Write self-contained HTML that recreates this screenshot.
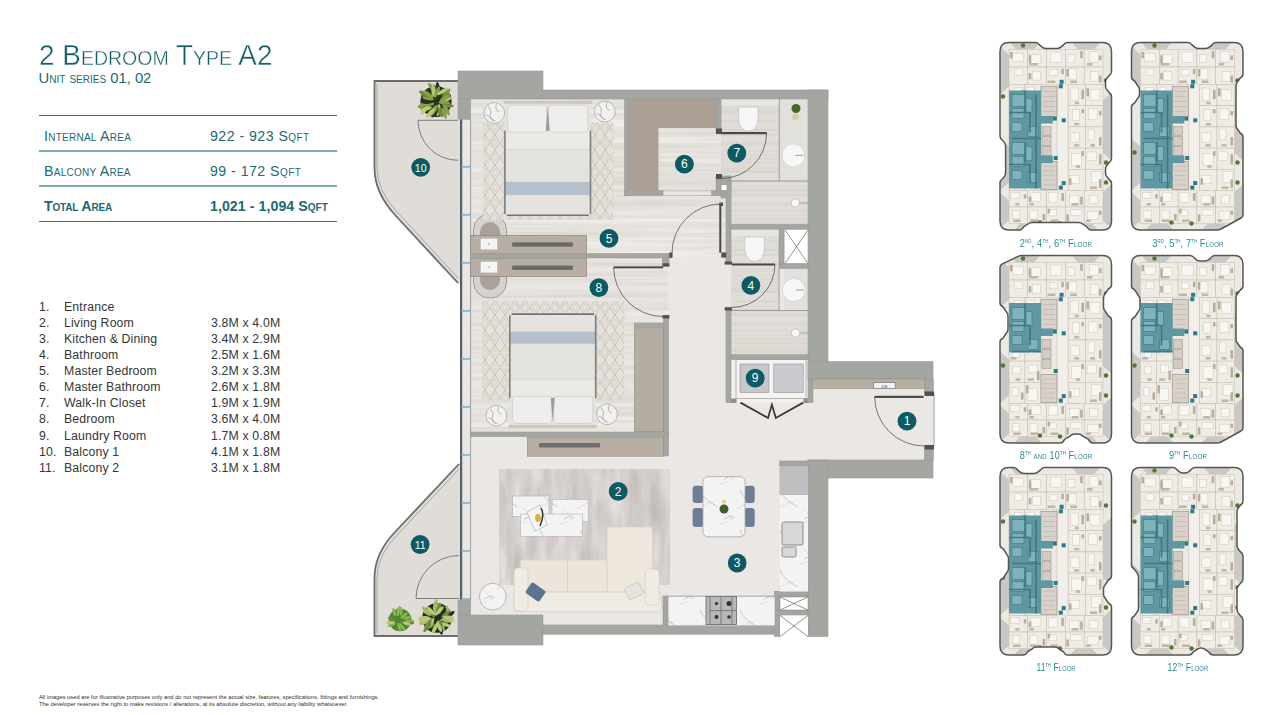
<!DOCTYPE html><html><head><meta charset="utf-8"><style>
*{margin:0;padding:0;box-sizing:border-box}
html,body{width:1280px;height:715px;background:#fff;overflow:hidden}
body{position:relative;font-family:"Liberation Sans",sans-serif}
.t{position:absolute;white-space:nowrap}
#title{left:39px;top:37.7px;font-size:30px;color:#14606a;-webkit-text-stroke:0.4px #fff;font-variant:small-caps;transform:scaleX(0.93);transform-origin:0 0}
#sub{left:38.5px;top:70px;font-size:14.8px;color:#1d6a72;font-variant:small-caps}
.hl{position:absolute;left:39px;width:298px;height:1px;background:#3f8088}
.rl{position:absolute;left:44px;font-size:14.2px;letter-spacing:0.25px;color:#1d6a72;font-variant:small-caps}
.rv{position:absolute;left:210px;font-size:14.2px;letter-spacing:0.45px;color:#1d6a72;font-variant:small-caps}
.rl.b{font-weight:bold;letter-spacing:-0.2px}.rv.b{font-weight:bold;letter-spacing:0.05px}
.li{position:absolute;font-size:12.3px;color:#363636;letter-spacing:0.15px}
#disc{left:39px;top:694px;font-size:5.75px;line-height:7.1px;color:#2e2e2e}
svg{position:absolute;left:0;top:0}
.kl{position:absolute;width:140px;text-align:center;font-size:10.5px;color:#2a8797;font-variant:small-caps;letter-spacing:0.2px;line-height:12px}
.kl sup{font-size:5px;vertical-align:4px;text-transform:uppercase;letter-spacing:0}
</style></head><body><div class="t" id="title">2 Bedroom Type A2</div>
<div class="t" id="sub">Unit series 01, 02</div>
<div class="hl" style="top:115px;height:1px;background:#2f747c"></div>
<div class="hl" style="top:150px;height:2px;background:#7eaab0"></div>
<div class="hl" style="top:185px;height:2px;background:#7eaab0"></div>
<div class="hl" style="top:221px;height:1px;background:#2f747c"></div>
<div class="t rl" style="top:127.5px">Internal Area</div>
<div class="t rv" style="top:127.5px">922 - 923 Sqft</div>
<div class="t rl" style="top:162.5px">Balcony Area</div>
<div class="t rv" style="top:162.5px">99 - 172 Sqft</div>
<div class="t rl b" style="top:197.5px">Total Area</div>
<div class="t rv b" style="top:197.5px">1,021 - 1,094 Sqft</div>
<div class="t li" style="left:39px;top:300.00px">1.</div>
<div class="t li" style="left:64px;top:300.00px">Entrance</div>
<div class="t li" style="left:39px;top:316.07px">2.</div>
<div class="t li" style="left:64px;top:316.07px">Living Room</div>
<div class="t li" style="left:211px;top:316.07px">3.8M x 4.0M</div>
<div class="t li" style="left:39px;top:332.14px">3.</div>
<div class="t li" style="left:64px;top:332.14px">Kitchen &amp; Dining</div>
<div class="t li" style="left:211px;top:332.14px">3.4M x 2.9M</div>
<div class="t li" style="left:39px;top:348.21px">4.</div>
<div class="t li" style="left:64px;top:348.21px">Bathroom</div>
<div class="t li" style="left:211px;top:348.21px">2.5M x 1.6M</div>
<div class="t li" style="left:39px;top:364.28px">5.</div>
<div class="t li" style="left:64px;top:364.28px">Master Bedroom</div>
<div class="t li" style="left:211px;top:364.28px">3.2M x 3.3M</div>
<div class="t li" style="left:39px;top:380.35px">6.</div>
<div class="t li" style="left:64px;top:380.35px">Master Bathroom</div>
<div class="t li" style="left:211px;top:380.35px">2.6M x 1.8M</div>
<div class="t li" style="left:39px;top:396.42px">7.</div>
<div class="t li" style="left:64px;top:396.42px">Walk-In Closet</div>
<div class="t li" style="left:211px;top:396.42px">1.9M x 1.9M</div>
<div class="t li" style="left:39px;top:412.49px">8.</div>
<div class="t li" style="left:64px;top:412.49px">Bedroom</div>
<div class="t li" style="left:211px;top:412.49px">3.6M x 4.0M</div>
<div class="t li" style="left:39px;top:428.56px">9.</div>
<div class="t li" style="left:64px;top:428.56px">Laundry Room</div>
<div class="t li" style="left:211px;top:428.56px">1.7M x 0.8M</div>
<div class="t li" style="left:39px;top:444.63px">10.</div>
<div class="t li" style="left:64px;top:444.63px">Balcony 1</div>
<div class="t li" style="left:211px;top:444.63px">4.1M x 1.8M</div>
<div class="t li" style="left:39px;top:460.70px">11.</div>
<div class="t li" style="left:64px;top:460.70px">Balcony 2</div>
<div class="t li" style="left:211px;top:460.70px">3.1M x 1.8M</div>
<div class="t" id="disc">All images used are for illustrative purposes only and do not represent the actual size, features, specifications, fittings and furnishings.<br>The developer reserves the right to make revisions / alterations, at its absolute discretion, without any liability whatsoever.</div>
<svg width="1280" height="715" viewBox="0 0 1280 715"><defs><pattern id="wood" width="200" height="60" patternUnits="userSpaceOnUse"><rect x="0" y="0" width="200" height="2" fill="#e9e7e4"/><rect x="0" y="2" width="200" height="2.5" fill="#e7e5e1"/><rect x="0" y="4.5" width="200" height="1" fill="#e2dfdb"/><rect x="0" y="5.5" width="200" height="3" fill="#e2dfdb"/><rect x="0" y="8.5" width="200" height="2" fill="#dfdcd7"/><rect x="0" y="10.5" width="200" height="1" fill="#dfdcd7"/><rect x="0" y="11.5" width="200" height="1.5" fill="#e2dfdb"/><rect x="0" y="13.0" width="200" height="1" fill="#ecebe8"/><rect x="0" y="14.0" width="200" height="2.5" fill="#e2dfdb"/><rect x="0" y="16.5" width="200" height="1.5" fill="#e2dfdb"/><rect x="0" y="18.0" width="200" height="3" fill="#ecebe8"/><rect x="0" y="21.0" width="200" height="1" fill="#dfdcd7"/><rect x="0" y="22.0" width="200" height="1" fill="#e9e7e4"/><rect x="0" y="23.0" width="200" height="4" fill="#e7e5e1"/><rect x="0" y="27.0" width="200" height="3" fill="#e2dfdb"/><rect x="0" y="30.0" width="200" height="3" fill="#dfdcd7"/><rect x="0" y="33.0" width="200" height="2.5" fill="#e2dfdb"/><rect x="0" y="35.5" width="200" height="1.5" fill="#e2dfdb"/><rect x="0" y="37.0" width="200" height="3" fill="#e9e7e4"/><rect x="0" y="40.0" width="200" height="2" fill="#ecebe8"/><rect x="0" y="42.0" width="200" height="1.5" fill="#dfdcd7"/><rect x="0" y="43.5" width="200" height="1" fill="#dfdcd7"/><rect x="0" y="44.5" width="200" height="2" fill="#dfdcd7"/><rect x="0" y="46.5" width="200" height="4" fill="#e9e7e4"/><rect x="0" y="50.5" width="200" height="1" fill="#dfdcd7"/><rect x="0" y="51.5" width="200" height="3" fill="#e7e5e1"/><rect x="0" y="54.5" width="200" height="1.5" fill="#e5e2de"/><rect x="0" y="56.0" width="200" height="1" fill="#dfdcd7"/><rect x="0" y="57.0" width="200" height="4" fill="#e2dfdb"/></pattern><pattern id="tile" width="200" height="60" patternUnits="userSpaceOnUse"><rect x="0" y="0" width="200" height="3" fill="#dcd8d2"/><rect x="0" y="3" width="200" height="3" fill="#e2dfda"/><rect x="0" y="6" width="200" height="2.5" fill="#dedad4"/><rect x="0" y="8.5" width="200" height="2.5" fill="#d9d5cf"/><rect x="0" y="11.0" width="200" height="2.5" fill="#dedad4"/><rect x="0" y="13.5" width="200" height="2.5" fill="#d9d5cf"/><rect x="0" y="16.0" width="200" height="2" fill="#e2dfda"/><rect x="0" y="18.0" width="200" height="1.5" fill="#e2dfda"/><rect x="0" y="19.5" width="200" height="1" fill="#dedad4"/><rect x="0" y="20.5" width="200" height="2" fill="#dedad4"/><rect x="0" y="22.5" width="200" height="2.5" fill="#d9d5cf"/><rect x="0" y="25.0" width="200" height="4" fill="#e0ddd8"/><rect x="0" y="29.0" width="200" height="2" fill="#dedad4"/><rect x="0" y="31.0" width="200" height="1" fill="#dcd8d2"/><rect x="0" y="32.0" width="200" height="3" fill="#e0ddd8"/><rect x="0" y="35.0" width="200" height="1.5" fill="#d9d5cf"/><rect x="0" y="36.5" width="200" height="1.5" fill="#e0ddd8"/><rect x="0" y="38.0" width="200" height="2.5" fill="#dcd8d2"/><rect x="0" y="40.5" width="200" height="4" fill="#dcd8d2"/><rect x="0" y="44.5" width="200" height="3" fill="#dedad4"/><rect x="0" y="47.5" width="200" height="2" fill="#d9d5cf"/><rect x="0" y="49.5" width="200" height="4" fill="#d9d5cf"/><rect x="0" y="53.5" width="200" height="3" fill="#e0ddd8"/><rect x="0" y="56.5" width="200" height="3" fill="#e0ddd8"/><rect x="0" y="59.5" width="200" height="1" fill="#dcd8d2"/></pattern><pattern id="rug" width="10" height="15" patternUnits="userSpaceOnUse"><rect width="10" height="15" fill="#e5e1db"/><path d="M5,0 L10,7.5 L5,15 L0,7.5 Z" fill="none" stroke="#c7c0b6" stroke-width="0.9"/><path d="M5,3.5 L7.5,7.5 L5,11.5 L2.5,7.5 Z" fill="none" stroke="#d1cbc3" stroke-width="0.7"/></pattern><pattern id="lrug" width="60" height="120" patternUnits="userSpaceOnUse"><rect width="60" height="120" fill="#d9d3ce"/><rect x="56.7" y="-12.2" width="3.4" height="93.1" fill="#c2c4c9" opacity="0.7"/><rect x="18.6" y="78.6" width="3.9" height="48.5" fill="#c2c4c9" opacity="0.7"/><rect x="23.1" y="92.9" width="4.3" height="55.5" fill="#cfc8c3" opacity="0.7"/><rect x="36.7" y="72.2" width="3.5" height="32.9" fill="#e2ddd8" opacity="0.7"/><rect x="14.9" y="-10.3" width="3.0" height="64.9" fill="#d4cbc3" opacity="0.7"/><rect x="33.0" y="83.7" width="5.4" height="47.8" fill="#d4cbc3" opacity="0.7"/><rect x="24.9" y="94.9" width="2.8" height="35.1" fill="#d4cbc3" opacity="0.7"/><rect x="10.6" y="-18.6" width="2.2" height="103.1" fill="#e2ddd8" opacity="0.7"/><rect x="10.9" y="30.3" width="2.4" height="56.9" fill="#e2ddd8" opacity="0.7"/><rect x="34.0" y="83.1" width="5.8" height="115.0" fill="#c2c4c9" opacity="0.7"/><rect x="39.3" y="87.9" width="4.7" height="98.0" fill="#d4cbc3" opacity="0.7"/><rect x="52.5" y="27.8" width="5.0" height="59.4" fill="#d4cbc3" opacity="0.7"/><rect x="28.9" y="-11.9" width="3.0" height="40.9" fill="#e2ddd8" opacity="0.7"/><rect x="9.7" y="-7.7" width="2.7" height="76.7" fill="#cfc8c3" opacity="0.7"/><rect x="32.2" y="-16.9" width="5.7" height="107.4" fill="#e6e1dc" opacity="0.7"/><rect x="36.8" y="94.7" width="1.7" height="80.2" fill="#c9c8cc" opacity="0.7"/><rect x="28.4" y="99.2" width="1.6" height="66.6" fill="#d4cbc3" opacity="0.7"/><rect x="29.0" y="70.0" width="1.4" height="94.0" fill="#cfc8c3" opacity="0.7"/><rect x="28.7" y="-17.2" width="4.5" height="115.1" fill="#e6e1dc" opacity="0.7"/><rect x="31.7" y="89.7" width="1.7" height="95.8" fill="#e6e1dc" opacity="0.7"/><rect x="17.9" y="63.5" width="4.2" height="46.1" fill="#cfc8c3" opacity="0.7"/><rect x="22.0" y="43.9" width="1.8" height="97.9" fill="#e2ddd8" opacity="0.7"/><rect x="19.8" y="76.7" width="2.1" height="101.8" fill="#e2ddd8" opacity="0.7"/><rect x="44.4" y="39.1" width="2.1" height="93.1" fill="#e6e1dc" opacity="0.7"/><rect x="59.4" y="11.1" width="5.0" height="89.3" fill="#d4cbc3" opacity="0.7"/><rect x="57.4" y="98.6" width="3.2" height="115.5" fill="#c2c4c9" opacity="0.7"/><rect x="21.9" y="36.4" width="2.1" height="53.8" fill="#e2ddd8" opacity="0.7"/><rect x="29.0" y="80.9" width="5.9" height="67.9" fill="#e6e1dc" opacity="0.7"/><rect x="39.2" y="80.2" width="5.0" height="32.0" fill="#cfc8c3" opacity="0.7"/><rect x="23.3" y="37.4" width="4.6" height="37.9" fill="#e2ddd8" opacity="0.7"/><rect x="47.3" y="27.5" width="2.7" height="60.1" fill="#c2c4c9" opacity="0.7"/><rect x="56.8" y="99.2" width="4.6" height="22.8" fill="#e2ddd8" opacity="0.7"/><rect x="35.4" y="-2.5" width="3.3" height="102.7" fill="#c2c4c9" opacity="0.7"/><rect x="58.8" y="-1.3" width="4.3" height="74.8" fill="#c9c8cc" opacity="0.7"/><rect x="1.3" y="58.0" width="5.0" height="72.7" fill="#c2c4c9" opacity="0.7"/><rect x="56.0" y="79.1" width="3.2" height="41.1" fill="#e2ddd8" opacity="0.7"/><rect x="15.1" y="71.6" width="2.5" height="52.6" fill="#e2ddd8" opacity="0.7"/><rect x="32.7" y="89.2" width="5.2" height="55.4" fill="#cfc8c3" opacity="0.7"/><rect x="27.5" y="30.5" width="3.9" height="111.8" fill="#e6e1dc" opacity="0.7"/><rect x="30.1" y="41.3" width="3.7" height="107.3" fill="#e6e1dc" opacity="0.7"/></pattern><pattern id="marble" width="40" height="40" patternUnits="userSpaceOnUse"><rect width="40" height="40" fill="#f3f3f3"/><path d="M31.1,24.3 q5.5,-7.0 -14.3,4.8" stroke="#c2c3c7" stroke-width="0.5" fill="none"/><path d="M2.5,27.3 q0.6,-0.4 11.1,15.3" stroke="#c2c3c7" stroke-width="0.4" fill="none"/><path d="M7.7,1.7 q-8.0,-1.0 -18.9,15.8" stroke="#c2c3c7" stroke-width="0.4" fill="none"/><path d="M13.0,38.9 q2.1,-6.0 -8.9,0.3" stroke="#c2c3c7" stroke-width="0.9" fill="none"/><path d="M20.3,9.9 q0.5,7.5 17.1,16.9" stroke="#c2c3c7" stroke-width="0.9" fill="none"/></pattern><filter id="rugf" x="0" y="0" width="100%" height="100%" color-interpolation-filters="sRGB"><feTurbulence type="fractalNoise" baseFrequency="0.07 0.015" numOctaves="4" seed="5"/><feColorMatrix type="matrix" values="0.24 0 0 0 0.715  0.24 0 0 0 0.693  0.26 0 0 0 0.673  0 0 0 0 1"/></filter><filter id="woodf" x="0" y="0" width="100%" height="100%" color-interpolation-filters="sRGB"><feTurbulence type="fractalNoise" baseFrequency="0.004 0.22" numOctaves="3" seed="9"/><feColorMatrix type="matrix" values="0.14 0 0 0 0.832  0.14 0 0 0 0.82  0.14 0 0 0 0.80  0 0 0 0 1"/></filter></defs><path d="M374,81 L461,81 L461,286 L396,216 Q374,193 374,168 Z" fill="#e0dcd8"/><path d="M458,81 L374.5,81 L374.5,168 Q374.5,193 396,216 L458,283" fill="none" stroke="#6d6d6d" stroke-width="1.8"/><path d="M377,84 L377,168 Q377,191 398,213 L458,278" fill="none" stroke="#9a9a9a" stroke-width="0.8"/><path d="M461,462 L396,531 Q374,553 374,578 L374,636 L461,636 Z" fill="#e0dcd8"/><path d="M459,464 L396,531 Q374.5,553 374.5,578 L374.5,636 L459,636" fill="none" stroke="#6d6d6d" stroke-width="1.8"/><path d="M459,469 L398,534 Q377,555 377,578 L377,633" fill="none" stroke="#9a9a9a" stroke-width="0.8"/><path d="M418,120.3 L458,120.3 M418,120.3 A40,40 0 0 0 458,160.3" fill="none" stroke="#666" stroke-width="0.8"/><path d="M416,598.5 L459,598.5 M416,598.5 A43,43 0 0 1 459,555.5" fill="none" stroke="#666" stroke-width="0.8"/><rect x="461" y="99" width="347.00" height="526.00" fill="#ebe7e4" /><rect x="808" y="379" width="125.00" height="81.00" fill="#ebe7e4" /><g filter="url(#woodf)"><rect x="461" y="99" width="265" height="333" fill="#e6e3df"/></g><rect x="668.5" y="258" width="57.50" height="179.00" fill="#ebe7e4" /><rect x="663.5" y="432" width="62.50" height="5.00" fill="#ebe7e4" /><rect x="721" y="99" width="58.30" height="82.00" fill="url(#tile)" /><rect x="721" y="99" width="58.30" height="6.50" fill="#e7e5e2" /><rect x="779.3" y="99" width="28.70" height="82.00" fill="#e2e0dd" /><rect x="731" y="181" width="77.00" height="43.30" fill="url(#tile)" /><rect x="731" y="229.2" width="48.00" height="81.30" fill="url(#tile)" /><rect x="731" y="229.2" width="48.00" height="6.80" fill="#e7e5e2" /><rect x="784" y="268.4" width="24.00" height="42.10" fill="#e2e0dd" /><rect x="785" y="230" width="23.00" height="33.50" fill="#ffffff" /><path d="M785,230 L808,263.5 M808,230 L785,263.5" stroke="#666" stroke-width="0.7"/><rect x="731" y="310.5" width="77.00" height="44.20" fill="url(#tile)" /><line x1="731" y1="181" x2="808" y2="181" stroke="#8a8a8a" stroke-width="0.8" /><line x1="779.3" y1="99" x2="779.3" y2="181" stroke="#8a8a8a" stroke-width="0.8" /><line x1="731" y1="310.5" x2="808" y2="310.5" stroke="#8a8a8a" stroke-width="0.8" /><line x1="779" y1="268.4" x2="779" y2="310.5" stroke="#8a8a8a" stroke-width="0.8" /><rect x="731" y="359.6" width="77.00" height="43.00" fill="#f2f1ef" /><rect x="736" y="359.6" width="70.00" height="39.10" fill="#f5f4f2" stroke="#8a8a8a" stroke-width="0.6"/><rect x="740" y="364" width="29.00" height="28.50" fill="#c6c8cb" stroke="#8f9194" stroke-width="0.6"/><rect x="773.8" y="364" width="29.40" height="28.50" fill="#c9cbce" stroke="#8f9194" stroke-width="0.6"/><path d="M629,99 L716,99 L716,128 L658.5,128 L658.5,190.7 L629,190.7 Z" fill="#ac9f93"/><rect x="461" y="119" width="9.60" height="481.50" fill="#e9e7e4" /><rect x="460" y="119" width="2.20" height="481.50" fill="#56616a" /><line x1="470.6" y1="119" x2="470.6" y2="600.5" stroke="#8c8c8c" stroke-width="0.8" /><rect x="461.5" y="117.89999999999999" width="9.10" height="1.80" fill="#8cb7d3" /><rect x="461.5" y="165.92" width="9.10" height="1.80" fill="#8cb7d3" /><rect x="461.5" y="213.94" width="9.10" height="1.80" fill="#8cb7d3" /><rect x="461.5" y="261.96000000000004" width="9.10" height="1.80" fill="#8cb7d3" /><rect x="461.5" y="309.98" width="9.10" height="1.80" fill="#8cb7d3" /><rect x="461.5" y="358.00000000000006" width="9.10" height="1.80" fill="#8cb7d3" /><rect x="461.5" y="406.02000000000004" width="9.10" height="1.80" fill="#8cb7d3" /><rect x="461.5" y="454.0400000000001" width="9.10" height="1.80" fill="#8cb7d3" /><rect x="461.5" y="502.06000000000006" width="9.10" height="1.80" fill="#8cb7d3" /><rect x="461.5" y="550.08" width="9.10" height="1.80" fill="#8cb7d3" /><rect x="461.5" y="598.1" width="9.10" height="1.80" fill="#8cb7d3" /><rect x="458" y="71" width="85.00" height="28.00" fill="#a4a6a1" stroke="#9a9c97" stroke-width="0.6"/><rect x="543" y="90" width="285.00" height="9.00" fill="#a4a6a1" stroke="#9a9c97" stroke-width="0.6"/><rect x="808" y="90" width="20.00" height="289.00" fill="#a4a6a1" stroke="#9a9c97" stroke-width="0.6"/><rect x="808" y="361.5" width="125.00" height="17.50" fill="#a4a6a1" stroke="#9a9c97" stroke-width="0.6"/><rect x="808" y="460" width="125.00" height="18.00" fill="#a4a6a1" stroke="#9a9c97" stroke-width="0.6"/><rect x="808" y="460" width="20.00" height="176.50" fill="#a4a6a1" stroke="#9a9c97" stroke-width="0.6"/><rect x="543" y="625" width="265.00" height="9.20" fill="#a4a6a1" stroke="#9a9c97" stroke-width="0.6"/><rect x="458" y="615" width="85.00" height="30.00" fill="#a4a6a1" stroke="#9a9c97" stroke-width="0.6"/><rect x="458" y="600" width="12.60" height="15.00" fill="#a4a6a1" stroke="#9a9c97" stroke-width="0.6"/><rect x="458" y="99" width="12.60" height="20.00" fill="#a4a6a1" stroke="#9a9c97" stroke-width="0.6"/><rect x="470.6" y="253.5" width="201.40" height="4.50" fill="#a4a6a1" stroke="#9a9c97" stroke-width="0.6"/><rect x="624.6" y="99" width="4.40" height="96.60" fill="#a4a6a1" stroke="#9a9c97" stroke-width="0.6"/><rect x="624.6" y="190.7" width="38.40" height="4.90" fill="#a4a6a1" stroke="#9a9c97" stroke-width="0.6"/><rect x="711.4" y="190.7" width="9.60" height="4.90" fill="#a4a6a1" stroke="#9a9c97" stroke-width="0.6"/><rect x="716" y="99" width="5.00" height="34.00" fill="#a4a6a1" stroke="#9a9c97" stroke-width="0.6"/><rect x="716" y="176" width="5.00" height="19.60" fill="#a4a6a1" stroke="#9a9c97" stroke-width="0.6"/><rect x="721" y="176" width="10.00" height="22.00" fill="#a4a6a1" stroke="#9a9c97" stroke-width="0.6"/><rect x="726" y="181" width="5.00" height="82.50" fill="#a4a6a1" stroke="#9a9c97" stroke-width="0.6"/><rect x="726" y="307.5" width="5.00" height="95.10" fill="#a4a6a1" stroke="#9a9c97" stroke-width="0.6"/><rect x="731" y="224.3" width="77.00" height="4.90" fill="#a4a6a1" stroke="#9a9c97" stroke-width="0.6"/><rect x="779" y="229" width="5.00" height="34.50" fill="#a4a6a1" stroke="#9a9c97" stroke-width="0.6"/><rect x="779" y="263.5" width="29.00" height="4.90" fill="#a4a6a1" stroke="#9a9c97" stroke-width="0.6"/><rect x="731" y="354.7" width="77.00" height="4.90" fill="#a4a6a1" stroke="#9a9c97" stroke-width="0.6"/><rect x="808" y="379" width="5.00" height="23.60" fill="#a4a6a1" stroke="#9a9c97" stroke-width="0.6"/><rect x="663.4" y="315.5" width="5.10" height="140.50" fill="#a4a6a1" stroke="#9a9c97" stroke-width="0.6"/><rect x="470.6" y="432" width="197.90" height="4.60" fill="#a4a6a1" stroke="#9a9c97" stroke-width="0.6"/><rect x="662.3" y="258" width="6.70" height="7.20" fill="#a4a6a1" stroke="#9a9c97" stroke-width="0.6"/><rect x="774.6" y="591.5" width="5.40" height="45.10" fill="#a4a6a1" stroke="#9a9c97" stroke-width="0.6"/><rect x="774.6" y="591.5" width="33.40" height="5.50" fill="#a4a6a1" stroke="#9a9c97" stroke-width="0.6"/><rect x="774.6" y="610" width="33.40" height="5.40" fill="#a4a6a1" stroke="#9a9c97" stroke-width="0.6"/><rect x="663" y="596" width="5.50" height="29.00" fill="#a4a6a1" stroke="#9a9c97" stroke-width="0.6"/><rect x="779.4" y="461" width="28.60" height="5.00" fill="#a4a6a1" stroke="#9a9c97" stroke-width="0.6"/><rect x="924.5" y="379" width="8.90" height="13.80" fill="#a4a6a1" stroke="#9a9c97" stroke-width="0.6"/><rect x="924.5" y="445.7" width="8.90" height="14.70" fill="#a4a6a1" stroke="#9a9c97" stroke-width="0.6"/><rect x="663" y="190.9" width="48.40" height="4.50" fill="#e8e6e3" stroke="#999" stroke-width="0.5"/><rect x="721.5" y="185" width="5" height="5" fill="#fff"/><rect x="779.4" y="466" width="28.60" height="29.00" fill="#bdbec0" /><rect x="779.7" y="495" width="28.30" height="96.50" fill="url(#marble)" /><rect x="782" y="522" width="21.00" height="23.00" fill="#d8d8d8" stroke="#777" stroke-width="0.8" rx="1.5"/><rect x="782" y="547" width="14.00" height="10.00" fill="#d8d8d8" stroke="#777" stroke-width="0.8" rx="1.5"/><rect x="668.5" y="596.2" width="106.10" height="29.20" fill="url(#marble)" /><line x1="668.5" y1="596.2" x2="774.6" y2="596.2" stroke="#888" stroke-width="0.7" /><rect x="706" y="596.6" width="30.50" height="28.00" fill="#b8b8b8" stroke="#666" stroke-width="0.8"/><path d="M710,597 V624 M721,597 V624 M732,597 V624 M710,610.6 H736" stroke="#555" stroke-width="0.6"/><circle cx="716.5" cy="603.5" r="1.6" fill="#333"/><circle cx="729" cy="603.5" r="2.5" fill="#333"/><circle cx="716.5" cy="617" r="2" fill="#333"/><circle cx="729" cy="617" r="1.8" fill="#333"/><rect x="780" y="597" width="28.00" height="13.00" fill="#fff" /><rect x="780" y="615.4" width="28.00" height="21.20" fill="#fff" /><path d="M780,597 L808,610 M808,597 L780,610 M780,615.4 L808,636.6 M808,615.4 L780,636.6" stroke="#666" stroke-width="0.7"/><rect x="780" y="597" width="28.00" height="13.00" fill="none" stroke="#888" stroke-width="0.5"/><rect x="812" y="379" width="112.50" height="9.50" fill="#b9aea2" stroke="#8e857b" stroke-width="0.5"/><rect x="873.6" y="382.7" width="21.60" height="5.80" fill="#f2f2f2" stroke="#666" stroke-width="0.6"/><line x1="934" y1="392.8" x2="934" y2="445.7" stroke="#777" stroke-width="0.8" /><rect x="473.5" y="214" width="33" height="46" rx="16" fill="#d6d2cd" stroke="#8f8b87" stroke-width="0.8"/><rect x="480" y="222" width="20" height="34" rx="10" fill="#a9a29b"/><rect x="473.5" y="252" width="33" height="46" rx="16" fill="#d6d2cd" stroke="#8f8b87" stroke-width="0.8"/><rect x="480" y="256" width="20" height="34" rx="10" fill="#a9a29b"/><rect x="470.6" y="235.3" width="115.90" height="18.60" fill="#b8aea3" stroke="#8e857b" stroke-width="0.7"/><rect x="480.4" y="238.3" width="17.20" height="11.50" fill="#f4f4f4" stroke="#aaa" stroke-width="0.4"/><circle cx="489" cy="244.0" r="0.7" fill="#777"/><rect x="512" y="242.3" width="61.00" height="4.50" fill="#707070" rx="1"/><rect x="514" y="243.3" width="57.00" height="2.50" fill="#6a6a6a" /><rect x="470.6" y="258.4" width="115.90" height="18.00" fill="#b8aea3" stroke="#8e857b" stroke-width="0.7"/><rect x="480.4" y="261.4" width="17.20" height="11.50" fill="#f4f4f4" stroke="#aaa" stroke-width="0.4"/><circle cx="489" cy="267.09999999999997" r="0.7" fill="#777"/><rect x="512" y="265.4" width="61.00" height="4.50" fill="#707070" rx="1"/><rect x="514" y="266.4" width="57.00" height="2.50" fill="#6a6a6a" /><rect x="470.6" y="253.9" width="115.90" height="4.50" fill="#a4a6a1" stroke="#9a9c97" stroke-width="0.6"/><rect x="483" y="122.4" width="130.30" height="97.30" fill="url(#rug)" /><rect x="482.2" y="301.1" width="142.10" height="99.40" fill="url(#rug)" /><g transform="translate(503.7,100.7)"><rect x="0" y="0" width="88" height="3.2" fill="#cfc5ba"/><rect x="1.5" y="3" width="85" height="112.3" fill="#e5e3df" rx="2"/><rect x="4" y="4.5" width="39.0" height="27" rx="3" fill="#eeeeec" stroke="#cfcecb" stroke-width="0.8"/><rect x="45.0" y="4.5" width="39.0" height="27" rx="3" fill="#eeeeec" stroke="#cfcecb" stroke-width="0.8"/><path d="M44.0,6 L42.0,30 L46.0,30 Z" fill="#9c9c9c"/><rect x="1" y="32" width="86" height="17" fill="#ebe9e6"/><line x1="1" y1="49" x2="87" y2="49" stroke="#d5d3cf" stroke-width="1"/><line x1="1" y1="73.2" x2="87" y2="73.2" stroke="#dcdad6" stroke-width="0.8"/><rect x="1" y="81.2" width="86" height="13.200000000000003" fill="#b4c1cb"/><path d="M1.2,30 V113.3 M86.8,30 V113.3" stroke="#7d7d7d" stroke-width="1.6"/><path d="M3,114.5 H85" stroke="#727272" stroke-width="1.6"/></g><g transform="translate(508.6,427.9) scale(1,-1)"><rect x="0" y="0" width="88.3" height="3.2" fill="#cfc5ba"/><rect x="1.5" y="3" width="85.3" height="111.6" fill="#e5e3df" rx="2"/><rect x="4" y="4.5" width="39.15" height="27" rx="3" fill="#eeeeec" stroke="#cfcecb" stroke-width="0.8"/><rect x="45.15" y="4.5" width="39.15" height="27" rx="3" fill="#eeeeec" stroke="#cfcecb" stroke-width="0.8"/><path d="M44.15,6 L42.15,30 L46.15,30 Z" fill="#9c9c9c"/><rect x="1" y="32" width="86.3" height="17" fill="#ebe9e6"/><line x1="1" y1="49" x2="87.3" y2="49" stroke="#d5d3cf" stroke-width="1"/><line x1="1" y1="76.2" x2="87.3" y2="76.2" stroke="#dcdad6" stroke-width="0.8"/><rect x="1" y="84.2" width="86.3" height="12.200000000000003" fill="#b4c1cb"/><path d="M1.2,30 V112.6 M87.1,30 V112.6" stroke="#7d7d7d" stroke-width="1.6"/><path d="M3,113.8 H85.3" stroke="#727272" stroke-width="1.6"/></g><circle cx="494.3" cy="113" r="10.4" fill="#f0f0f0" stroke="#a8a8a8" stroke-width="0.8"/><path d="M488.3,106 q4,5 2,9 t5,6 M496.3,104 q-2,6 3,8 M486.3,115 q5,1 7,6" fill="none" stroke="#a9abb0" stroke-width="0.9"/><circle cx="604.8" cy="111.6" r="10.4" fill="#f0f0f0" stroke="#a8a8a8" stroke-width="0.8"/><path d="M598.8,104.6 q4,5 2,9 t5,6 M606.8,102.6 q-2,6 3,8 M596.8,113.6 q5,1 7,6" fill="none" stroke="#a9abb0" stroke-width="0.9"/><circle cx="496.4" cy="415.7" r="10.4" fill="#f0f0f0" stroke="#a8a8a8" stroke-width="0.8"/><path d="M490.4,408.7 q4,5 2,9 t5,6 M498.4,406.7 q-2,6 3,8 M488.4,417.7 q5,1 7,6" fill="none" stroke="#a9abb0" stroke-width="0.9"/><circle cx="607" cy="414.3" r="10.4" fill="#f0f0f0" stroke="#a8a8a8" stroke-width="0.8"/><path d="M601,407.3 q4,5 2,9 t5,6 M609,405.3 q-2,6 3,8 M599,416.3 q5,1 7,6" fill="none" stroke="#a9abb0" stroke-width="0.9"/><rect x="634.6" y="323.1" width="28.80" height="108.60" fill="#b5aca2" stroke="#8e857b" stroke-width="0.6"/><rect x="634.6" y="323.1" width="28.80" height="5.50" fill="#a6a7a4" /><rect x="527.5" y="437.2" width="136.10" height="19.00" fill="#b7aea4" stroke="#8e857b" stroke-width="0.6"/><rect x="539" y="443" width="61.00" height="4.40" fill="#6e6e6e" rx="1"/><path d="M738.6,107 H758 V119.15 A9.699999999999989,12.150000000000006 0 0 1 738.6,119.15 Z" fill="#f6f6f6" stroke="#b9b9b9" stroke-width="0.6"/><path d="M744.8,237 H764.4 V249.25 A9.800000000000011,12.25 0 0 1 744.8,249.25 Z" fill="#f6f6f6" stroke="#b9b9b9" stroke-width="0.6"/><circle cx="793.4" cy="155.4" r="11.5" fill="#f7f7f7" stroke="#d0d0d0" stroke-width="0.8"/><line x1="795.4" y1="155.4" x2="803.4" y2="155.4" stroke="#a5a5a5" stroke-width="1.1" /><circle cx="793.8" cy="290" r="11.5" fill="#f7f7f7" stroke="#d0d0d0" stroke-width="0.8"/><line x1="795.8" y1="290" x2="803.8" y2="290" stroke="#a5a5a5" stroke-width="1.1" /><circle cx="795.5" cy="203" r="4.2" fill="#f8f8f8" stroke="#aaa" stroke-width="0.6"/><line x1="799.5" y1="203" x2="807.5" y2="203" stroke="#999" stroke-width="0.8" /><circle cx="795.7" cy="333" r="4.2" fill="#f8f8f8" stroke="#aaa" stroke-width="0.6"/><line x1="799.7" y1="333" x2="807.7" y2="333" stroke="#999" stroke-width="0.8" /><circle cx="795.5" cy="117" r="2.6" fill="#e9d27a" stroke="#c8b060" stroke-width="0.5"/><circle cx="796" cy="108.5" r="4.5" fill="#3f6b2a"/><rect x="499" y="469.3" width="170.80" height="115.70" fill="#d8d2cd" filter="url(#rugf)"/><g filter="none"><rect x="512.5" y="496" width="36.50" height="20.50" fill="url(#marble)" stroke="#b0b0b0" stroke-width="0.6"/><rect x="552" y="499.3" width="36.20" height="22.50" fill="url(#marble)" stroke="#b0b0b0" stroke-width="0.6"/><rect x="520.7" y="514" width="61.60" height="22.50" fill="url(#marble)" stroke="#b0b0b0" stroke-width="0.6"/></g><path d="M527,512 L540,505 L547,525 L535,531 Z" fill="#f5f5f5" stroke="#999" stroke-width="0.5"/><ellipse cx="538" cy="518" rx="3" ry="4" fill="#d9b13a"/><path d="M541,508 Q545,515 540,526" stroke="#333" stroke-width="1.5" fill="none"/><rect x="607" y="527" width="45.30" height="65.00" fill="#ede7de" stroke="#d6cfc4" stroke-width="0.6"/><rect x="520.5" y="560" width="47.00" height="32.00" fill="#ebe5db" stroke="#d6cfc4" stroke-width="0.6"/><rect x="567.5" y="560" width="39.50" height="32.00" fill="#ebe5db" stroke="#d6cfc4" stroke-width="0.6"/><rect x="514" y="592" width="147.50" height="19.70" fill="#efeae2" stroke="#d2cabe" stroke-width="0.6" rx="3"/><rect x="514" y="567.7" width="14.00" height="43.30" fill="#f0ebe3" stroke="#d2cabe" stroke-width="0.6" rx="4"/><rect x="645.3" y="568.9" width="14.00" height="36.10" fill="#f0ebe3" stroke="#d2cabe" stroke-width="0.6" rx="4"/><rect x="-8.5" y="-6.5" width="17" height="13" rx="2" fill="#5e7392" transform="translate(535.5,592) rotate(35)"/><rect x="-8" y="-6.5" width="16" height="13" rx="2" fill="#e4e3df" stroke="#bdbab5" stroke-width="0.5" transform="translate(634,591) rotate(-25)"/><circle cx="492.8" cy="596.7" r="13.4" fill="url(#marble)" stroke="#aaa" stroke-width="0.8"/><rect x="692.6" y="485.8" width="10.90" height="17.20" fill="#6d7e96" rx="3"/><rect x="744.5" y="485.8" width="10.20" height="17.20" fill="#6d7e96" rx="3"/><rect x="692.6" y="508" width="10.90" height="19.00" fill="#6d7e96" rx="3"/><rect x="744.5" y="508" width="10.20" height="19.00" fill="#6d7e96" rx="3"/><rect x="703" y="476.6" width="42.00" height="60.20" fill="url(#marble)" stroke="#a9a9a9" stroke-width="0.8" rx="5"/><circle cx="724" cy="509" r="4.5" fill="#3e5e2c"/><circle cx="724" cy="501.5" r="2" fill="#e6cf78"/><path d="M766.6,133 A45.6,45.6 0 0 1 721,178.6" fill="none" stroke="#555" stroke-width="0.8"/><rect x="721" y="132" width="45.60" height="2.20" fill="#4b4742" /><path d="M721,204 A49,49 0 0 0 672,253" fill="none" stroke="#555" stroke-width="0.8"/><rect x="719.3" y="204" width="2.00" height="48.70" fill="#4b4742" /><path d="M775,264.4 A43,43 0 0 1 732,307.4" fill="none" stroke="#555" stroke-width="0.8"/><rect x="732" y="263.5" width="43.00" height="2.00" fill="#4b4742" /><path d="M613.6,267.3 A49.5,49.5 0 0 0 663,316.5" fill="none" stroke="#555" stroke-width="0.8"/><rect x="613.6" y="266.4" width="49.50" height="1.90" fill="#4b4742" /><path d="M874.6,397 A49.5,49.5 0 0 0 924,446" fill="none" stroke="#555" stroke-width="0.8"/><rect x="874.6" y="395.8" width="49.00" height="2.10" fill="#4b4742" /><path d="M740.5,402.6 L768,418 L771.9,404.6 L775.8,418 L803.2,402.6" fill="none" stroke="#3f3b37" stroke-width="1.8"/><rect x="716" y="128.5" width="6.00" height="5.50" fill="#56514c" /><rect x="716" y="174" width="6.00" height="5.00" fill="#56514c" /><rect x="719.3" y="202.5" width="3.70" height="3.50" fill="#56514c" /><rect x="721.3" y="252.5" width="4.90" height="5.10" fill="#56514c" /><rect x="669.2" y="252.5" width="3.30" height="5.10" fill="#56514c" /><rect x="724.6" y="261.5" width="7.40" height="3.10" fill="#56514c" /><rect x="724.6" y="307.3" width="7.40" height="3.20" fill="#56514c" /><rect x="662.5" y="263.3" width="6.90" height="3.30" fill="#56514c" /><rect x="662.5" y="315.2" width="6.90" height="3.20" fill="#56514c" /><rect x="924.5" y="391.5" width="9.50" height="4.50" fill="#56514c" /><rect x="924.5" y="445" width="9.50" height="4.50" fill="#56514c" /><rect x="731" y="398.5" width="5.50" height="4.50" fill="#8f908d" /><rect x="803.5" y="398.5" width="4.50" height="4.50" fill="#8f908d" /><text x="884.4" y="387.8" font-size="4.2" fill="#555" text-anchor="middle" font-family="Liberation Sans">DB</text><circle cx="436" cy="101.5" r="15.6" fill="#27331c"/><ellipse cx="446.7" cy="99.6" rx="6.0" ry="2.0" fill="#b9c97a" transform="rotate(-29 446.7 99.6)"/><ellipse cx="444.4" cy="102.8" rx="6.0" ry="2.0" fill="#86a04a" transform="rotate(5 444.4 102.8)"/><ellipse cx="445.7" cy="103.4" rx="6.0" ry="2.0" fill="#86a04a" transform="rotate(31 445.7 103.4)"/><ellipse cx="447.8" cy="105.8" rx="6.0" ry="2.0" fill="#6f8a3c" transform="rotate(2 447.8 105.8)"/><ellipse cx="444.0" cy="113.2" rx="6.0" ry="2.0" fill="#86a04a" transform="rotate(68 444.0 113.2)"/><ellipse cx="446.6" cy="110.1" rx="6.0" ry="2.0" fill="#86a04a" transform="rotate(63 446.6 110.1)"/><ellipse cx="438.3" cy="110.2" rx="6.0" ry="2.0" fill="#b9c97a" transform="rotate(100 438.3 110.2)"/><ellipse cx="439.5" cy="111.6" rx="6.0" ry="2.0" fill="#6f8a3c" transform="rotate(62 439.5 111.6)"/><ellipse cx="435.7" cy="109.6" rx="6.0" ry="2.0" fill="#27331c" transform="rotate(90 435.7 109.6)"/><ellipse cx="433.8" cy="111.7" rx="6.0" ry="2.0" fill="#27331c" transform="rotate(108 433.8 111.7)"/><ellipse cx="433.6" cy="109.6" rx="6.0" ry="2.0" fill="#86a04a" transform="rotate(130 433.6 109.6)"/><ellipse cx="433.8" cy="111.0" rx="6.0" ry="2.0" fill="#86a04a" transform="rotate(123 433.8 111.0)"/><ellipse cx="430.4" cy="113.0" rx="6.0" ry="2.0" fill="#b9c97a" transform="rotate(134 430.4 113.0)"/><ellipse cx="424.7" cy="109.8" rx="6.0" ry="2.0" fill="#b9c97a" transform="rotate(126 424.7 109.8)"/><ellipse cx="424.9" cy="105.0" rx="6.0" ry="2.0" fill="#6f8a3c" transform="rotate(142 424.9 105.0)"/><ellipse cx="426.0" cy="108.9" rx="6.0" ry="2.0" fill="#b9c97a" transform="rotate(163 426.0 108.9)"/><ellipse cx="428.3" cy="104.1" rx="6.0" ry="2.0" fill="#86a04a" transform="rotate(177 428.3 104.1)"/><ellipse cx="422.9" cy="104.8" rx="6.0" ry="2.0" fill="#86a04a" transform="rotate(154 422.9 104.8)"/><ellipse cx="427.9" cy="101.8" rx="6.0" ry="2.0" fill="#27331c" transform="rotate(173 427.9 101.8)"/><ellipse cx="426.2" cy="94.6" rx="6.0" ry="2.0" fill="#86a04a" transform="rotate(217 426.2 94.6)"/><ellipse cx="428.0" cy="98.1" rx="6.0" ry="2.0" fill="#86a04a" transform="rotate(191 428.0 98.1)"/><ellipse cx="424.1" cy="94.2" rx="6.0" ry="2.0" fill="#6f8a3c" transform="rotate(213 424.1 94.2)"/><ellipse cx="428.0" cy="94.1" rx="6.0" ry="2.0" fill="#86a04a" transform="rotate(211 428.0 94.1)"/><ellipse cx="432.0" cy="87.7" rx="6.0" ry="2.0" fill="#86a04a" transform="rotate(230 432.0 87.7)"/><ellipse cx="434.4" cy="90.1" rx="6.0" ry="2.0" fill="#86a04a" transform="rotate(263 434.4 90.1)"/><ellipse cx="433.4" cy="91.0" rx="6.0" ry="2.0" fill="#b9c97a" transform="rotate(264 433.4 91.0)"/><ellipse cx="437.6" cy="87.9" rx="6.0" ry="2.0" fill="#27331c" transform="rotate(267 437.6 87.9)"/><ellipse cx="437.0" cy="92.1" rx="6.0" ry="2.0" fill="#86a04a" transform="rotate(293 437.0 92.1)"/><ellipse cx="442.7" cy="91.4" rx="6.0" ry="2.0" fill="#b9c97a" transform="rotate(328 442.7 91.4)"/><ellipse cx="446.8" cy="93.6" rx="6.0" ry="2.0" fill="#86a04a" transform="rotate(302 446.8 93.6)"/><ellipse cx="444.0" cy="96.1" rx="6.0" ry="2.0" fill="#86a04a" transform="rotate(304 444.0 96.1)"/><ellipse cx="445.4" cy="96.9" rx="6.0" ry="2.0" fill="#27331c" transform="rotate(342 445.4 96.9)"/><ellipse cx="444.4" cy="96.9" rx="6.0" ry="2.0" fill="#6f8a3c" transform="rotate(309 444.4 96.9)"/><ellipse cx="445.1" cy="98.0" rx="6.0" ry="2.0" fill="#86a04a" transform="rotate(327 445.1 98.0)"/><circle cx="400" cy="620" r="11.3" fill="#4f8530"/><ellipse cx="409.9" cy="622.8" rx="4.3" ry="1.5" fill="#4f8530" transform="rotate(7 409.9 622.8)"/><ellipse cx="409.8" cy="621.1" rx="4.3" ry="1.5" fill="#86b651" transform="rotate(-1 409.8 621.1)"/><ellipse cx="406.7" cy="623.5" rx="4.3" ry="1.5" fill="#b9c97a" transform="rotate(17 406.7 623.5)"/><ellipse cx="402.0" cy="626.6" rx="4.3" ry="1.5" fill="#86b651" transform="rotate(52 402.0 626.6)"/><ellipse cx="398.8" cy="626.4" rx="4.3" ry="1.5" fill="#4f8530" transform="rotate(78 398.8 626.4)"/><ellipse cx="399.2" cy="627.2" rx="4.3" ry="1.5" fill="#86b651" transform="rotate(75 399.2 627.2)"/><ellipse cx="391.5" cy="624.8" rx="4.3" ry="1.5" fill="#86b651" transform="rotate(159 391.5 624.8)"/><ellipse cx="390.5" cy="622.6" rx="4.3" ry="1.5" fill="#b9c97a" transform="rotate(178 390.5 622.6)"/><ellipse cx="392.0" cy="618.9" rx="4.3" ry="1.5" fill="#6f8a3c" transform="rotate(199 392.0 618.9)"/><ellipse cx="394.7" cy="617.2" rx="4.3" ry="1.5" fill="#4f8530" transform="rotate(214 394.7 617.2)"/><ellipse cx="394.2" cy="612.4" rx="4.3" ry="1.5" fill="#86b651" transform="rotate(254 394.2 612.4)"/><ellipse cx="398.0" cy="611.8" rx="4.3" ry="1.5" fill="#86b651" transform="rotate(273 398.0 611.8)"/><ellipse cx="400.5" cy="610.1" rx="4.3" ry="1.5" fill="#86b651" transform="rotate(252 400.5 610.1)"/><ellipse cx="401.0" cy="611.3" rx="4.3" ry="1.5" fill="#86b651" transform="rotate(271 401.0 611.3)"/><ellipse cx="404.1" cy="615.6" rx="4.3" ry="1.5" fill="#86b651" transform="rotate(320 404.1 615.6)"/><ellipse cx="407.7" cy="617.7" rx="4.3" ry="1.5" fill="#86b651" transform="rotate(342 407.7 617.7)"/><circle cx="437" cy="618" r="14.8" fill="#222c1c"/><ellipse cx="449.8" cy="614.6" rx="5.7" ry="1.9" fill="#222c1c" transform="rotate(-35 449.8 614.6)"/><ellipse cx="448.9" cy="620.6" rx="5.7" ry="1.9" fill="#b9c97a" transform="rotate(-0 448.9 620.6)"/><ellipse cx="446.1" cy="619.3" rx="5.7" ry="1.9" fill="#a4b866" transform="rotate(-6 446.1 619.3)"/><ellipse cx="445.1" cy="624.5" rx="5.7" ry="1.9" fill="#b9c97a" transform="rotate(18 445.1 624.5)"/><ellipse cx="441.8" cy="626.0" rx="5.7" ry="1.9" fill="#a4b866" transform="rotate(65 441.8 626.0)"/><ellipse cx="440.9" cy="625.1" rx="5.7" ry="1.9" fill="#a4b866" transform="rotate(53 440.9 625.1)"/><ellipse cx="440.5" cy="629.3" rx="5.7" ry="1.9" fill="#222c1c" transform="rotate(76 440.5 629.3)"/><ellipse cx="440.7" cy="625.0" rx="5.7" ry="1.9" fill="#6f8a3c" transform="rotate(86 440.7 625.0)"/><ellipse cx="439.1" cy="626.7" rx="5.7" ry="1.9" fill="#b9c97a" transform="rotate(66 439.1 626.7)"/><ellipse cx="434.9" cy="628.2" rx="5.7" ry="1.9" fill="#b9c97a" transform="rotate(115 434.9 628.2)"/><ellipse cx="430.0" cy="626.4" rx="5.7" ry="1.9" fill="#6f8a3c" transform="rotate(153 430.0 626.4)"/><ellipse cx="431.2" cy="623.1" rx="5.7" ry="1.9" fill="#b9c97a" transform="rotate(118 431.2 623.1)"/><ellipse cx="427.3" cy="627.6" rx="5.7" ry="1.9" fill="#6f8a3c" transform="rotate(130 427.3 627.6)"/><ellipse cx="424.5" cy="622.4" rx="5.7" ry="1.9" fill="#a4b866" transform="rotate(165 424.5 622.4)"/><ellipse cx="428.1" cy="624.2" rx="5.7" ry="1.9" fill="#6f8a3c" transform="rotate(127 428.1 624.2)"/><ellipse cx="426.3" cy="618.0" rx="5.7" ry="1.9" fill="#a4b866" transform="rotate(190 426.3 618.0)"/><ellipse cx="424.1" cy="620.1" rx="5.7" ry="1.9" fill="#b9c97a" transform="rotate(165 424.1 620.1)"/><ellipse cx="423.6" cy="618.1" rx="5.7" ry="1.9" fill="#b9c97a" transform="rotate(175 423.6 618.1)"/><ellipse cx="428.3" cy="612.9" rx="5.7" ry="1.9" fill="#b9c97a" transform="rotate(201 428.3 612.9)"/><ellipse cx="431.7" cy="612.6" rx="5.7" ry="1.9" fill="#6f8a3c" transform="rotate(242 431.7 612.6)"/><ellipse cx="425.8" cy="611.0" rx="5.7" ry="1.9" fill="#a4b866" transform="rotate(232 425.8 611.0)"/><ellipse cx="430.5" cy="610.6" rx="5.7" ry="1.9" fill="#b9c97a" transform="rotate(224 430.5 610.6)"/><ellipse cx="435.6" cy="610.1" rx="5.7" ry="1.9" fill="#b9c97a" transform="rotate(273 435.6 610.1)"/><ellipse cx="437.1" cy="608.7" rx="5.7" ry="1.9" fill="#a4b866" transform="rotate(288 437.1 608.7)"/><ellipse cx="435.3" cy="604.8" rx="5.7" ry="1.9" fill="#a4b866" transform="rotate(286 435.3 604.8)"/><ellipse cx="438.5" cy="608.6" rx="5.7" ry="1.9" fill="#6f8a3c" transform="rotate(293 438.5 608.6)"/><ellipse cx="439.7" cy="610.7" rx="5.7" ry="1.9" fill="#b9c97a" transform="rotate(311 439.7 610.7)"/><ellipse cx="445.2" cy="610.8" rx="5.7" ry="1.9" fill="#a4b866" transform="rotate(296 445.2 610.8)"/><ellipse cx="445.3" cy="611.8" rx="5.7" ry="1.9" fill="#a4b866" transform="rotate(330 445.3 611.8)"/><ellipse cx="443.0" cy="612.8" rx="5.7" ry="1.9" fill="#222c1c" transform="rotate(300 443.0 612.8)"/><ellipse cx="445.9" cy="614.1" rx="5.7" ry="1.9" fill="#6f8a3c" transform="rotate(324 445.9 614.1)"/><ellipse cx="448.6" cy="617.4" rx="5.7" ry="1.9" fill="#b9c97a" transform="rotate(365 448.6 617.4)"/><circle cx="907" cy="421.2" r="9.4" fill="#0c5a62"/><text x="907" y="425.4" font-size="12" fill="#fff" text-anchor="middle" font-family="Liberation Sans">1</text><circle cx="618.2" cy="491.4" r="9.4" fill="#0c5a62"/><text x="618.2" y="495.59999999999997" font-size="12" fill="#fff" text-anchor="middle" font-family="Liberation Sans">2</text><circle cx="737.2" cy="563" r="9.4" fill="#0c5a62"/><text x="737.2" y="567.2" font-size="12" fill="#fff" text-anchor="middle" font-family="Liberation Sans">3</text><circle cx="750.9" cy="285.4" r="9.4" fill="#0c5a62"/><text x="750.9" y="289.59999999999997" font-size="12" fill="#fff" text-anchor="middle" font-family="Liberation Sans">4</text><circle cx="609" cy="238.4" r="9.4" fill="#0c5a62"/><text x="609" y="242.6" font-size="12" fill="#fff" text-anchor="middle" font-family="Liberation Sans">5</text><circle cx="684.4" cy="164.2" r="9.4" fill="#0c5a62"/><text x="684.4" y="168.39999999999998" font-size="12" fill="#fff" text-anchor="middle" font-family="Liberation Sans">6</text><circle cx="736.8" cy="153.1" r="9.4" fill="#0c5a62"/><text x="736.8" y="157.29999999999998" font-size="12" fill="#fff" text-anchor="middle" font-family="Liberation Sans">7</text><circle cx="598.9" cy="287.6" r="9.4" fill="#0c5a62"/><text x="598.9" y="291.8" font-size="12" fill="#fff" text-anchor="middle" font-family="Liberation Sans">8</text><circle cx="755.2" cy="378.2" r="9.4" fill="#0c5a62"/><text x="755.2" y="382.4" font-size="12" fill="#fff" text-anchor="middle" font-family="Liberation Sans">9</text><circle cx="420.7" cy="167.3" r="9.4" fill="#0c5a62"/><text x="420.7" y="171.5" font-size="10.5" fill="#fff" text-anchor="middle" font-family="Liberation Sans">10</text><circle cx="420.1" cy="544.5" r="9.4" fill="#0c5a62"/><text x="420.1" y="548.7" font-size="10.5" fill="#fff" text-anchor="middle" font-family="Liberation Sans">11</text><g transform="translate(1000,42.5)"><clipPath id="kc0"><path d="M9,0 L35.5,0 Q38,0 39.5,2.4000000000000004 L42.5,4.800000000000001 Q44,6 46.5,6 L56.5,6 Q59,6 60.5,4.800000000000001 L63.5,2.4000000000000004 Q65,0 67.5,0 L102.5,0 Q111.5,0 111.5,9 L111.5,29.0 Q111.5,31.5 109.1,33.0 L106.7,36.0 Q105.5,37.5 105.5,40.0 L105.5,43.0 Q105.5,45.5 106.7,47.0 L109.1,50.0 Q111.5,51.5 111.5,54.0 L111.5,116.0 Q111.5,118.5 109.1,120.0 L106.7,123.0 Q105.5,124.5 105.5,127.0 L105.5,130.0 Q105.5,132.5 106.7,134.0 L109.1,137.0 Q111.5,138.5 111.5,141.0 L111.5,178.5 Q111.5,187.5 102.5,187.5 L91.1,187.5 Q88.6,187.5 87.1,184.5 L82.6,181.5 Q81.1,180.0 78.6,180.0 L32.0,180.0 Q29.5,180.0 28.0,181.5 L23.5,184.5 Q22,187.5 19.5,187.5 L9,187.5 Q0,187.5 0,178.5 L0,140.5 Q0,138 2.2399999999999998,136.5 L4.4799999999999995,133.9 Q5.6,132.4 5.6,129.9 L5.6,104.1 Q5.6,101.6 4.4799999999999995,100.1 L2.2399999999999998,97.5 Q0,96 0,93.5 L0,9 Q0,0 9,0 Z"/></clipPath><g clip-path="url(#kc0)"><rect x="0" y="0" width="111.5" height="187.5" fill="#ebe7e1"/><rect x="0" y="0" width="111.5" height="187.5" fill="#ece8e2"/><polygon points="0,4 9,12 9,44 0,52" fill="#c9c8c5"/><polygon points="0,96 9,104 9,140 0,148" fill="#c9c8c5"/><polygon points="0,150 9,158 9,178 0,186" fill="#c9c8c5"/><polygon points="102.5,58 111.5,50 111.5,118 102.5,110" fill="#c9c8c5"/><polygon points="102.5,150 111.5,142 111.5,186 102.5,178" fill="#c9c8c5"/><polygon points="10,0 40,0 34,7 16,7" fill="#c9c8c5"/><polygon points="72,0 100,0 94,7 78,7" fill="#c9c8c5"/><polygon points="14,187.5 42,187.5 36,181 20,181" fill="#c9c8c5"/><polygon points="70,187.5 98,187.5 92,181 76,181" fill="#c9c8c5"/><rect x="9.0" y="7.0" width="18.8" height="17.5" fill="#efebe5" stroke="#c3b9ad" stroke-width="0.5"/><rect x="12.8" y="10.6" width="10.9" height="8.2" fill="#f7f6f3" stroke="#cfc6bb" stroke-width="0.5"/><rect x="10.0" y="9.4" width="2.5" height="6.4" fill="#b9ac9b"/><rect x="9.0" y="24.5" width="18.8" height="17.5" fill="#efebe5" stroke="#c3b9ad" stroke-width="0.5"/><rect x="14.5" y="26.4" width="8.0" height="6.5" fill="#f7f6f3" stroke="#cfc6bb" stroke-width="0.5"/><rect x="27.8" y="7.0" width="18.8" height="17.5" fill="#efebe5" stroke="#c3b9ad" stroke-width="0.5"/><rect x="29.5" y="12.2" width="11.1" height="9.0" fill="#f7f6f3" stroke="#cfc6bb" stroke-width="0.5"/><rect x="28.8" y="12.8" width="2.5" height="8.0" fill="#b9ac9b"/><rect x="29.1" y="20.5" width="8.7" height="2.5" fill="#c2b5a4"/><rect x="27.8" y="24.5" width="18.8" height="17.5" fill="#efebe5" stroke="#c3b9ad" stroke-width="0.5"/><rect x="32.3" y="28.9" width="8.1" height="8.7" fill="#f7f6f3" stroke="#cfc6bb" stroke-width="0.5"/><rect x="28.8" y="30.5" width="2.5" height="6.4" fill="#b9ac9b"/><rect x="46.6" y="7.0" width="18.8" height="17.5" fill="#efebe5" stroke="#c3b9ad" stroke-width="0.5"/><rect x="50.4" y="9.5" width="11.3" height="10.5" fill="#f7f6f3" stroke="#cfc6bb" stroke-width="0.5"/><rect x="46.6" y="24.5" width="18.8" height="17.5" fill="#efebe5" stroke="#c3b9ad" stroke-width="0.5"/><rect x="49.7" y="26.9" width="7.9" height="6.4" fill="#f7f6f3" stroke="#cfc6bb" stroke-width="0.5"/><rect x="61.4" y="26.3" width="2.5" height="5.4" fill="#b9ac9b"/><rect x="47.7" y="38.0" width="7.7" height="2.5" fill="#c2b5a4"/><rect x="65.4" y="7.0" width="18.8" height="17.5" fill="#efebe5" stroke="#c3b9ad" stroke-width="0.5"/><rect x="68.0" y="12.0" width="6.8" height="7.8" fill="#f7f6f3" stroke="#cfc6bb" stroke-width="0.5"/><rect x="80.2" y="8.6" width="2.5" height="7.0" fill="#b9ac9b"/><rect x="65.4" y="24.5" width="18.8" height="17.5" fill="#efebe5" stroke="#c3b9ad" stroke-width="0.5"/><rect x="68.3" y="26.3" width="8.1" height="10.3" fill="#f7f6f3" stroke="#cfc6bb" stroke-width="0.5"/><rect x="66.4" y="26.5" width="2.5" height="7.4" fill="#b9ac9b"/><rect x="70.3" y="38.0" width="6.6" height="2.5" fill="#c2b5a4"/><rect x="84.2" y="7.0" width="18.8" height="17.5" fill="#efebe5" stroke="#c3b9ad" stroke-width="0.5"/><rect x="89.2" y="9.2" width="9.0" height="10.4" fill="#f7f6f3" stroke="#cfc6bb" stroke-width="0.5"/><rect x="99.0" y="13.0" width="2.5" height="4.6" fill="#b9ac9b"/><rect x="87.0" y="20.5" width="5.5" height="2.5" fill="#c2b5a4"/><rect x="84.2" y="24.5" width="18.8" height="17.5" fill="#efebe5" stroke="#c3b9ad" stroke-width="0.5"/><rect x="90.6" y="29.0" width="8.0" height="10.0" fill="#f7f6f3" stroke="#cfc6bb" stroke-width="0.5"/><rect x="99.0" y="33.2" width="2.5" height="6.9" fill="#b9ac9b"/><rect x="9.0" y="148.0" width="18.8" height="16.5" fill="#efebe5" stroke="#c3b9ad" stroke-width="0.5"/><rect x="10.7" y="150.0" width="8.7" height="5.8" fill="#f7f6f3" stroke="#cfc6bb" stroke-width="0.5"/><rect x="23.8" y="151.8" width="2.5" height="4.3" fill="#b9ac9b"/><rect x="15.3" y="160.5" width="4.1" height="2.5" fill="#c2b5a4"/><rect x="9.0" y="164.5" width="18.8" height="16.5" fill="#efebe5" stroke="#c3b9ad" stroke-width="0.5"/><rect x="12.4" y="168.1" width="7.2" height="8.2" fill="#f7f6f3" stroke="#cfc6bb" stroke-width="0.5"/><rect x="13.2" y="177.0" width="7.4" height="2.5" fill="#c2b5a4"/><rect x="27.8" y="148.0" width="18.8" height="16.5" fill="#efebe5" stroke="#c3b9ad" stroke-width="0.5"/><rect x="30.9" y="150.3" width="9.4" height="8.8" fill="#f7f6f3" stroke="#cfc6bb" stroke-width="0.5"/><rect x="28.8" y="154.0" width="2.5" height="5.6" fill="#b9ac9b"/><rect x="29.5" y="160.5" width="4.3" height="2.5" fill="#c2b5a4"/><rect x="27.8" y="164.5" width="18.8" height="16.5" fill="#efebe5" stroke="#c3b9ad" stroke-width="0.5"/><rect x="29.9" y="167.8" width="7.8" height="8.8" fill="#f7f6f3" stroke="#cfc6bb" stroke-width="0.5"/><rect x="42.6" y="171.5" width="2.5" height="6.5" fill="#b9ac9b"/><rect x="30.3" y="177.0" width="7.9" height="2.5" fill="#c2b5a4"/><rect x="46.6" y="148.0" width="18.8" height="16.5" fill="#efebe5" stroke="#c3b9ad" stroke-width="0.5"/><rect x="48.4" y="150.3" width="9.2" height="9.3" fill="#f7f6f3" stroke="#cfc6bb" stroke-width="0.5"/><rect x="61.4" y="150.5" width="2.5" height="7.9" fill="#b9ac9b"/><rect x="46.6" y="164.5" width="18.8" height="16.5" fill="#efebe5" stroke="#c3b9ad" stroke-width="0.5"/><rect x="48.5" y="167.4" width="7.8" height="6.0" fill="#f7f6f3" stroke="#cfc6bb" stroke-width="0.5"/><rect x="47.6" y="166.2" width="2.5" height="4.6" fill="#b9ac9b"/><rect x="50.4" y="177.0" width="8.0" height="2.5" fill="#c2b5a4"/><rect x="65.4" y="148.0" width="18.8" height="16.5" fill="#efebe5" stroke="#c3b9ad" stroke-width="0.5"/><rect x="69.6" y="152.8" width="9.4" height="9.6" fill="#f7f6f3" stroke="#cfc6bb" stroke-width="0.5"/><rect x="80.2" y="154.1" width="2.5" height="8.1" fill="#b9ac9b"/><rect x="71.7" y="160.5" width="6.6" height="2.5" fill="#c2b5a4"/><rect x="65.4" y="164.5" width="18.8" height="16.5" fill="#efebe5" stroke="#c3b9ad" stroke-width="0.5"/><rect x="70.6" y="167.1" width="11.3" height="6.1" fill="#f7f6f3" stroke="#cfc6bb" stroke-width="0.5"/><rect x="66.4" y="172.0" width="2.5" height="7.1" fill="#b9ac9b"/><rect x="84.2" y="148.0" width="18.8" height="16.5" fill="#efebe5" stroke="#c3b9ad" stroke-width="0.5"/><rect x="89.7" y="152.7" width="8.2" height="8.6" fill="#f7f6f3" stroke="#cfc6bb" stroke-width="0.5"/><rect x="84.2" y="164.5" width="18.8" height="16.5" fill="#efebe5" stroke="#c3b9ad" stroke-width="0.5"/><rect x="87.8" y="168.7" width="10.6" height="8.1" fill="#f7f6f3" stroke="#cfc6bb" stroke-width="0.5"/><rect x="99.0" y="168.2" width="2.5" height="4.1" fill="#b9ac9b"/><rect x="86.0" y="177.0" width="4.6" height="2.5" fill="#c2b5a4"/><rect x="68.0" y="42.0" width="17.5" height="21.2" fill="#efebe5" stroke="#c3b9ad" stroke-width="0.5"/><rect x="70.7" y="45.5" width="7.6" height="12.4" fill="#f7f6f3" stroke="#cfc6bb" stroke-width="0.5"/><rect x="81.5" y="47.2" width="2.5" height="9.5" fill="#b9ac9b"/><rect x="74.8" y="59.2" width="4.1" height="2.5" fill="#c2b5a4"/><rect x="68.0" y="63.2" width="17.5" height="21.2" fill="#efebe5" stroke="#c3b9ad" stroke-width="0.5"/><rect x="72.3" y="67.0" width="7.1" height="11.1" fill="#f7f6f3" stroke="#cfc6bb" stroke-width="0.5"/><rect x="81.5" y="66.7" width="2.5" height="4.1" fill="#b9ac9b"/><rect x="74.3" y="80.4" width="5.0" height="2.5" fill="#c2b5a4"/><rect x="68.0" y="84.4" width="17.5" height="21.2" fill="#efebe5" stroke="#c3b9ad" stroke-width="0.5"/><rect x="70.3" y="90.3" width="9.0" height="9.8" fill="#f7f6f3" stroke="#cfc6bb" stroke-width="0.5"/><rect x="74.2" y="101.6" width="4.9" height="2.5" fill="#c2b5a4"/><rect x="68.0" y="105.6" width="17.5" height="21.2" fill="#efebe5" stroke="#c3b9ad" stroke-width="0.5"/><rect x="71.5" y="111.0" width="10.1" height="12.1" fill="#f7f6f3" stroke="#cfc6bb" stroke-width="0.5"/><rect x="81.5" y="108.6" width="2.5" height="4.9" fill="#b9ac9b"/><rect x="75.9" y="122.8" width="4.2" height="2.5" fill="#c2b5a4"/><rect x="68.0" y="126.8" width="17.5" height="21.2" fill="#efebe5" stroke="#c3b9ad" stroke-width="0.5"/><rect x="69.8" y="133.1" width="9.7" height="8.0" fill="#f7f6f3" stroke="#cfc6bb" stroke-width="0.5"/><rect x="69.0" y="135.8" width="2.5" height="6.5" fill="#b9ac9b"/><rect x="85.5" y="42.0" width="17.5" height="21.2" fill="#efebe5" stroke="#c3b9ad" stroke-width="0.5"/><rect x="90.1" y="47.0" width="9.8" height="10.7" fill="#f7f6f3" stroke="#cfc6bb" stroke-width="0.5"/><rect x="86.5" y="45.7" width="2.5" height="8.0" fill="#b9ac9b"/><rect x="85.5" y="63.2" width="17.5" height="21.2" fill="#efebe5" stroke="#c3b9ad" stroke-width="0.5"/><rect x="88.3" y="66.4" width="9.0" height="10.4" fill="#f7f6f3" stroke="#cfc6bb" stroke-width="0.5"/><rect x="99.0" y="68.6" width="2.5" height="4.2" fill="#b9ac9b"/><rect x="85.5" y="84.4" width="17.5" height="21.2" fill="#efebe5" stroke="#c3b9ad" stroke-width="0.5"/><rect x="88.1" y="86.6" width="6.3" height="10.8" fill="#f7f6f3" stroke="#cfc6bb" stroke-width="0.5"/><rect x="99.0" y="94.6" width="2.5" height="8.5" fill="#b9ac9b"/><rect x="90.2" y="101.6" width="4.8" height="2.5" fill="#c2b5a4"/><rect x="85.5" y="105.6" width="17.5" height="21.2" fill="#efebe5" stroke="#c3b9ad" stroke-width="0.5"/><rect x="87.0" y="109.4" width="9.2" height="8.4" fill="#f7f6f3" stroke="#cfc6bb" stroke-width="0.5"/><rect x="99.0" y="111.8" width="2.5" height="10.2" fill="#b9ac9b"/><rect x="85.5" y="126.8" width="17.5" height="21.2" fill="#efebe5" stroke="#c3b9ad" stroke-width="0.5"/><rect x="91.6" y="129.1" width="9.8" height="11.1" fill="#f7f6f3" stroke="#cfc6bb" stroke-width="0.5"/><rect x="99.0" y="136.8" width="2.5" height="8.8" fill="#b9ac9b"/><rect x="90.0" y="144.0" width="7.0" height="2.5" fill="#c2b5a4"/><rect x="9.0" y="42.0" width="16.0" height="21.2" fill="#efebe5" stroke="#c3b9ad" stroke-width="0.5"/><rect x="14.2" y="45.3" width="7.9" height="12.1" fill="#f7f6f3" stroke="#cfc6bb" stroke-width="0.5"/><rect x="21.0" y="47.5" width="2.5" height="8.3" fill="#b9ac9b"/><rect x="15.1" y="59.2" width="7.3" height="2.5" fill="#c2b5a4"/><rect x="9.0" y="63.2" width="16.0" height="21.2" fill="#efebe5" stroke="#c3b9ad" stroke-width="0.5"/><rect x="13.1" y="68.2" width="6.5" height="12.2" fill="#f7f6f3" stroke="#cfc6bb" stroke-width="0.5"/><rect x="9.0" y="84.4" width="16.0" height="21.2" fill="#efebe5" stroke="#c3b9ad" stroke-width="0.5"/><rect x="12.7" y="89.7" width="6.9" height="12.2" fill="#f7f6f3" stroke="#cfc6bb" stroke-width="0.5"/><rect x="10.6" y="101.6" width="5.8" height="2.5" fill="#c2b5a4"/><rect x="9.0" y="105.6" width="16.0" height="21.2" fill="#efebe5" stroke="#c3b9ad" stroke-width="0.5"/><rect x="12.8" y="110.8" width="7.5" height="7.6" fill="#f7f6f3" stroke="#cfc6bb" stroke-width="0.5"/><rect x="15.6" y="122.8" width="4.7" height="2.5" fill="#c2b5a4"/><rect x="9.0" y="126.8" width="16.0" height="21.2" fill="#efebe5" stroke="#c3b9ad" stroke-width="0.5"/><rect x="11.9" y="132.1" width="6.2" height="8.2" fill="#f7f6f3" stroke="#cfc6bb" stroke-width="0.5"/><rect x="21.0" y="136.9" width="2.5" height="7.3" fill="#b9ac9b"/><rect x="25.0" y="42.0" width="16.0" height="21.2" fill="#efebe5" stroke="#c3b9ad" stroke-width="0.5"/><rect x="26.9" y="44.6" width="7.7" height="9.0" fill="#f7f6f3" stroke="#cfc6bb" stroke-width="0.5"/><rect x="26.0" y="48.0" width="2.5" height="9.6" fill="#b9ac9b"/><rect x="25.0" y="63.2" width="16.0" height="21.2" fill="#efebe5" stroke="#c3b9ad" stroke-width="0.5"/><rect x="27.8" y="66.6" width="9.0" height="12.2" fill="#f7f6f3" stroke="#cfc6bb" stroke-width="0.5"/><rect x="26.0" y="73.5" width="2.5" height="7.5" fill="#b9ac9b"/><rect x="25.0" y="84.4" width="16.0" height="21.2" fill="#efebe5" stroke="#c3b9ad" stroke-width="0.5"/><rect x="27.3" y="88.5" width="7.6" height="10.6" fill="#f7f6f3" stroke="#cfc6bb" stroke-width="0.5"/><rect x="26.0" y="90.4" width="2.5" height="6.6" fill="#b9ac9b"/><rect x="25.0" y="105.6" width="16.0" height="21.2" fill="#efebe5" stroke="#c3b9ad" stroke-width="0.5"/><rect x="28.8" y="109.5" width="8.4" height="7.8" fill="#f7f6f3" stroke="#cfc6bb" stroke-width="0.5"/><rect x="37.0" y="115.4" width="2.5" height="9.3" fill="#b9ac9b"/><rect x="27.7" y="122.8" width="6.0" height="2.5" fill="#c2b5a4"/><rect x="25.0" y="126.8" width="16.0" height="21.2" fill="#efebe5" stroke="#c3b9ad" stroke-width="0.5"/><rect x="27.9" y="132.7" width="9.3" height="12.3" fill="#f7f6f3" stroke="#cfc6bb" stroke-width="0.5"/><rect x="26.0" y="129.6" width="2.5" height="8.1" fill="#b9ac9b"/><rect x="57" y="42" width="11" height="106" fill="#f2efea"/><line x1="57" y1="42" x2="57" y2="148" stroke="#c3b9ad" stroke-width="0.5"/><line x1="68" y1="42" x2="68" y2="148" stroke="#c3b9ad" stroke-width="0.5"/><rect x="41" y="44" width="16" height="30" fill="#d8d2ca" stroke="#a99f93" stroke-width="0.8"/><line x1="43" y1="49.0" x2="55" y2="49.0" stroke="#b8aea2" stroke-width="0.5"/><line x1="43" y1="54.0" x2="55" y2="54.0" stroke="#b8aea2" stroke-width="0.5"/><line x1="43" y1="59.0" x2="55" y2="59.0" stroke="#b8aea2" stroke-width="0.5"/><line x1="43" y1="64.0" x2="55" y2="64.0" stroke="#b8aea2" stroke-width="0.5"/><line x1="43" y1="69.0" x2="55" y2="69.0" stroke="#b8aea2" stroke-width="0.5"/><rect x="41" y="119" width="16" height="28" fill="#d8d2ca" stroke="#a99f93" stroke-width="0.8"/><line x1="43" y1="123.7" x2="55" y2="123.7" stroke="#b8aea2" stroke-width="0.5"/><line x1="43" y1="128.3" x2="55" y2="128.3" stroke="#b8aea2" stroke-width="0.5"/><line x1="43" y1="133.0" x2="55" y2="133.0" stroke="#b8aea2" stroke-width="0.5"/><line x1="43" y1="137.7" x2="55" y2="137.7" stroke="#b8aea2" stroke-width="0.5"/><line x1="43" y1="142.3" x2="55" y2="142.3" stroke="#b8aea2" stroke-width="0.5"/><rect x="42" y="84" width="9" height="9" fill="#d2ccc4" stroke="#a39a8f" stroke-width="0.6"/><rect x="42" y="94" width="9" height="9" fill="#d2ccc4" stroke="#a39a8f" stroke-width="0.6"/><rect x="42" y="104" width="9" height="9" fill="#d2ccc4" stroke="#a39a8f" stroke-width="0.6"/><circle cx="3" cy="54" r="2.2" fill="#4f7a35"/><circle cx="3" cy="110" r="2.2" fill="#4f7a35"/><circle cx="106" cy="38" r="2.2" fill="#4f7a35"/><circle cx="106" cy="120" r="2.2" fill="#4f7a35"/><circle cx="106" cy="140" r="2.2" fill="#4f7a35"/><circle cx="40" cy="180" r="2.2" fill="#4f7a35"/><circle cx="60" cy="181" r="2.2" fill="#4f7a35"/><circle cx="23" cy="3" r="2.2" fill="#4f7a35"/><path d="M9,48 H41 V73.5 H52.8 V81 H41 V113 H52.8 V120.5 H41 V146 H9 Z" fill="#5f98a2"/><rect x="12" y="52" width="14" height="12" fill="#7fb3bc" stroke="#4f858e" stroke-width="0.9"/><rect x="12" y="66" width="12" height="10" fill="#7fb3bc" stroke="#4f858e" stroke-width="0.9"/><rect x="26" y="56" width="6" height="14" fill="#7fb3bc" stroke="#4f858e" stroke-width="0.9"/><rect x="12" y="80" width="10" height="9" fill="#7fb3bc" stroke="#4f858e" stroke-width="0.9"/><rect x="28" y="84" width="10" height="10" fill="#7fb3bc" stroke="#4f858e" stroke-width="0.9"/><rect x="12" y="100" width="14" height="12" fill="#7fb3bc" stroke="#4f858e" stroke-width="0.9"/><rect x="12" y="114" width="12" height="10" fill="#7fb3bc" stroke="#4f858e" stroke-width="0.9"/><rect x="26" y="104" width="6" height="14" fill="#7fb3bc" stroke="#4f858e" stroke-width="0.9"/><rect x="12" y="128" width="10" height="9" fill="#7fb3bc" stroke="#4f858e" stroke-width="0.9"/><rect x="28" y="130" width="10" height="10" fill="#7fb3bc" stroke="#4f858e" stroke-width="0.9"/><line x1="25" y1="48" x2="25" y2="70" stroke="#3f7780" stroke-width="1.6"/><line x1="9" y1="70" x2="30" y2="70" stroke="#3f7780" stroke-width="1.6"/><line x1="30" y1="70" x2="30" y2="90" stroke="#3f7780" stroke-width="1.6"/><line x1="12" y1="96" x2="41" y2="96" stroke="#3f7780" stroke-width="1.6"/><line x1="25" y1="100" x2="25" y2="120" stroke="#3f7780" stroke-width="1.6"/><line x1="9" y1="122" x2="30" y2="122" stroke="#3f7780" stroke-width="1.6"/><line x1="30" y1="122" x2="30" y2="140" stroke="#3f7780" stroke-width="1.6"/><line x1="36" y1="52" x2="36" y2="146" stroke="#3f7780" stroke-width="1.6"/></g><path d="M9,0 L35.5,0 Q38,0 39.5,2.4000000000000004 L42.5,4.800000000000001 Q44,6 46.5,6 L56.5,6 Q59,6 60.5,4.800000000000001 L63.5,2.4000000000000004 Q65,0 67.5,0 L102.5,0 Q111.5,0 111.5,9 L111.5,29.0 Q111.5,31.5 109.1,33.0 L106.7,36.0 Q105.5,37.5 105.5,40.0 L105.5,43.0 Q105.5,45.5 106.7,47.0 L109.1,50.0 Q111.5,51.5 111.5,54.0 L111.5,116.0 Q111.5,118.5 109.1,120.0 L106.7,123.0 Q105.5,124.5 105.5,127.0 L105.5,130.0 Q105.5,132.5 106.7,134.0 L109.1,137.0 Q111.5,138.5 111.5,141.0 L111.5,178.5 Q111.5,187.5 102.5,187.5 L91.1,187.5 Q88.6,187.5 87.1,184.5 L82.6,181.5 Q81.1,180.0 78.6,180.0 L32.0,180.0 Q29.5,180.0 28.0,181.5 L23.5,184.5 Q22,187.5 19.5,187.5 L9,187.5 Q0,187.5 0,178.5 L0,140.5 Q0,138 2.2399999999999998,136.5 L4.4799999999999995,133.9 Q5.6,132.4 5.6,129.9 L5.6,104.1 Q5.6,101.6 4.4799999999999995,100.1 L2.2399999999999998,97.5 Q0,96 0,93.5 L0,9 Q0,0 9,0 Z" fill="none" stroke="#555" stroke-width="1.5"/><rect x="59.6" y="37.3" width="4" height="4" fill="#2c7a89"/><rect x="58.8" y="41.8" width="4" height="4" fill="#2c7a89"/><rect x="52.8" y="74.1" width="4" height="4" fill="#2c7a89"/><rect x="61.7" y="75.8" width="4" height="4" fill="#2c7a89"/><rect x="53.7" y="113.5" width="4" height="4" fill="#2c7a89"/><rect x="61.7" y="138.6" width="4" height="4" fill="#2c7a89"/><rect x="58.8" y="143.1" width="4" height="4" fill="#2c7a89"/></g><g transform="translate(1131.5,42.5)"><clipPath id="kc1"><path d="M9,0 L56.5,0 Q59,0 60.5,2.4000000000000004 L63.5,4.800000000000001 Q65,6 67.5,6 L73.5,6 Q76,6 77.5,4.800000000000001 L80.5,2.4000000000000004 Q82,0 84.5,0 L102.5,0 Q111.5,0 111.5,9 L111.5,31.5 Q111.5,34 108.7,35.5 L105.9,39.5 Q104.5,41 104.5,43.5 L104.5,82.5 Q104.5,85 105.9,86.5 L108.7,90.5 Q111.5,92 111.5,94.5 L111.5,172.5 Q111.5,174.5 109.5,175.5 L89.5,186.5 Q87.5,187.5 85.5,187.5 L9,187.5 Q0,187.5 0,178.5 L0,64.5 Q0,62 3.2,60.5 L6.4,55.5 Q8,54 8,51.5 L8,47.5 Q8,45 6.4,43.5 L3.2,38.5 Q0,37 0,34.5 L0,9 Q0,0 9,0 Z"/></clipPath><g clip-path="url(#kc1)"><rect x="0" y="0" width="111.5" height="187.5" fill="#ebe7e1"/><rect x="0" y="0" width="111.5" height="187.5" fill="#ece8e2"/><polygon points="0,4 9,12 9,44 0,52" fill="#c9c8c5"/><polygon points="0,96 9,104 9,140 0,148" fill="#c9c8c5"/><polygon points="0,150 9,158 9,178 0,186" fill="#c9c8c5"/><polygon points="102.5,58 111.5,50 111.5,118 102.5,110" fill="#c9c8c5"/><polygon points="102.5,150 111.5,142 111.5,186 102.5,178" fill="#c9c8c5"/><polygon points="10,0 40,0 34,7 16,7" fill="#c9c8c5"/><polygon points="72,0 100,0 94,7 78,7" fill="#c9c8c5"/><polygon points="14,187.5 42,187.5 36,181 20,181" fill="#c9c8c5"/><polygon points="70,187.5 98,187.5 92,181 76,181" fill="#c9c8c5"/><rect x="9.0" y="7.0" width="18.8" height="17.5" fill="#efebe5" stroke="#c3b9ad" stroke-width="0.5"/><rect x="12.8" y="10.6" width="10.9" height="8.2" fill="#f7f6f3" stroke="#cfc6bb" stroke-width="0.5"/><rect x="10.0" y="9.4" width="2.5" height="6.4" fill="#b9ac9b"/><rect x="9.0" y="24.5" width="18.8" height="17.5" fill="#efebe5" stroke="#c3b9ad" stroke-width="0.5"/><rect x="14.5" y="26.4" width="8.0" height="6.5" fill="#f7f6f3" stroke="#cfc6bb" stroke-width="0.5"/><rect x="27.8" y="7.0" width="18.8" height="17.5" fill="#efebe5" stroke="#c3b9ad" stroke-width="0.5"/><rect x="29.5" y="12.2" width="11.1" height="9.0" fill="#f7f6f3" stroke="#cfc6bb" stroke-width="0.5"/><rect x="28.8" y="12.8" width="2.5" height="8.0" fill="#b9ac9b"/><rect x="29.1" y="20.5" width="8.7" height="2.5" fill="#c2b5a4"/><rect x="27.8" y="24.5" width="18.8" height="17.5" fill="#efebe5" stroke="#c3b9ad" stroke-width="0.5"/><rect x="32.3" y="28.9" width="8.1" height="8.7" fill="#f7f6f3" stroke="#cfc6bb" stroke-width="0.5"/><rect x="28.8" y="30.5" width="2.5" height="6.4" fill="#b9ac9b"/><rect x="46.6" y="7.0" width="18.8" height="17.5" fill="#efebe5" stroke="#c3b9ad" stroke-width="0.5"/><rect x="50.4" y="9.5" width="11.3" height="10.5" fill="#f7f6f3" stroke="#cfc6bb" stroke-width="0.5"/><rect x="46.6" y="24.5" width="18.8" height="17.5" fill="#efebe5" stroke="#c3b9ad" stroke-width="0.5"/><rect x="49.7" y="26.9" width="7.9" height="6.4" fill="#f7f6f3" stroke="#cfc6bb" stroke-width="0.5"/><rect x="61.4" y="26.3" width="2.5" height="5.4" fill="#b9ac9b"/><rect x="47.7" y="38.0" width="7.7" height="2.5" fill="#c2b5a4"/><rect x="65.4" y="7.0" width="18.8" height="17.5" fill="#efebe5" stroke="#c3b9ad" stroke-width="0.5"/><rect x="68.0" y="12.0" width="6.8" height="7.8" fill="#f7f6f3" stroke="#cfc6bb" stroke-width="0.5"/><rect x="80.2" y="8.6" width="2.5" height="7.0" fill="#b9ac9b"/><rect x="65.4" y="24.5" width="18.8" height="17.5" fill="#efebe5" stroke="#c3b9ad" stroke-width="0.5"/><rect x="68.3" y="26.3" width="8.1" height="10.3" fill="#f7f6f3" stroke="#cfc6bb" stroke-width="0.5"/><rect x="66.4" y="26.5" width="2.5" height="7.4" fill="#b9ac9b"/><rect x="70.3" y="38.0" width="6.6" height="2.5" fill="#c2b5a4"/><rect x="84.2" y="7.0" width="18.8" height="17.5" fill="#efebe5" stroke="#c3b9ad" stroke-width="0.5"/><rect x="89.2" y="9.2" width="9.0" height="10.4" fill="#f7f6f3" stroke="#cfc6bb" stroke-width="0.5"/><rect x="99.0" y="13.0" width="2.5" height="4.6" fill="#b9ac9b"/><rect x="87.0" y="20.5" width="5.5" height="2.5" fill="#c2b5a4"/><rect x="84.2" y="24.5" width="18.8" height="17.5" fill="#efebe5" stroke="#c3b9ad" stroke-width="0.5"/><rect x="90.6" y="29.0" width="8.0" height="10.0" fill="#f7f6f3" stroke="#cfc6bb" stroke-width="0.5"/><rect x="99.0" y="33.2" width="2.5" height="6.9" fill="#b9ac9b"/><rect x="9.0" y="148.0" width="18.8" height="16.5" fill="#efebe5" stroke="#c3b9ad" stroke-width="0.5"/><rect x="10.7" y="150.0" width="8.7" height="5.8" fill="#f7f6f3" stroke="#cfc6bb" stroke-width="0.5"/><rect x="23.8" y="151.8" width="2.5" height="4.3" fill="#b9ac9b"/><rect x="15.3" y="160.5" width="4.1" height="2.5" fill="#c2b5a4"/><rect x="9.0" y="164.5" width="18.8" height="16.5" fill="#efebe5" stroke="#c3b9ad" stroke-width="0.5"/><rect x="12.4" y="168.1" width="7.2" height="8.2" fill="#f7f6f3" stroke="#cfc6bb" stroke-width="0.5"/><rect x="13.2" y="177.0" width="7.4" height="2.5" fill="#c2b5a4"/><rect x="27.8" y="148.0" width="18.8" height="16.5" fill="#efebe5" stroke="#c3b9ad" stroke-width="0.5"/><rect x="30.9" y="150.3" width="9.4" height="8.8" fill="#f7f6f3" stroke="#cfc6bb" stroke-width="0.5"/><rect x="28.8" y="154.0" width="2.5" height="5.6" fill="#b9ac9b"/><rect x="29.5" y="160.5" width="4.3" height="2.5" fill="#c2b5a4"/><rect x="27.8" y="164.5" width="18.8" height="16.5" fill="#efebe5" stroke="#c3b9ad" stroke-width="0.5"/><rect x="29.9" y="167.8" width="7.8" height="8.8" fill="#f7f6f3" stroke="#cfc6bb" stroke-width="0.5"/><rect x="42.6" y="171.5" width="2.5" height="6.5" fill="#b9ac9b"/><rect x="30.3" y="177.0" width="7.9" height="2.5" fill="#c2b5a4"/><rect x="46.6" y="148.0" width="18.8" height="16.5" fill="#efebe5" stroke="#c3b9ad" stroke-width="0.5"/><rect x="48.4" y="150.3" width="9.2" height="9.3" fill="#f7f6f3" stroke="#cfc6bb" stroke-width="0.5"/><rect x="61.4" y="150.5" width="2.5" height="7.9" fill="#b9ac9b"/><rect x="46.6" y="164.5" width="18.8" height="16.5" fill="#efebe5" stroke="#c3b9ad" stroke-width="0.5"/><rect x="48.5" y="167.4" width="7.8" height="6.0" fill="#f7f6f3" stroke="#cfc6bb" stroke-width="0.5"/><rect x="47.6" y="166.2" width="2.5" height="4.6" fill="#b9ac9b"/><rect x="50.4" y="177.0" width="8.0" height="2.5" fill="#c2b5a4"/><rect x="65.4" y="148.0" width="18.8" height="16.5" fill="#efebe5" stroke="#c3b9ad" stroke-width="0.5"/><rect x="69.6" y="152.8" width="9.4" height="9.6" fill="#f7f6f3" stroke="#cfc6bb" stroke-width="0.5"/><rect x="80.2" y="154.1" width="2.5" height="8.1" fill="#b9ac9b"/><rect x="71.7" y="160.5" width="6.6" height="2.5" fill="#c2b5a4"/><rect x="65.4" y="164.5" width="18.8" height="16.5" fill="#efebe5" stroke="#c3b9ad" stroke-width="0.5"/><rect x="70.6" y="167.1" width="11.3" height="6.1" fill="#f7f6f3" stroke="#cfc6bb" stroke-width="0.5"/><rect x="66.4" y="172.0" width="2.5" height="7.1" fill="#b9ac9b"/><rect x="84.2" y="148.0" width="18.8" height="16.5" fill="#efebe5" stroke="#c3b9ad" stroke-width="0.5"/><rect x="89.7" y="152.7" width="8.2" height="8.6" fill="#f7f6f3" stroke="#cfc6bb" stroke-width="0.5"/><rect x="84.2" y="164.5" width="18.8" height="16.5" fill="#efebe5" stroke="#c3b9ad" stroke-width="0.5"/><rect x="87.8" y="168.7" width="10.6" height="8.1" fill="#f7f6f3" stroke="#cfc6bb" stroke-width="0.5"/><rect x="99.0" y="168.2" width="2.5" height="4.1" fill="#b9ac9b"/><rect x="86.0" y="177.0" width="4.6" height="2.5" fill="#c2b5a4"/><rect x="68.0" y="42.0" width="17.5" height="21.2" fill="#efebe5" stroke="#c3b9ad" stroke-width="0.5"/><rect x="70.7" y="45.5" width="7.6" height="12.4" fill="#f7f6f3" stroke="#cfc6bb" stroke-width="0.5"/><rect x="81.5" y="47.2" width="2.5" height="9.5" fill="#b9ac9b"/><rect x="74.8" y="59.2" width="4.1" height="2.5" fill="#c2b5a4"/><rect x="68.0" y="63.2" width="17.5" height="21.2" fill="#efebe5" stroke="#c3b9ad" stroke-width="0.5"/><rect x="72.3" y="67.0" width="7.1" height="11.1" fill="#f7f6f3" stroke="#cfc6bb" stroke-width="0.5"/><rect x="81.5" y="66.7" width="2.5" height="4.1" fill="#b9ac9b"/><rect x="74.3" y="80.4" width="5.0" height="2.5" fill="#c2b5a4"/><rect x="68.0" y="84.4" width="17.5" height="21.2" fill="#efebe5" stroke="#c3b9ad" stroke-width="0.5"/><rect x="70.3" y="90.3" width="9.0" height="9.8" fill="#f7f6f3" stroke="#cfc6bb" stroke-width="0.5"/><rect x="74.2" y="101.6" width="4.9" height="2.5" fill="#c2b5a4"/><rect x="68.0" y="105.6" width="17.5" height="21.2" fill="#efebe5" stroke="#c3b9ad" stroke-width="0.5"/><rect x="71.5" y="111.0" width="10.1" height="12.1" fill="#f7f6f3" stroke="#cfc6bb" stroke-width="0.5"/><rect x="81.5" y="108.6" width="2.5" height="4.9" fill="#b9ac9b"/><rect x="75.9" y="122.8" width="4.2" height="2.5" fill="#c2b5a4"/><rect x="68.0" y="126.8" width="17.5" height="21.2" fill="#efebe5" stroke="#c3b9ad" stroke-width="0.5"/><rect x="69.8" y="133.1" width="9.7" height="8.0" fill="#f7f6f3" stroke="#cfc6bb" stroke-width="0.5"/><rect x="69.0" y="135.8" width="2.5" height="6.5" fill="#b9ac9b"/><rect x="85.5" y="42.0" width="17.5" height="21.2" fill="#efebe5" stroke="#c3b9ad" stroke-width="0.5"/><rect x="90.1" y="47.0" width="9.8" height="10.7" fill="#f7f6f3" stroke="#cfc6bb" stroke-width="0.5"/><rect x="86.5" y="45.7" width="2.5" height="8.0" fill="#b9ac9b"/><rect x="85.5" y="63.2" width="17.5" height="21.2" fill="#efebe5" stroke="#c3b9ad" stroke-width="0.5"/><rect x="88.3" y="66.4" width="9.0" height="10.4" fill="#f7f6f3" stroke="#cfc6bb" stroke-width="0.5"/><rect x="99.0" y="68.6" width="2.5" height="4.2" fill="#b9ac9b"/><rect x="85.5" y="84.4" width="17.5" height="21.2" fill="#efebe5" stroke="#c3b9ad" stroke-width="0.5"/><rect x="88.1" y="86.6" width="6.3" height="10.8" fill="#f7f6f3" stroke="#cfc6bb" stroke-width="0.5"/><rect x="99.0" y="94.6" width="2.5" height="8.5" fill="#b9ac9b"/><rect x="90.2" y="101.6" width="4.8" height="2.5" fill="#c2b5a4"/><rect x="85.5" y="105.6" width="17.5" height="21.2" fill="#efebe5" stroke="#c3b9ad" stroke-width="0.5"/><rect x="87.0" y="109.4" width="9.2" height="8.4" fill="#f7f6f3" stroke="#cfc6bb" stroke-width="0.5"/><rect x="99.0" y="111.8" width="2.5" height="10.2" fill="#b9ac9b"/><rect x="85.5" y="126.8" width="17.5" height="21.2" fill="#efebe5" stroke="#c3b9ad" stroke-width="0.5"/><rect x="91.6" y="129.1" width="9.8" height="11.1" fill="#f7f6f3" stroke="#cfc6bb" stroke-width="0.5"/><rect x="99.0" y="136.8" width="2.5" height="8.8" fill="#b9ac9b"/><rect x="90.0" y="144.0" width="7.0" height="2.5" fill="#c2b5a4"/><rect x="9.0" y="42.0" width="16.0" height="21.2" fill="#efebe5" stroke="#c3b9ad" stroke-width="0.5"/><rect x="14.2" y="45.3" width="7.9" height="12.1" fill="#f7f6f3" stroke="#cfc6bb" stroke-width="0.5"/><rect x="21.0" y="47.5" width="2.5" height="8.3" fill="#b9ac9b"/><rect x="15.1" y="59.2" width="7.3" height="2.5" fill="#c2b5a4"/><rect x="9.0" y="63.2" width="16.0" height="21.2" fill="#efebe5" stroke="#c3b9ad" stroke-width="0.5"/><rect x="13.1" y="68.2" width="6.5" height="12.2" fill="#f7f6f3" stroke="#cfc6bb" stroke-width="0.5"/><rect x="9.0" y="84.4" width="16.0" height="21.2" fill="#efebe5" stroke="#c3b9ad" stroke-width="0.5"/><rect x="12.7" y="89.7" width="6.9" height="12.2" fill="#f7f6f3" stroke="#cfc6bb" stroke-width="0.5"/><rect x="10.6" y="101.6" width="5.8" height="2.5" fill="#c2b5a4"/><rect x="9.0" y="105.6" width="16.0" height="21.2" fill="#efebe5" stroke="#c3b9ad" stroke-width="0.5"/><rect x="12.8" y="110.8" width="7.5" height="7.6" fill="#f7f6f3" stroke="#cfc6bb" stroke-width="0.5"/><rect x="15.6" y="122.8" width="4.7" height="2.5" fill="#c2b5a4"/><rect x="9.0" y="126.8" width="16.0" height="21.2" fill="#efebe5" stroke="#c3b9ad" stroke-width="0.5"/><rect x="11.9" y="132.1" width="6.2" height="8.2" fill="#f7f6f3" stroke="#cfc6bb" stroke-width="0.5"/><rect x="21.0" y="136.9" width="2.5" height="7.3" fill="#b9ac9b"/><rect x="25.0" y="42.0" width="16.0" height="21.2" fill="#efebe5" stroke="#c3b9ad" stroke-width="0.5"/><rect x="26.9" y="44.6" width="7.7" height="9.0" fill="#f7f6f3" stroke="#cfc6bb" stroke-width="0.5"/><rect x="26.0" y="48.0" width="2.5" height="9.6" fill="#b9ac9b"/><rect x="25.0" y="63.2" width="16.0" height="21.2" fill="#efebe5" stroke="#c3b9ad" stroke-width="0.5"/><rect x="27.8" y="66.6" width="9.0" height="12.2" fill="#f7f6f3" stroke="#cfc6bb" stroke-width="0.5"/><rect x="26.0" y="73.5" width="2.5" height="7.5" fill="#b9ac9b"/><rect x="25.0" y="84.4" width="16.0" height="21.2" fill="#efebe5" stroke="#c3b9ad" stroke-width="0.5"/><rect x="27.3" y="88.5" width="7.6" height="10.6" fill="#f7f6f3" stroke="#cfc6bb" stroke-width="0.5"/><rect x="26.0" y="90.4" width="2.5" height="6.6" fill="#b9ac9b"/><rect x="25.0" y="105.6" width="16.0" height="21.2" fill="#efebe5" stroke="#c3b9ad" stroke-width="0.5"/><rect x="28.8" y="109.5" width="8.4" height="7.8" fill="#f7f6f3" stroke="#cfc6bb" stroke-width="0.5"/><rect x="37.0" y="115.4" width="2.5" height="9.3" fill="#b9ac9b"/><rect x="27.7" y="122.8" width="6.0" height="2.5" fill="#c2b5a4"/><rect x="25.0" y="126.8" width="16.0" height="21.2" fill="#efebe5" stroke="#c3b9ad" stroke-width="0.5"/><rect x="27.9" y="132.7" width="9.3" height="12.3" fill="#f7f6f3" stroke="#cfc6bb" stroke-width="0.5"/><rect x="26.0" y="129.6" width="2.5" height="8.1" fill="#b9ac9b"/><rect x="57" y="42" width="11" height="106" fill="#f2efea"/><line x1="57" y1="42" x2="57" y2="148" stroke="#c3b9ad" stroke-width="0.5"/><line x1="68" y1="42" x2="68" y2="148" stroke="#c3b9ad" stroke-width="0.5"/><rect x="41" y="44" width="16" height="30" fill="#d8d2ca" stroke="#a99f93" stroke-width="0.8"/><line x1="43" y1="49.0" x2="55" y2="49.0" stroke="#b8aea2" stroke-width="0.5"/><line x1="43" y1="54.0" x2="55" y2="54.0" stroke="#b8aea2" stroke-width="0.5"/><line x1="43" y1="59.0" x2="55" y2="59.0" stroke="#b8aea2" stroke-width="0.5"/><line x1="43" y1="64.0" x2="55" y2="64.0" stroke="#b8aea2" stroke-width="0.5"/><line x1="43" y1="69.0" x2="55" y2="69.0" stroke="#b8aea2" stroke-width="0.5"/><rect x="41" y="119" width="16" height="28" fill="#d8d2ca" stroke="#a99f93" stroke-width="0.8"/><line x1="43" y1="123.7" x2="55" y2="123.7" stroke="#b8aea2" stroke-width="0.5"/><line x1="43" y1="128.3" x2="55" y2="128.3" stroke="#b8aea2" stroke-width="0.5"/><line x1="43" y1="133.0" x2="55" y2="133.0" stroke="#b8aea2" stroke-width="0.5"/><line x1="43" y1="137.7" x2="55" y2="137.7" stroke="#b8aea2" stroke-width="0.5"/><line x1="43" y1="142.3" x2="55" y2="142.3" stroke="#b8aea2" stroke-width="0.5"/><rect x="42" y="84" width="9" height="9" fill="#d2ccc4" stroke="#a39a8f" stroke-width="0.6"/><rect x="42" y="94" width="9" height="9" fill="#d2ccc4" stroke="#a39a8f" stroke-width="0.6"/><rect x="42" y="104" width="9" height="9" fill="#d2ccc4" stroke="#a39a8f" stroke-width="0.6"/><circle cx="3" cy="54" r="2.2" fill="#4f7a35"/><circle cx="3" cy="110" r="2.2" fill="#4f7a35"/><circle cx="106" cy="38" r="2.2" fill="#4f7a35"/><circle cx="106" cy="120" r="2.2" fill="#4f7a35"/><circle cx="106" cy="140" r="2.2" fill="#4f7a35"/><circle cx="40" cy="180" r="2.2" fill="#4f7a35"/><circle cx="60" cy="181" r="2.2" fill="#4f7a35"/><circle cx="23" cy="3" r="2.2" fill="#4f7a35"/><path d="M9,48 H41 V73.5 H52.8 V81 H41 V113 H52.8 V120.5 H41 V146 H9 Z" fill="#5f98a2"/><rect x="12" y="52" width="14" height="12" fill="#7fb3bc" stroke="#4f858e" stroke-width="0.9"/><rect x="12" y="66" width="12" height="10" fill="#7fb3bc" stroke="#4f858e" stroke-width="0.9"/><rect x="26" y="56" width="6" height="14" fill="#7fb3bc" stroke="#4f858e" stroke-width="0.9"/><rect x="12" y="80" width="10" height="9" fill="#7fb3bc" stroke="#4f858e" stroke-width="0.9"/><rect x="28" y="84" width="10" height="10" fill="#7fb3bc" stroke="#4f858e" stroke-width="0.9"/><rect x="12" y="100" width="14" height="12" fill="#7fb3bc" stroke="#4f858e" stroke-width="0.9"/><rect x="12" y="114" width="12" height="10" fill="#7fb3bc" stroke="#4f858e" stroke-width="0.9"/><rect x="26" y="104" width="6" height="14" fill="#7fb3bc" stroke="#4f858e" stroke-width="0.9"/><rect x="12" y="128" width="10" height="9" fill="#7fb3bc" stroke="#4f858e" stroke-width="0.9"/><rect x="28" y="130" width="10" height="10" fill="#7fb3bc" stroke="#4f858e" stroke-width="0.9"/><line x1="25" y1="48" x2="25" y2="70" stroke="#3f7780" stroke-width="1.6"/><line x1="9" y1="70" x2="30" y2="70" stroke="#3f7780" stroke-width="1.6"/><line x1="30" y1="70" x2="30" y2="90" stroke="#3f7780" stroke-width="1.6"/><line x1="12" y1="96" x2="41" y2="96" stroke="#3f7780" stroke-width="1.6"/><line x1="25" y1="100" x2="25" y2="120" stroke="#3f7780" stroke-width="1.6"/><line x1="9" y1="122" x2="30" y2="122" stroke="#3f7780" stroke-width="1.6"/><line x1="30" y1="122" x2="30" y2="140" stroke="#3f7780" stroke-width="1.6"/><line x1="36" y1="52" x2="36" y2="146" stroke="#3f7780" stroke-width="1.6"/></g><path d="M9,0 L56.5,0 Q59,0 60.5,2.4000000000000004 L63.5,4.800000000000001 Q65,6 67.5,6 L73.5,6 Q76,6 77.5,4.800000000000001 L80.5,2.4000000000000004 Q82,0 84.5,0 L102.5,0 Q111.5,0 111.5,9 L111.5,31.5 Q111.5,34 108.7,35.5 L105.9,39.5 Q104.5,41 104.5,43.5 L104.5,82.5 Q104.5,85 105.9,86.5 L108.7,90.5 Q111.5,92 111.5,94.5 L111.5,172.5 Q111.5,174.5 109.5,175.5 L89.5,186.5 Q87.5,187.5 85.5,187.5 L9,187.5 Q0,187.5 0,178.5 L0,64.5 Q0,62 3.2,60.5 L6.4,55.5 Q8,54 8,51.5 L8,47.5 Q8,45 6.4,43.5 L3.2,38.5 Q0,37 0,34.5 L0,9 Q0,0 9,0 Z" fill="none" stroke="#555" stroke-width="1.5"/><rect x="59.6" y="37.3" width="4" height="4" fill="#2c7a89"/><rect x="58.8" y="41.8" width="4" height="4" fill="#2c7a89"/><rect x="52.8" y="74.1" width="4" height="4" fill="#2c7a89"/><rect x="61.7" y="75.8" width="4" height="4" fill="#2c7a89"/><rect x="53.7" y="113.5" width="4" height="4" fill="#2c7a89"/><rect x="61.7" y="138.6" width="4" height="4" fill="#2c7a89"/><rect x="58.8" y="143.1" width="4" height="4" fill="#2c7a89"/></g><g transform="translate(1000,255.5)"><clipPath id="kc2"><path d="M21.5,0 L102.5,0 Q111.5,0 111.5,9 L111.5,29.5 Q111.5,32 108.3,33.5 L105.1,38.5 Q103.5,40 103.5,42.5 L103.5,51.5 Q103.5,54 105.1,55.5 L108.3,60.5 Q111.5,62 111.5,64.5 L111.5,178.5 Q111.5,187.5 102.5,187.5 L92.5,187.5 Q90,187.5 88.5,183.9 L82.5,180.3 Q81,178.5 78.5,178.5 L74.5,178.5 Q72,178.5 70.5,180.3 L64.5,183.9 Q63,187.5 60.5,187.5 L9,187.5 Q0,187.5 0,178.5 L0,86.5 Q0,84 3.2,82.5 L6.4,77.5 Q8,76 8,73.5 L8,60.5 Q8,58 6.4,56.5 L3.2,51.5 Q0,50 0,47.5 L0,12 Q0,10 1.5,8.8 L18.0,1 Q19.5,0 21.5,0 Z"/></clipPath><g clip-path="url(#kc2)"><rect x="0" y="0" width="111.5" height="187.5" fill="#ebe7e1"/><rect x="0" y="0" width="111.5" height="187.5" fill="#ece8e2"/><polygon points="0,4 9,12 9,44 0,52" fill="#c9c8c5"/><polygon points="0,96 9,104 9,140 0,148" fill="#c9c8c5"/><polygon points="0,150 9,158 9,178 0,186" fill="#c9c8c5"/><polygon points="102.5,58 111.5,50 111.5,118 102.5,110" fill="#c9c8c5"/><polygon points="102.5,150 111.5,142 111.5,186 102.5,178" fill="#c9c8c5"/><polygon points="10,0 40,0 34,7 16,7" fill="#c9c8c5"/><polygon points="72,0 100,0 94,7 78,7" fill="#c9c8c5"/><polygon points="14,187.5 42,187.5 36,181 20,181" fill="#c9c8c5"/><polygon points="70,187.5 98,187.5 92,181 76,181" fill="#c9c8c5"/><rect x="9.0" y="7.0" width="18.8" height="17.5" fill="#efebe5" stroke="#c3b9ad" stroke-width="0.5"/><rect x="12.8" y="10.6" width="10.9" height="8.2" fill="#f7f6f3" stroke="#cfc6bb" stroke-width="0.5"/><rect x="10.0" y="9.4" width="2.5" height="6.4" fill="#b9ac9b"/><rect x="9.0" y="24.5" width="18.8" height="17.5" fill="#efebe5" stroke="#c3b9ad" stroke-width="0.5"/><rect x="14.5" y="26.4" width="8.0" height="6.5" fill="#f7f6f3" stroke="#cfc6bb" stroke-width="0.5"/><rect x="27.8" y="7.0" width="18.8" height="17.5" fill="#efebe5" stroke="#c3b9ad" stroke-width="0.5"/><rect x="29.5" y="12.2" width="11.1" height="9.0" fill="#f7f6f3" stroke="#cfc6bb" stroke-width="0.5"/><rect x="28.8" y="12.8" width="2.5" height="8.0" fill="#b9ac9b"/><rect x="29.1" y="20.5" width="8.7" height="2.5" fill="#c2b5a4"/><rect x="27.8" y="24.5" width="18.8" height="17.5" fill="#efebe5" stroke="#c3b9ad" stroke-width="0.5"/><rect x="32.3" y="28.9" width="8.1" height="8.7" fill="#f7f6f3" stroke="#cfc6bb" stroke-width="0.5"/><rect x="28.8" y="30.5" width="2.5" height="6.4" fill="#b9ac9b"/><rect x="46.6" y="7.0" width="18.8" height="17.5" fill="#efebe5" stroke="#c3b9ad" stroke-width="0.5"/><rect x="50.4" y="9.5" width="11.3" height="10.5" fill="#f7f6f3" stroke="#cfc6bb" stroke-width="0.5"/><rect x="46.6" y="24.5" width="18.8" height="17.5" fill="#efebe5" stroke="#c3b9ad" stroke-width="0.5"/><rect x="49.7" y="26.9" width="7.9" height="6.4" fill="#f7f6f3" stroke="#cfc6bb" stroke-width="0.5"/><rect x="61.4" y="26.3" width="2.5" height="5.4" fill="#b9ac9b"/><rect x="47.7" y="38.0" width="7.7" height="2.5" fill="#c2b5a4"/><rect x="65.4" y="7.0" width="18.8" height="17.5" fill="#efebe5" stroke="#c3b9ad" stroke-width="0.5"/><rect x="68.0" y="12.0" width="6.8" height="7.8" fill="#f7f6f3" stroke="#cfc6bb" stroke-width="0.5"/><rect x="80.2" y="8.6" width="2.5" height="7.0" fill="#b9ac9b"/><rect x="65.4" y="24.5" width="18.8" height="17.5" fill="#efebe5" stroke="#c3b9ad" stroke-width="0.5"/><rect x="68.3" y="26.3" width="8.1" height="10.3" fill="#f7f6f3" stroke="#cfc6bb" stroke-width="0.5"/><rect x="66.4" y="26.5" width="2.5" height="7.4" fill="#b9ac9b"/><rect x="70.3" y="38.0" width="6.6" height="2.5" fill="#c2b5a4"/><rect x="84.2" y="7.0" width="18.8" height="17.5" fill="#efebe5" stroke="#c3b9ad" stroke-width="0.5"/><rect x="89.2" y="9.2" width="9.0" height="10.4" fill="#f7f6f3" stroke="#cfc6bb" stroke-width="0.5"/><rect x="99.0" y="13.0" width="2.5" height="4.6" fill="#b9ac9b"/><rect x="87.0" y="20.5" width="5.5" height="2.5" fill="#c2b5a4"/><rect x="84.2" y="24.5" width="18.8" height="17.5" fill="#efebe5" stroke="#c3b9ad" stroke-width="0.5"/><rect x="90.6" y="29.0" width="8.0" height="10.0" fill="#f7f6f3" stroke="#cfc6bb" stroke-width="0.5"/><rect x="99.0" y="33.2" width="2.5" height="6.9" fill="#b9ac9b"/><rect x="9.0" y="148.0" width="18.8" height="16.5" fill="#efebe5" stroke="#c3b9ad" stroke-width="0.5"/><rect x="10.7" y="150.0" width="8.7" height="5.8" fill="#f7f6f3" stroke="#cfc6bb" stroke-width="0.5"/><rect x="23.8" y="151.8" width="2.5" height="4.3" fill="#b9ac9b"/><rect x="15.3" y="160.5" width="4.1" height="2.5" fill="#c2b5a4"/><rect x="9.0" y="164.5" width="18.8" height="16.5" fill="#efebe5" stroke="#c3b9ad" stroke-width="0.5"/><rect x="12.4" y="168.1" width="7.2" height="8.2" fill="#f7f6f3" stroke="#cfc6bb" stroke-width="0.5"/><rect x="13.2" y="177.0" width="7.4" height="2.5" fill="#c2b5a4"/><rect x="27.8" y="148.0" width="18.8" height="16.5" fill="#efebe5" stroke="#c3b9ad" stroke-width="0.5"/><rect x="30.9" y="150.3" width="9.4" height="8.8" fill="#f7f6f3" stroke="#cfc6bb" stroke-width="0.5"/><rect x="28.8" y="154.0" width="2.5" height="5.6" fill="#b9ac9b"/><rect x="29.5" y="160.5" width="4.3" height="2.5" fill="#c2b5a4"/><rect x="27.8" y="164.5" width="18.8" height="16.5" fill="#efebe5" stroke="#c3b9ad" stroke-width="0.5"/><rect x="29.9" y="167.8" width="7.8" height="8.8" fill="#f7f6f3" stroke="#cfc6bb" stroke-width="0.5"/><rect x="42.6" y="171.5" width="2.5" height="6.5" fill="#b9ac9b"/><rect x="30.3" y="177.0" width="7.9" height="2.5" fill="#c2b5a4"/><rect x="46.6" y="148.0" width="18.8" height="16.5" fill="#efebe5" stroke="#c3b9ad" stroke-width="0.5"/><rect x="48.4" y="150.3" width="9.2" height="9.3" fill="#f7f6f3" stroke="#cfc6bb" stroke-width="0.5"/><rect x="61.4" y="150.5" width="2.5" height="7.9" fill="#b9ac9b"/><rect x="46.6" y="164.5" width="18.8" height="16.5" fill="#efebe5" stroke="#c3b9ad" stroke-width="0.5"/><rect x="48.5" y="167.4" width="7.8" height="6.0" fill="#f7f6f3" stroke="#cfc6bb" stroke-width="0.5"/><rect x="47.6" y="166.2" width="2.5" height="4.6" fill="#b9ac9b"/><rect x="50.4" y="177.0" width="8.0" height="2.5" fill="#c2b5a4"/><rect x="65.4" y="148.0" width="18.8" height="16.5" fill="#efebe5" stroke="#c3b9ad" stroke-width="0.5"/><rect x="69.6" y="152.8" width="9.4" height="9.6" fill="#f7f6f3" stroke="#cfc6bb" stroke-width="0.5"/><rect x="80.2" y="154.1" width="2.5" height="8.1" fill="#b9ac9b"/><rect x="71.7" y="160.5" width="6.6" height="2.5" fill="#c2b5a4"/><rect x="65.4" y="164.5" width="18.8" height="16.5" fill="#efebe5" stroke="#c3b9ad" stroke-width="0.5"/><rect x="70.6" y="167.1" width="11.3" height="6.1" fill="#f7f6f3" stroke="#cfc6bb" stroke-width="0.5"/><rect x="66.4" y="172.0" width="2.5" height="7.1" fill="#b9ac9b"/><rect x="84.2" y="148.0" width="18.8" height="16.5" fill="#efebe5" stroke="#c3b9ad" stroke-width="0.5"/><rect x="89.7" y="152.7" width="8.2" height="8.6" fill="#f7f6f3" stroke="#cfc6bb" stroke-width="0.5"/><rect x="84.2" y="164.5" width="18.8" height="16.5" fill="#efebe5" stroke="#c3b9ad" stroke-width="0.5"/><rect x="87.8" y="168.7" width="10.6" height="8.1" fill="#f7f6f3" stroke="#cfc6bb" stroke-width="0.5"/><rect x="99.0" y="168.2" width="2.5" height="4.1" fill="#b9ac9b"/><rect x="86.0" y="177.0" width="4.6" height="2.5" fill="#c2b5a4"/><rect x="68.0" y="42.0" width="17.5" height="21.2" fill="#efebe5" stroke="#c3b9ad" stroke-width="0.5"/><rect x="70.7" y="45.5" width="7.6" height="12.4" fill="#f7f6f3" stroke="#cfc6bb" stroke-width="0.5"/><rect x="81.5" y="47.2" width="2.5" height="9.5" fill="#b9ac9b"/><rect x="74.8" y="59.2" width="4.1" height="2.5" fill="#c2b5a4"/><rect x="68.0" y="63.2" width="17.5" height="21.2" fill="#efebe5" stroke="#c3b9ad" stroke-width="0.5"/><rect x="72.3" y="67.0" width="7.1" height="11.1" fill="#f7f6f3" stroke="#cfc6bb" stroke-width="0.5"/><rect x="81.5" y="66.7" width="2.5" height="4.1" fill="#b9ac9b"/><rect x="74.3" y="80.4" width="5.0" height="2.5" fill="#c2b5a4"/><rect x="68.0" y="84.4" width="17.5" height="21.2" fill="#efebe5" stroke="#c3b9ad" stroke-width="0.5"/><rect x="70.3" y="90.3" width="9.0" height="9.8" fill="#f7f6f3" stroke="#cfc6bb" stroke-width="0.5"/><rect x="74.2" y="101.6" width="4.9" height="2.5" fill="#c2b5a4"/><rect x="68.0" y="105.6" width="17.5" height="21.2" fill="#efebe5" stroke="#c3b9ad" stroke-width="0.5"/><rect x="71.5" y="111.0" width="10.1" height="12.1" fill="#f7f6f3" stroke="#cfc6bb" stroke-width="0.5"/><rect x="81.5" y="108.6" width="2.5" height="4.9" fill="#b9ac9b"/><rect x="75.9" y="122.8" width="4.2" height="2.5" fill="#c2b5a4"/><rect x="68.0" y="126.8" width="17.5" height="21.2" fill="#efebe5" stroke="#c3b9ad" stroke-width="0.5"/><rect x="69.8" y="133.1" width="9.7" height="8.0" fill="#f7f6f3" stroke="#cfc6bb" stroke-width="0.5"/><rect x="69.0" y="135.8" width="2.5" height="6.5" fill="#b9ac9b"/><rect x="85.5" y="42.0" width="17.5" height="21.2" fill="#efebe5" stroke="#c3b9ad" stroke-width="0.5"/><rect x="90.1" y="47.0" width="9.8" height="10.7" fill="#f7f6f3" stroke="#cfc6bb" stroke-width="0.5"/><rect x="86.5" y="45.7" width="2.5" height="8.0" fill="#b9ac9b"/><rect x="85.5" y="63.2" width="17.5" height="21.2" fill="#efebe5" stroke="#c3b9ad" stroke-width="0.5"/><rect x="88.3" y="66.4" width="9.0" height="10.4" fill="#f7f6f3" stroke="#cfc6bb" stroke-width="0.5"/><rect x="99.0" y="68.6" width="2.5" height="4.2" fill="#b9ac9b"/><rect x="85.5" y="84.4" width="17.5" height="21.2" fill="#efebe5" stroke="#c3b9ad" stroke-width="0.5"/><rect x="88.1" y="86.6" width="6.3" height="10.8" fill="#f7f6f3" stroke="#cfc6bb" stroke-width="0.5"/><rect x="99.0" y="94.6" width="2.5" height="8.5" fill="#b9ac9b"/><rect x="90.2" y="101.6" width="4.8" height="2.5" fill="#c2b5a4"/><rect x="85.5" y="105.6" width="17.5" height="21.2" fill="#efebe5" stroke="#c3b9ad" stroke-width="0.5"/><rect x="87.0" y="109.4" width="9.2" height="8.4" fill="#f7f6f3" stroke="#cfc6bb" stroke-width="0.5"/><rect x="99.0" y="111.8" width="2.5" height="10.2" fill="#b9ac9b"/><rect x="85.5" y="126.8" width="17.5" height="21.2" fill="#efebe5" stroke="#c3b9ad" stroke-width="0.5"/><rect x="91.6" y="129.1" width="9.8" height="11.1" fill="#f7f6f3" stroke="#cfc6bb" stroke-width="0.5"/><rect x="99.0" y="136.8" width="2.5" height="8.8" fill="#b9ac9b"/><rect x="90.0" y="144.0" width="7.0" height="2.5" fill="#c2b5a4"/><rect x="9.0" y="42.0" width="16.0" height="21.2" fill="#efebe5" stroke="#c3b9ad" stroke-width="0.5"/><rect x="14.2" y="45.3" width="7.9" height="12.1" fill="#f7f6f3" stroke="#cfc6bb" stroke-width="0.5"/><rect x="21.0" y="47.5" width="2.5" height="8.3" fill="#b9ac9b"/><rect x="15.1" y="59.2" width="7.3" height="2.5" fill="#c2b5a4"/><rect x="9.0" y="63.2" width="16.0" height="21.2" fill="#efebe5" stroke="#c3b9ad" stroke-width="0.5"/><rect x="13.1" y="68.2" width="6.5" height="12.2" fill="#f7f6f3" stroke="#cfc6bb" stroke-width="0.5"/><rect x="9.0" y="84.4" width="16.0" height="21.2" fill="#efebe5" stroke="#c3b9ad" stroke-width="0.5"/><rect x="12.7" y="89.7" width="6.9" height="12.2" fill="#f7f6f3" stroke="#cfc6bb" stroke-width="0.5"/><rect x="10.6" y="101.6" width="5.8" height="2.5" fill="#c2b5a4"/><rect x="9.0" y="105.6" width="16.0" height="21.2" fill="#efebe5" stroke="#c3b9ad" stroke-width="0.5"/><rect x="12.8" y="110.8" width="7.5" height="7.6" fill="#f7f6f3" stroke="#cfc6bb" stroke-width="0.5"/><rect x="15.6" y="122.8" width="4.7" height="2.5" fill="#c2b5a4"/><rect x="9.0" y="126.8" width="16.0" height="21.2" fill="#efebe5" stroke="#c3b9ad" stroke-width="0.5"/><rect x="11.9" y="132.1" width="6.2" height="8.2" fill="#f7f6f3" stroke="#cfc6bb" stroke-width="0.5"/><rect x="21.0" y="136.9" width="2.5" height="7.3" fill="#b9ac9b"/><rect x="25.0" y="42.0" width="16.0" height="21.2" fill="#efebe5" stroke="#c3b9ad" stroke-width="0.5"/><rect x="26.9" y="44.6" width="7.7" height="9.0" fill="#f7f6f3" stroke="#cfc6bb" stroke-width="0.5"/><rect x="26.0" y="48.0" width="2.5" height="9.6" fill="#b9ac9b"/><rect x="25.0" y="63.2" width="16.0" height="21.2" fill="#efebe5" stroke="#c3b9ad" stroke-width="0.5"/><rect x="27.8" y="66.6" width="9.0" height="12.2" fill="#f7f6f3" stroke="#cfc6bb" stroke-width="0.5"/><rect x="26.0" y="73.5" width="2.5" height="7.5" fill="#b9ac9b"/><rect x="25.0" y="84.4" width="16.0" height="21.2" fill="#efebe5" stroke="#c3b9ad" stroke-width="0.5"/><rect x="27.3" y="88.5" width="7.6" height="10.6" fill="#f7f6f3" stroke="#cfc6bb" stroke-width="0.5"/><rect x="26.0" y="90.4" width="2.5" height="6.6" fill="#b9ac9b"/><rect x="25.0" y="105.6" width="16.0" height="21.2" fill="#efebe5" stroke="#c3b9ad" stroke-width="0.5"/><rect x="28.8" y="109.5" width="8.4" height="7.8" fill="#f7f6f3" stroke="#cfc6bb" stroke-width="0.5"/><rect x="37.0" y="115.4" width="2.5" height="9.3" fill="#b9ac9b"/><rect x="27.7" y="122.8" width="6.0" height="2.5" fill="#c2b5a4"/><rect x="25.0" y="126.8" width="16.0" height="21.2" fill="#efebe5" stroke="#c3b9ad" stroke-width="0.5"/><rect x="27.9" y="132.7" width="9.3" height="12.3" fill="#f7f6f3" stroke="#cfc6bb" stroke-width="0.5"/><rect x="26.0" y="129.6" width="2.5" height="8.1" fill="#b9ac9b"/><rect x="57" y="42" width="11" height="106" fill="#f2efea"/><line x1="57" y1="42" x2="57" y2="148" stroke="#c3b9ad" stroke-width="0.5"/><line x1="68" y1="42" x2="68" y2="148" stroke="#c3b9ad" stroke-width="0.5"/><rect x="41" y="44" width="16" height="30" fill="#d8d2ca" stroke="#a99f93" stroke-width="0.8"/><line x1="43" y1="49.0" x2="55" y2="49.0" stroke="#b8aea2" stroke-width="0.5"/><line x1="43" y1="54.0" x2="55" y2="54.0" stroke="#b8aea2" stroke-width="0.5"/><line x1="43" y1="59.0" x2="55" y2="59.0" stroke="#b8aea2" stroke-width="0.5"/><line x1="43" y1="64.0" x2="55" y2="64.0" stroke="#b8aea2" stroke-width="0.5"/><line x1="43" y1="69.0" x2="55" y2="69.0" stroke="#b8aea2" stroke-width="0.5"/><rect x="41" y="119" width="16" height="28" fill="#d8d2ca" stroke="#a99f93" stroke-width="0.8"/><line x1="43" y1="123.7" x2="55" y2="123.7" stroke="#b8aea2" stroke-width="0.5"/><line x1="43" y1="128.3" x2="55" y2="128.3" stroke="#b8aea2" stroke-width="0.5"/><line x1="43" y1="133.0" x2="55" y2="133.0" stroke="#b8aea2" stroke-width="0.5"/><line x1="43" y1="137.7" x2="55" y2="137.7" stroke="#b8aea2" stroke-width="0.5"/><line x1="43" y1="142.3" x2="55" y2="142.3" stroke="#b8aea2" stroke-width="0.5"/><rect x="42" y="84" width="9" height="9" fill="#d2ccc4" stroke="#a39a8f" stroke-width="0.6"/><rect x="42" y="94" width="9" height="9" fill="#d2ccc4" stroke="#a39a8f" stroke-width="0.6"/><rect x="42" y="104" width="9" height="9" fill="#d2ccc4" stroke="#a39a8f" stroke-width="0.6"/><circle cx="3" cy="54" r="2.2" fill="#4f7a35"/><circle cx="3" cy="110" r="2.2" fill="#4f7a35"/><circle cx="106" cy="38" r="2.2" fill="#4f7a35"/><circle cx="106" cy="120" r="2.2" fill="#4f7a35"/><circle cx="106" cy="140" r="2.2" fill="#4f7a35"/><circle cx="40" cy="180" r="2.2" fill="#4f7a35"/><circle cx="60" cy="181" r="2.2" fill="#4f7a35"/><circle cx="23" cy="3" r="2.2" fill="#4f7a35"/><path d="M9,47.5 H41 V73 H52.8 V80.5 H41 V97 H9 Z" fill="#5f98a2"/><rect x="12" y="52" width="14" height="12" fill="#7fb3bc" stroke="#4f858e" stroke-width="0.9"/><rect x="12" y="66" width="12" height="10" fill="#7fb3bc" stroke="#4f858e" stroke-width="0.9"/><rect x="26" y="56" width="6" height="14" fill="#7fb3bc" stroke="#4f858e" stroke-width="0.9"/><rect x="12" y="80" width="10" height="9" fill="#7fb3bc" stroke="#4f858e" stroke-width="0.9"/><rect x="28" y="84" width="10" height="10" fill="#7fb3bc" stroke="#4f858e" stroke-width="0.9"/><line x1="25" y1="48" x2="25" y2="70" stroke="#3f7780" stroke-width="1.6"/><line x1="9" y1="70" x2="30" y2="70" stroke="#3f7780" stroke-width="1.6"/><line x1="30" y1="70" x2="30" y2="90" stroke="#3f7780" stroke-width="1.6"/><line x1="12" y1="96" x2="41" y2="96" stroke="#3f7780" stroke-width="1.6"/></g><path d="M21.5,0 L102.5,0 Q111.5,0 111.5,9 L111.5,29.5 Q111.5,32 108.3,33.5 L105.1,38.5 Q103.5,40 103.5,42.5 L103.5,51.5 Q103.5,54 105.1,55.5 L108.3,60.5 Q111.5,62 111.5,64.5 L111.5,178.5 Q111.5,187.5 102.5,187.5 L92.5,187.5 Q90,187.5 88.5,183.9 L82.5,180.3 Q81,178.5 78.5,178.5 L74.5,178.5 Q72,178.5 70.5,180.3 L64.5,183.9 Q63,187.5 60.5,187.5 L9,187.5 Q0,187.5 0,178.5 L0,86.5 Q0,84 3.2,82.5 L6.4,77.5 Q8,76 8,73.5 L8,60.5 Q8,58 6.4,56.5 L3.2,51.5 Q0,50 0,47.5 L0,12 Q0,10 1.5,8.8 L18.0,1 Q19.5,0 21.5,0 Z" fill="none" stroke="#555" stroke-width="1.5"/><rect x="59.6" y="37.3" width="4" height="4" fill="#2c7a89"/><rect x="58.8" y="41.8" width="4" height="4" fill="#2c7a89"/><rect x="52.8" y="74.1" width="4" height="4" fill="#2c7a89"/><rect x="61.7" y="75.8" width="4" height="4" fill="#2c7a89"/><rect x="53.7" y="113.5" width="4" height="4" fill="#2c7a89"/><rect x="61.7" y="138.6" width="4" height="4" fill="#2c7a89"/><rect x="58.8" y="143.1" width="4" height="4" fill="#2c7a89"/></g><g transform="translate(1131.5,255.5)"><clipPath id="kc3"><path d="M9,0 L58.5,0 Q61,0 62.5,2.2 L65.0,4.4 Q66.5,5.5 69.0,5.5 L73.0,5.5 Q75.5,5.5 77.0,4.4 L79.5,2.2 Q81,0 83.5,0 L102.5,0 Q111.5,0 111.5,9 L111.5,30.5 Q111.5,33 108.7,34.5 L105.9,38.5 Q104.5,40 104.5,42.5 L104.5,83.5 Q104.5,86 105.9,87.5 L108.7,91.5 Q111.5,93 111.5,95.5 L111.5,172.5 Q111.5,174.5 109.5,175.5 L89.5,186.5 Q87.5,187.5 85.5,187.5 L9,187.5 Q0,187.5 0,178.5 L0,65.5 Q0,63 3.4000000000000004,61.5 L6.800000000000001,56.0 Q8.5,54.5 8.5,52.0 L8.5,44.0 Q8.5,41.5 6.800000000000001,40.0 L3.4000000000000004,34.5 Q0,33 0,30.5 L0,9 Q0,0 9,0 Z"/></clipPath><g clip-path="url(#kc3)"><rect x="0" y="0" width="111.5" height="187.5" fill="#ebe7e1"/><rect x="0" y="0" width="111.5" height="187.5" fill="#ece8e2"/><polygon points="0,4 9,12 9,44 0,52" fill="#c9c8c5"/><polygon points="0,96 9,104 9,140 0,148" fill="#c9c8c5"/><polygon points="0,150 9,158 9,178 0,186" fill="#c9c8c5"/><polygon points="102.5,58 111.5,50 111.5,118 102.5,110" fill="#c9c8c5"/><polygon points="102.5,150 111.5,142 111.5,186 102.5,178" fill="#c9c8c5"/><polygon points="10,0 40,0 34,7 16,7" fill="#c9c8c5"/><polygon points="72,0 100,0 94,7 78,7" fill="#c9c8c5"/><polygon points="14,187.5 42,187.5 36,181 20,181" fill="#c9c8c5"/><polygon points="70,187.5 98,187.5 92,181 76,181" fill="#c9c8c5"/><rect x="9.0" y="7.0" width="18.8" height="17.5" fill="#efebe5" stroke="#c3b9ad" stroke-width="0.5"/><rect x="12.8" y="10.6" width="10.9" height="8.2" fill="#f7f6f3" stroke="#cfc6bb" stroke-width="0.5"/><rect x="10.0" y="9.4" width="2.5" height="6.4" fill="#b9ac9b"/><rect x="9.0" y="24.5" width="18.8" height="17.5" fill="#efebe5" stroke="#c3b9ad" stroke-width="0.5"/><rect x="14.5" y="26.4" width="8.0" height="6.5" fill="#f7f6f3" stroke="#cfc6bb" stroke-width="0.5"/><rect x="27.8" y="7.0" width="18.8" height="17.5" fill="#efebe5" stroke="#c3b9ad" stroke-width="0.5"/><rect x="29.5" y="12.2" width="11.1" height="9.0" fill="#f7f6f3" stroke="#cfc6bb" stroke-width="0.5"/><rect x="28.8" y="12.8" width="2.5" height="8.0" fill="#b9ac9b"/><rect x="29.1" y="20.5" width="8.7" height="2.5" fill="#c2b5a4"/><rect x="27.8" y="24.5" width="18.8" height="17.5" fill="#efebe5" stroke="#c3b9ad" stroke-width="0.5"/><rect x="32.3" y="28.9" width="8.1" height="8.7" fill="#f7f6f3" stroke="#cfc6bb" stroke-width="0.5"/><rect x="28.8" y="30.5" width="2.5" height="6.4" fill="#b9ac9b"/><rect x="46.6" y="7.0" width="18.8" height="17.5" fill="#efebe5" stroke="#c3b9ad" stroke-width="0.5"/><rect x="50.4" y="9.5" width="11.3" height="10.5" fill="#f7f6f3" stroke="#cfc6bb" stroke-width="0.5"/><rect x="46.6" y="24.5" width="18.8" height="17.5" fill="#efebe5" stroke="#c3b9ad" stroke-width="0.5"/><rect x="49.7" y="26.9" width="7.9" height="6.4" fill="#f7f6f3" stroke="#cfc6bb" stroke-width="0.5"/><rect x="61.4" y="26.3" width="2.5" height="5.4" fill="#b9ac9b"/><rect x="47.7" y="38.0" width="7.7" height="2.5" fill="#c2b5a4"/><rect x="65.4" y="7.0" width="18.8" height="17.5" fill="#efebe5" stroke="#c3b9ad" stroke-width="0.5"/><rect x="68.0" y="12.0" width="6.8" height="7.8" fill="#f7f6f3" stroke="#cfc6bb" stroke-width="0.5"/><rect x="80.2" y="8.6" width="2.5" height="7.0" fill="#b9ac9b"/><rect x="65.4" y="24.5" width="18.8" height="17.5" fill="#efebe5" stroke="#c3b9ad" stroke-width="0.5"/><rect x="68.3" y="26.3" width="8.1" height="10.3" fill="#f7f6f3" stroke="#cfc6bb" stroke-width="0.5"/><rect x="66.4" y="26.5" width="2.5" height="7.4" fill="#b9ac9b"/><rect x="70.3" y="38.0" width="6.6" height="2.5" fill="#c2b5a4"/><rect x="84.2" y="7.0" width="18.8" height="17.5" fill="#efebe5" stroke="#c3b9ad" stroke-width="0.5"/><rect x="89.2" y="9.2" width="9.0" height="10.4" fill="#f7f6f3" stroke="#cfc6bb" stroke-width="0.5"/><rect x="99.0" y="13.0" width="2.5" height="4.6" fill="#b9ac9b"/><rect x="87.0" y="20.5" width="5.5" height="2.5" fill="#c2b5a4"/><rect x="84.2" y="24.5" width="18.8" height="17.5" fill="#efebe5" stroke="#c3b9ad" stroke-width="0.5"/><rect x="90.6" y="29.0" width="8.0" height="10.0" fill="#f7f6f3" stroke="#cfc6bb" stroke-width="0.5"/><rect x="99.0" y="33.2" width="2.5" height="6.9" fill="#b9ac9b"/><rect x="9.0" y="148.0" width="18.8" height="16.5" fill="#efebe5" stroke="#c3b9ad" stroke-width="0.5"/><rect x="10.7" y="150.0" width="8.7" height="5.8" fill="#f7f6f3" stroke="#cfc6bb" stroke-width="0.5"/><rect x="23.8" y="151.8" width="2.5" height="4.3" fill="#b9ac9b"/><rect x="15.3" y="160.5" width="4.1" height="2.5" fill="#c2b5a4"/><rect x="9.0" y="164.5" width="18.8" height="16.5" fill="#efebe5" stroke="#c3b9ad" stroke-width="0.5"/><rect x="12.4" y="168.1" width="7.2" height="8.2" fill="#f7f6f3" stroke="#cfc6bb" stroke-width="0.5"/><rect x="13.2" y="177.0" width="7.4" height="2.5" fill="#c2b5a4"/><rect x="27.8" y="148.0" width="18.8" height="16.5" fill="#efebe5" stroke="#c3b9ad" stroke-width="0.5"/><rect x="30.9" y="150.3" width="9.4" height="8.8" fill="#f7f6f3" stroke="#cfc6bb" stroke-width="0.5"/><rect x="28.8" y="154.0" width="2.5" height="5.6" fill="#b9ac9b"/><rect x="29.5" y="160.5" width="4.3" height="2.5" fill="#c2b5a4"/><rect x="27.8" y="164.5" width="18.8" height="16.5" fill="#efebe5" stroke="#c3b9ad" stroke-width="0.5"/><rect x="29.9" y="167.8" width="7.8" height="8.8" fill="#f7f6f3" stroke="#cfc6bb" stroke-width="0.5"/><rect x="42.6" y="171.5" width="2.5" height="6.5" fill="#b9ac9b"/><rect x="30.3" y="177.0" width="7.9" height="2.5" fill="#c2b5a4"/><rect x="46.6" y="148.0" width="18.8" height="16.5" fill="#efebe5" stroke="#c3b9ad" stroke-width="0.5"/><rect x="48.4" y="150.3" width="9.2" height="9.3" fill="#f7f6f3" stroke="#cfc6bb" stroke-width="0.5"/><rect x="61.4" y="150.5" width="2.5" height="7.9" fill="#b9ac9b"/><rect x="46.6" y="164.5" width="18.8" height="16.5" fill="#efebe5" stroke="#c3b9ad" stroke-width="0.5"/><rect x="48.5" y="167.4" width="7.8" height="6.0" fill="#f7f6f3" stroke="#cfc6bb" stroke-width="0.5"/><rect x="47.6" y="166.2" width="2.5" height="4.6" fill="#b9ac9b"/><rect x="50.4" y="177.0" width="8.0" height="2.5" fill="#c2b5a4"/><rect x="65.4" y="148.0" width="18.8" height="16.5" fill="#efebe5" stroke="#c3b9ad" stroke-width="0.5"/><rect x="69.6" y="152.8" width="9.4" height="9.6" fill="#f7f6f3" stroke="#cfc6bb" stroke-width="0.5"/><rect x="80.2" y="154.1" width="2.5" height="8.1" fill="#b9ac9b"/><rect x="71.7" y="160.5" width="6.6" height="2.5" fill="#c2b5a4"/><rect x="65.4" y="164.5" width="18.8" height="16.5" fill="#efebe5" stroke="#c3b9ad" stroke-width="0.5"/><rect x="70.6" y="167.1" width="11.3" height="6.1" fill="#f7f6f3" stroke="#cfc6bb" stroke-width="0.5"/><rect x="66.4" y="172.0" width="2.5" height="7.1" fill="#b9ac9b"/><rect x="84.2" y="148.0" width="18.8" height="16.5" fill="#efebe5" stroke="#c3b9ad" stroke-width="0.5"/><rect x="89.7" y="152.7" width="8.2" height="8.6" fill="#f7f6f3" stroke="#cfc6bb" stroke-width="0.5"/><rect x="84.2" y="164.5" width="18.8" height="16.5" fill="#efebe5" stroke="#c3b9ad" stroke-width="0.5"/><rect x="87.8" y="168.7" width="10.6" height="8.1" fill="#f7f6f3" stroke="#cfc6bb" stroke-width="0.5"/><rect x="99.0" y="168.2" width="2.5" height="4.1" fill="#b9ac9b"/><rect x="86.0" y="177.0" width="4.6" height="2.5" fill="#c2b5a4"/><rect x="68.0" y="42.0" width="17.5" height="21.2" fill="#efebe5" stroke="#c3b9ad" stroke-width="0.5"/><rect x="70.7" y="45.5" width="7.6" height="12.4" fill="#f7f6f3" stroke="#cfc6bb" stroke-width="0.5"/><rect x="81.5" y="47.2" width="2.5" height="9.5" fill="#b9ac9b"/><rect x="74.8" y="59.2" width="4.1" height="2.5" fill="#c2b5a4"/><rect x="68.0" y="63.2" width="17.5" height="21.2" fill="#efebe5" stroke="#c3b9ad" stroke-width="0.5"/><rect x="72.3" y="67.0" width="7.1" height="11.1" fill="#f7f6f3" stroke="#cfc6bb" stroke-width="0.5"/><rect x="81.5" y="66.7" width="2.5" height="4.1" fill="#b9ac9b"/><rect x="74.3" y="80.4" width="5.0" height="2.5" fill="#c2b5a4"/><rect x="68.0" y="84.4" width="17.5" height="21.2" fill="#efebe5" stroke="#c3b9ad" stroke-width="0.5"/><rect x="70.3" y="90.3" width="9.0" height="9.8" fill="#f7f6f3" stroke="#cfc6bb" stroke-width="0.5"/><rect x="74.2" y="101.6" width="4.9" height="2.5" fill="#c2b5a4"/><rect x="68.0" y="105.6" width="17.5" height="21.2" fill="#efebe5" stroke="#c3b9ad" stroke-width="0.5"/><rect x="71.5" y="111.0" width="10.1" height="12.1" fill="#f7f6f3" stroke="#cfc6bb" stroke-width="0.5"/><rect x="81.5" y="108.6" width="2.5" height="4.9" fill="#b9ac9b"/><rect x="75.9" y="122.8" width="4.2" height="2.5" fill="#c2b5a4"/><rect x="68.0" y="126.8" width="17.5" height="21.2" fill="#efebe5" stroke="#c3b9ad" stroke-width="0.5"/><rect x="69.8" y="133.1" width="9.7" height="8.0" fill="#f7f6f3" stroke="#cfc6bb" stroke-width="0.5"/><rect x="69.0" y="135.8" width="2.5" height="6.5" fill="#b9ac9b"/><rect x="85.5" y="42.0" width="17.5" height="21.2" fill="#efebe5" stroke="#c3b9ad" stroke-width="0.5"/><rect x="90.1" y="47.0" width="9.8" height="10.7" fill="#f7f6f3" stroke="#cfc6bb" stroke-width="0.5"/><rect x="86.5" y="45.7" width="2.5" height="8.0" fill="#b9ac9b"/><rect x="85.5" y="63.2" width="17.5" height="21.2" fill="#efebe5" stroke="#c3b9ad" stroke-width="0.5"/><rect x="88.3" y="66.4" width="9.0" height="10.4" fill="#f7f6f3" stroke="#cfc6bb" stroke-width="0.5"/><rect x="99.0" y="68.6" width="2.5" height="4.2" fill="#b9ac9b"/><rect x="85.5" y="84.4" width="17.5" height="21.2" fill="#efebe5" stroke="#c3b9ad" stroke-width="0.5"/><rect x="88.1" y="86.6" width="6.3" height="10.8" fill="#f7f6f3" stroke="#cfc6bb" stroke-width="0.5"/><rect x="99.0" y="94.6" width="2.5" height="8.5" fill="#b9ac9b"/><rect x="90.2" y="101.6" width="4.8" height="2.5" fill="#c2b5a4"/><rect x="85.5" y="105.6" width="17.5" height="21.2" fill="#efebe5" stroke="#c3b9ad" stroke-width="0.5"/><rect x="87.0" y="109.4" width="9.2" height="8.4" fill="#f7f6f3" stroke="#cfc6bb" stroke-width="0.5"/><rect x="99.0" y="111.8" width="2.5" height="10.2" fill="#b9ac9b"/><rect x="85.5" y="126.8" width="17.5" height="21.2" fill="#efebe5" stroke="#c3b9ad" stroke-width="0.5"/><rect x="91.6" y="129.1" width="9.8" height="11.1" fill="#f7f6f3" stroke="#cfc6bb" stroke-width="0.5"/><rect x="99.0" y="136.8" width="2.5" height="8.8" fill="#b9ac9b"/><rect x="90.0" y="144.0" width="7.0" height="2.5" fill="#c2b5a4"/><rect x="9.0" y="42.0" width="16.0" height="21.2" fill="#efebe5" stroke="#c3b9ad" stroke-width="0.5"/><rect x="14.2" y="45.3" width="7.9" height="12.1" fill="#f7f6f3" stroke="#cfc6bb" stroke-width="0.5"/><rect x="21.0" y="47.5" width="2.5" height="8.3" fill="#b9ac9b"/><rect x="15.1" y="59.2" width="7.3" height="2.5" fill="#c2b5a4"/><rect x="9.0" y="63.2" width="16.0" height="21.2" fill="#efebe5" stroke="#c3b9ad" stroke-width="0.5"/><rect x="13.1" y="68.2" width="6.5" height="12.2" fill="#f7f6f3" stroke="#cfc6bb" stroke-width="0.5"/><rect x="9.0" y="84.4" width="16.0" height="21.2" fill="#efebe5" stroke="#c3b9ad" stroke-width="0.5"/><rect x="12.7" y="89.7" width="6.9" height="12.2" fill="#f7f6f3" stroke="#cfc6bb" stroke-width="0.5"/><rect x="10.6" y="101.6" width="5.8" height="2.5" fill="#c2b5a4"/><rect x="9.0" y="105.6" width="16.0" height="21.2" fill="#efebe5" stroke="#c3b9ad" stroke-width="0.5"/><rect x="12.8" y="110.8" width="7.5" height="7.6" fill="#f7f6f3" stroke="#cfc6bb" stroke-width="0.5"/><rect x="15.6" y="122.8" width="4.7" height="2.5" fill="#c2b5a4"/><rect x="9.0" y="126.8" width="16.0" height="21.2" fill="#efebe5" stroke="#c3b9ad" stroke-width="0.5"/><rect x="11.9" y="132.1" width="6.2" height="8.2" fill="#f7f6f3" stroke="#cfc6bb" stroke-width="0.5"/><rect x="21.0" y="136.9" width="2.5" height="7.3" fill="#b9ac9b"/><rect x="25.0" y="42.0" width="16.0" height="21.2" fill="#efebe5" stroke="#c3b9ad" stroke-width="0.5"/><rect x="26.9" y="44.6" width="7.7" height="9.0" fill="#f7f6f3" stroke="#cfc6bb" stroke-width="0.5"/><rect x="26.0" y="48.0" width="2.5" height="9.6" fill="#b9ac9b"/><rect x="25.0" y="63.2" width="16.0" height="21.2" fill="#efebe5" stroke="#c3b9ad" stroke-width="0.5"/><rect x="27.8" y="66.6" width="9.0" height="12.2" fill="#f7f6f3" stroke="#cfc6bb" stroke-width="0.5"/><rect x="26.0" y="73.5" width="2.5" height="7.5" fill="#b9ac9b"/><rect x="25.0" y="84.4" width="16.0" height="21.2" fill="#efebe5" stroke="#c3b9ad" stroke-width="0.5"/><rect x="27.3" y="88.5" width="7.6" height="10.6" fill="#f7f6f3" stroke="#cfc6bb" stroke-width="0.5"/><rect x="26.0" y="90.4" width="2.5" height="6.6" fill="#b9ac9b"/><rect x="25.0" y="105.6" width="16.0" height="21.2" fill="#efebe5" stroke="#c3b9ad" stroke-width="0.5"/><rect x="28.8" y="109.5" width="8.4" height="7.8" fill="#f7f6f3" stroke="#cfc6bb" stroke-width="0.5"/><rect x="37.0" y="115.4" width="2.5" height="9.3" fill="#b9ac9b"/><rect x="27.7" y="122.8" width="6.0" height="2.5" fill="#c2b5a4"/><rect x="25.0" y="126.8" width="16.0" height="21.2" fill="#efebe5" stroke="#c3b9ad" stroke-width="0.5"/><rect x="27.9" y="132.7" width="9.3" height="12.3" fill="#f7f6f3" stroke="#cfc6bb" stroke-width="0.5"/><rect x="26.0" y="129.6" width="2.5" height="8.1" fill="#b9ac9b"/><rect x="57" y="42" width="11" height="106" fill="#f2efea"/><line x1="57" y1="42" x2="57" y2="148" stroke="#c3b9ad" stroke-width="0.5"/><line x1="68" y1="42" x2="68" y2="148" stroke="#c3b9ad" stroke-width="0.5"/><rect x="41" y="44" width="16" height="30" fill="#d8d2ca" stroke="#a99f93" stroke-width="0.8"/><line x1="43" y1="49.0" x2="55" y2="49.0" stroke="#b8aea2" stroke-width="0.5"/><line x1="43" y1="54.0" x2="55" y2="54.0" stroke="#b8aea2" stroke-width="0.5"/><line x1="43" y1="59.0" x2="55" y2="59.0" stroke="#b8aea2" stroke-width="0.5"/><line x1="43" y1="64.0" x2="55" y2="64.0" stroke="#b8aea2" stroke-width="0.5"/><line x1="43" y1="69.0" x2="55" y2="69.0" stroke="#b8aea2" stroke-width="0.5"/><rect x="41" y="119" width="16" height="28" fill="#d8d2ca" stroke="#a99f93" stroke-width="0.8"/><line x1="43" y1="123.7" x2="55" y2="123.7" stroke="#b8aea2" stroke-width="0.5"/><line x1="43" y1="128.3" x2="55" y2="128.3" stroke="#b8aea2" stroke-width="0.5"/><line x1="43" y1="133.0" x2="55" y2="133.0" stroke="#b8aea2" stroke-width="0.5"/><line x1="43" y1="137.7" x2="55" y2="137.7" stroke="#b8aea2" stroke-width="0.5"/><line x1="43" y1="142.3" x2="55" y2="142.3" stroke="#b8aea2" stroke-width="0.5"/><rect x="42" y="84" width="9" height="9" fill="#d2ccc4" stroke="#a39a8f" stroke-width="0.6"/><rect x="42" y="94" width="9" height="9" fill="#d2ccc4" stroke="#a39a8f" stroke-width="0.6"/><rect x="42" y="104" width="9" height="9" fill="#d2ccc4" stroke="#a39a8f" stroke-width="0.6"/><circle cx="3" cy="54" r="2.2" fill="#4f7a35"/><circle cx="3" cy="110" r="2.2" fill="#4f7a35"/><circle cx="106" cy="38" r="2.2" fill="#4f7a35"/><circle cx="106" cy="120" r="2.2" fill="#4f7a35"/><circle cx="106" cy="140" r="2.2" fill="#4f7a35"/><circle cx="40" cy="180" r="2.2" fill="#4f7a35"/><circle cx="60" cy="181" r="2.2" fill="#4f7a35"/><circle cx="23" cy="3" r="2.2" fill="#4f7a35"/><path d="M9,47.5 H41 V73 H52.8 V80.5 H41 V97 H9 Z" fill="#5f98a2"/><rect x="12" y="52" width="14" height="12" fill="#7fb3bc" stroke="#4f858e" stroke-width="0.9"/><rect x="12" y="66" width="12" height="10" fill="#7fb3bc" stroke="#4f858e" stroke-width="0.9"/><rect x="26" y="56" width="6" height="14" fill="#7fb3bc" stroke="#4f858e" stroke-width="0.9"/><rect x="12" y="80" width="10" height="9" fill="#7fb3bc" stroke="#4f858e" stroke-width="0.9"/><rect x="28" y="84" width="10" height="10" fill="#7fb3bc" stroke="#4f858e" stroke-width="0.9"/><line x1="25" y1="48" x2="25" y2="70" stroke="#3f7780" stroke-width="1.6"/><line x1="9" y1="70" x2="30" y2="70" stroke="#3f7780" stroke-width="1.6"/><line x1="30" y1="70" x2="30" y2="90" stroke="#3f7780" stroke-width="1.6"/><line x1="12" y1="96" x2="41" y2="96" stroke="#3f7780" stroke-width="1.6"/></g><path d="M9,0 L58.5,0 Q61,0 62.5,2.2 L65.0,4.4 Q66.5,5.5 69.0,5.5 L73.0,5.5 Q75.5,5.5 77.0,4.4 L79.5,2.2 Q81,0 83.5,0 L102.5,0 Q111.5,0 111.5,9 L111.5,30.5 Q111.5,33 108.7,34.5 L105.9,38.5 Q104.5,40 104.5,42.5 L104.5,83.5 Q104.5,86 105.9,87.5 L108.7,91.5 Q111.5,93 111.5,95.5 L111.5,172.5 Q111.5,174.5 109.5,175.5 L89.5,186.5 Q87.5,187.5 85.5,187.5 L9,187.5 Q0,187.5 0,178.5 L0,65.5 Q0,63 3.4000000000000004,61.5 L6.800000000000001,56.0 Q8.5,54.5 8.5,52.0 L8.5,44.0 Q8.5,41.5 6.800000000000001,40.0 L3.4000000000000004,34.5 Q0,33 0,30.5 L0,9 Q0,0 9,0 Z" fill="none" stroke="#555" stroke-width="1.5"/><rect x="59.6" y="37.3" width="4" height="4" fill="#2c7a89"/><rect x="58.8" y="41.8" width="4" height="4" fill="#2c7a89"/><rect x="52.8" y="74.1" width="4" height="4" fill="#2c7a89"/><rect x="61.7" y="75.8" width="4" height="4" fill="#2c7a89"/><rect x="53.7" y="113.5" width="4" height="4" fill="#2c7a89"/><rect x="61.7" y="138.6" width="4" height="4" fill="#2c7a89"/><rect x="58.8" y="143.1" width="4" height="4" fill="#2c7a89"/></g><g transform="translate(1000,467.5)"><clipPath id="kc4"><path d="M9,0 L13.5,0 Q16,0 17.5,2.4000000000000004 L20.5,4.800000000000001 Q22,6 24.5,6 L33.5,6 Q36,6 37.5,4.800000000000001 L40.5,2.4000000000000004 Q42,0 44.5,0 L102.5,0 Q111.5,0 111.5,9 L111.5,108.5 Q111.5,111 108.3,112.5 L105.1,117.5 Q103.5,119 103.5,121.5 L103.5,126.5 Q103.5,129 105.1,130.5 L108.3,135.5 Q111.5,137 111.5,139.5 L111.5,178.5 Q111.5,187.5 102.5,187.5 L67.5,187.5 Q65,187.5 63.5,184.3 L58.5,181.1 Q57,179.5 54.5,179.5 L36.5,179.5 Q34,179.5 32.5,181.1 L27.5,184.3 Q26,187.5 23.5,187.5 L9,187.5 Q0,187.5 0,178.5 L0,114.5 Q0,112 3.4000000000000004,110.5 L6.800000000000001,105.0 Q8.5,103.5 8.5,101.0 L8.5,91.0 Q8.5,88.5 6.800000000000001,87.0 L3.4000000000000004,81.5 Q0,80 0,77.5 L0,9 Q0,0 9,0 Z"/></clipPath><g clip-path="url(#kc4)"><rect x="0" y="0" width="111.5" height="187.5" fill="#ebe7e1"/><rect x="0" y="0" width="111.5" height="187.5" fill="#ece8e2"/><polygon points="0,4 9,12 9,44 0,52" fill="#c9c8c5"/><polygon points="0,96 9,104 9,140 0,148" fill="#c9c8c5"/><polygon points="0,150 9,158 9,178 0,186" fill="#c9c8c5"/><polygon points="102.5,58 111.5,50 111.5,118 102.5,110" fill="#c9c8c5"/><polygon points="102.5,150 111.5,142 111.5,186 102.5,178" fill="#c9c8c5"/><polygon points="10,0 40,0 34,7 16,7" fill="#c9c8c5"/><polygon points="72,0 100,0 94,7 78,7" fill="#c9c8c5"/><polygon points="14,187.5 42,187.5 36,181 20,181" fill="#c9c8c5"/><polygon points="70,187.5 98,187.5 92,181 76,181" fill="#c9c8c5"/><rect x="9.0" y="7.0" width="18.8" height="17.5" fill="#efebe5" stroke="#c3b9ad" stroke-width="0.5"/><rect x="12.8" y="10.6" width="10.9" height="8.2" fill="#f7f6f3" stroke="#cfc6bb" stroke-width="0.5"/><rect x="10.0" y="9.4" width="2.5" height="6.4" fill="#b9ac9b"/><rect x="9.0" y="24.5" width="18.8" height="17.5" fill="#efebe5" stroke="#c3b9ad" stroke-width="0.5"/><rect x="14.5" y="26.4" width="8.0" height="6.5" fill="#f7f6f3" stroke="#cfc6bb" stroke-width="0.5"/><rect x="27.8" y="7.0" width="18.8" height="17.5" fill="#efebe5" stroke="#c3b9ad" stroke-width="0.5"/><rect x="29.5" y="12.2" width="11.1" height="9.0" fill="#f7f6f3" stroke="#cfc6bb" stroke-width="0.5"/><rect x="28.8" y="12.8" width="2.5" height="8.0" fill="#b9ac9b"/><rect x="29.1" y="20.5" width="8.7" height="2.5" fill="#c2b5a4"/><rect x="27.8" y="24.5" width="18.8" height="17.5" fill="#efebe5" stroke="#c3b9ad" stroke-width="0.5"/><rect x="32.3" y="28.9" width="8.1" height="8.7" fill="#f7f6f3" stroke="#cfc6bb" stroke-width="0.5"/><rect x="28.8" y="30.5" width="2.5" height="6.4" fill="#b9ac9b"/><rect x="46.6" y="7.0" width="18.8" height="17.5" fill="#efebe5" stroke="#c3b9ad" stroke-width="0.5"/><rect x="50.4" y="9.5" width="11.3" height="10.5" fill="#f7f6f3" stroke="#cfc6bb" stroke-width="0.5"/><rect x="46.6" y="24.5" width="18.8" height="17.5" fill="#efebe5" stroke="#c3b9ad" stroke-width="0.5"/><rect x="49.7" y="26.9" width="7.9" height="6.4" fill="#f7f6f3" stroke="#cfc6bb" stroke-width="0.5"/><rect x="61.4" y="26.3" width="2.5" height="5.4" fill="#b9ac9b"/><rect x="47.7" y="38.0" width="7.7" height="2.5" fill="#c2b5a4"/><rect x="65.4" y="7.0" width="18.8" height="17.5" fill="#efebe5" stroke="#c3b9ad" stroke-width="0.5"/><rect x="68.0" y="12.0" width="6.8" height="7.8" fill="#f7f6f3" stroke="#cfc6bb" stroke-width="0.5"/><rect x="80.2" y="8.6" width="2.5" height="7.0" fill="#b9ac9b"/><rect x="65.4" y="24.5" width="18.8" height="17.5" fill="#efebe5" stroke="#c3b9ad" stroke-width="0.5"/><rect x="68.3" y="26.3" width="8.1" height="10.3" fill="#f7f6f3" stroke="#cfc6bb" stroke-width="0.5"/><rect x="66.4" y="26.5" width="2.5" height="7.4" fill="#b9ac9b"/><rect x="70.3" y="38.0" width="6.6" height="2.5" fill="#c2b5a4"/><rect x="84.2" y="7.0" width="18.8" height="17.5" fill="#efebe5" stroke="#c3b9ad" stroke-width="0.5"/><rect x="89.2" y="9.2" width="9.0" height="10.4" fill="#f7f6f3" stroke="#cfc6bb" stroke-width="0.5"/><rect x="99.0" y="13.0" width="2.5" height="4.6" fill="#b9ac9b"/><rect x="87.0" y="20.5" width="5.5" height="2.5" fill="#c2b5a4"/><rect x="84.2" y="24.5" width="18.8" height="17.5" fill="#efebe5" stroke="#c3b9ad" stroke-width="0.5"/><rect x="90.6" y="29.0" width="8.0" height="10.0" fill="#f7f6f3" stroke="#cfc6bb" stroke-width="0.5"/><rect x="99.0" y="33.2" width="2.5" height="6.9" fill="#b9ac9b"/><rect x="9.0" y="148.0" width="18.8" height="16.5" fill="#efebe5" stroke="#c3b9ad" stroke-width="0.5"/><rect x="10.7" y="150.0" width="8.7" height="5.8" fill="#f7f6f3" stroke="#cfc6bb" stroke-width="0.5"/><rect x="23.8" y="151.8" width="2.5" height="4.3" fill="#b9ac9b"/><rect x="15.3" y="160.5" width="4.1" height="2.5" fill="#c2b5a4"/><rect x="9.0" y="164.5" width="18.8" height="16.5" fill="#efebe5" stroke="#c3b9ad" stroke-width="0.5"/><rect x="12.4" y="168.1" width="7.2" height="8.2" fill="#f7f6f3" stroke="#cfc6bb" stroke-width="0.5"/><rect x="13.2" y="177.0" width="7.4" height="2.5" fill="#c2b5a4"/><rect x="27.8" y="148.0" width="18.8" height="16.5" fill="#efebe5" stroke="#c3b9ad" stroke-width="0.5"/><rect x="30.9" y="150.3" width="9.4" height="8.8" fill="#f7f6f3" stroke="#cfc6bb" stroke-width="0.5"/><rect x="28.8" y="154.0" width="2.5" height="5.6" fill="#b9ac9b"/><rect x="29.5" y="160.5" width="4.3" height="2.5" fill="#c2b5a4"/><rect x="27.8" y="164.5" width="18.8" height="16.5" fill="#efebe5" stroke="#c3b9ad" stroke-width="0.5"/><rect x="29.9" y="167.8" width="7.8" height="8.8" fill="#f7f6f3" stroke="#cfc6bb" stroke-width="0.5"/><rect x="42.6" y="171.5" width="2.5" height="6.5" fill="#b9ac9b"/><rect x="30.3" y="177.0" width="7.9" height="2.5" fill="#c2b5a4"/><rect x="46.6" y="148.0" width="18.8" height="16.5" fill="#efebe5" stroke="#c3b9ad" stroke-width="0.5"/><rect x="48.4" y="150.3" width="9.2" height="9.3" fill="#f7f6f3" stroke="#cfc6bb" stroke-width="0.5"/><rect x="61.4" y="150.5" width="2.5" height="7.9" fill="#b9ac9b"/><rect x="46.6" y="164.5" width="18.8" height="16.5" fill="#efebe5" stroke="#c3b9ad" stroke-width="0.5"/><rect x="48.5" y="167.4" width="7.8" height="6.0" fill="#f7f6f3" stroke="#cfc6bb" stroke-width="0.5"/><rect x="47.6" y="166.2" width="2.5" height="4.6" fill="#b9ac9b"/><rect x="50.4" y="177.0" width="8.0" height="2.5" fill="#c2b5a4"/><rect x="65.4" y="148.0" width="18.8" height="16.5" fill="#efebe5" stroke="#c3b9ad" stroke-width="0.5"/><rect x="69.6" y="152.8" width="9.4" height="9.6" fill="#f7f6f3" stroke="#cfc6bb" stroke-width="0.5"/><rect x="80.2" y="154.1" width="2.5" height="8.1" fill="#b9ac9b"/><rect x="71.7" y="160.5" width="6.6" height="2.5" fill="#c2b5a4"/><rect x="65.4" y="164.5" width="18.8" height="16.5" fill="#efebe5" stroke="#c3b9ad" stroke-width="0.5"/><rect x="70.6" y="167.1" width="11.3" height="6.1" fill="#f7f6f3" stroke="#cfc6bb" stroke-width="0.5"/><rect x="66.4" y="172.0" width="2.5" height="7.1" fill="#b9ac9b"/><rect x="84.2" y="148.0" width="18.8" height="16.5" fill="#efebe5" stroke="#c3b9ad" stroke-width="0.5"/><rect x="89.7" y="152.7" width="8.2" height="8.6" fill="#f7f6f3" stroke="#cfc6bb" stroke-width="0.5"/><rect x="84.2" y="164.5" width="18.8" height="16.5" fill="#efebe5" stroke="#c3b9ad" stroke-width="0.5"/><rect x="87.8" y="168.7" width="10.6" height="8.1" fill="#f7f6f3" stroke="#cfc6bb" stroke-width="0.5"/><rect x="99.0" y="168.2" width="2.5" height="4.1" fill="#b9ac9b"/><rect x="86.0" y="177.0" width="4.6" height="2.5" fill="#c2b5a4"/><rect x="68.0" y="42.0" width="17.5" height="21.2" fill="#efebe5" stroke="#c3b9ad" stroke-width="0.5"/><rect x="70.7" y="45.5" width="7.6" height="12.4" fill="#f7f6f3" stroke="#cfc6bb" stroke-width="0.5"/><rect x="81.5" y="47.2" width="2.5" height="9.5" fill="#b9ac9b"/><rect x="74.8" y="59.2" width="4.1" height="2.5" fill="#c2b5a4"/><rect x="68.0" y="63.2" width="17.5" height="21.2" fill="#efebe5" stroke="#c3b9ad" stroke-width="0.5"/><rect x="72.3" y="67.0" width="7.1" height="11.1" fill="#f7f6f3" stroke="#cfc6bb" stroke-width="0.5"/><rect x="81.5" y="66.7" width="2.5" height="4.1" fill="#b9ac9b"/><rect x="74.3" y="80.4" width="5.0" height="2.5" fill="#c2b5a4"/><rect x="68.0" y="84.4" width="17.5" height="21.2" fill="#efebe5" stroke="#c3b9ad" stroke-width="0.5"/><rect x="70.3" y="90.3" width="9.0" height="9.8" fill="#f7f6f3" stroke="#cfc6bb" stroke-width="0.5"/><rect x="74.2" y="101.6" width="4.9" height="2.5" fill="#c2b5a4"/><rect x="68.0" y="105.6" width="17.5" height="21.2" fill="#efebe5" stroke="#c3b9ad" stroke-width="0.5"/><rect x="71.5" y="111.0" width="10.1" height="12.1" fill="#f7f6f3" stroke="#cfc6bb" stroke-width="0.5"/><rect x="81.5" y="108.6" width="2.5" height="4.9" fill="#b9ac9b"/><rect x="75.9" y="122.8" width="4.2" height="2.5" fill="#c2b5a4"/><rect x="68.0" y="126.8" width="17.5" height="21.2" fill="#efebe5" stroke="#c3b9ad" stroke-width="0.5"/><rect x="69.8" y="133.1" width="9.7" height="8.0" fill="#f7f6f3" stroke="#cfc6bb" stroke-width="0.5"/><rect x="69.0" y="135.8" width="2.5" height="6.5" fill="#b9ac9b"/><rect x="85.5" y="42.0" width="17.5" height="21.2" fill="#efebe5" stroke="#c3b9ad" stroke-width="0.5"/><rect x="90.1" y="47.0" width="9.8" height="10.7" fill="#f7f6f3" stroke="#cfc6bb" stroke-width="0.5"/><rect x="86.5" y="45.7" width="2.5" height="8.0" fill="#b9ac9b"/><rect x="85.5" y="63.2" width="17.5" height="21.2" fill="#efebe5" stroke="#c3b9ad" stroke-width="0.5"/><rect x="88.3" y="66.4" width="9.0" height="10.4" fill="#f7f6f3" stroke="#cfc6bb" stroke-width="0.5"/><rect x="99.0" y="68.6" width="2.5" height="4.2" fill="#b9ac9b"/><rect x="85.5" y="84.4" width="17.5" height="21.2" fill="#efebe5" stroke="#c3b9ad" stroke-width="0.5"/><rect x="88.1" y="86.6" width="6.3" height="10.8" fill="#f7f6f3" stroke="#cfc6bb" stroke-width="0.5"/><rect x="99.0" y="94.6" width="2.5" height="8.5" fill="#b9ac9b"/><rect x="90.2" y="101.6" width="4.8" height="2.5" fill="#c2b5a4"/><rect x="85.5" y="105.6" width="17.5" height="21.2" fill="#efebe5" stroke="#c3b9ad" stroke-width="0.5"/><rect x="87.0" y="109.4" width="9.2" height="8.4" fill="#f7f6f3" stroke="#cfc6bb" stroke-width="0.5"/><rect x="99.0" y="111.8" width="2.5" height="10.2" fill="#b9ac9b"/><rect x="85.5" y="126.8" width="17.5" height="21.2" fill="#efebe5" stroke="#c3b9ad" stroke-width="0.5"/><rect x="91.6" y="129.1" width="9.8" height="11.1" fill="#f7f6f3" stroke="#cfc6bb" stroke-width="0.5"/><rect x="99.0" y="136.8" width="2.5" height="8.8" fill="#b9ac9b"/><rect x="90.0" y="144.0" width="7.0" height="2.5" fill="#c2b5a4"/><rect x="9.0" y="42.0" width="16.0" height="21.2" fill="#efebe5" stroke="#c3b9ad" stroke-width="0.5"/><rect x="14.2" y="45.3" width="7.9" height="12.1" fill="#f7f6f3" stroke="#cfc6bb" stroke-width="0.5"/><rect x="21.0" y="47.5" width="2.5" height="8.3" fill="#b9ac9b"/><rect x="15.1" y="59.2" width="7.3" height="2.5" fill="#c2b5a4"/><rect x="9.0" y="63.2" width="16.0" height="21.2" fill="#efebe5" stroke="#c3b9ad" stroke-width="0.5"/><rect x="13.1" y="68.2" width="6.5" height="12.2" fill="#f7f6f3" stroke="#cfc6bb" stroke-width="0.5"/><rect x="9.0" y="84.4" width="16.0" height="21.2" fill="#efebe5" stroke="#c3b9ad" stroke-width="0.5"/><rect x="12.7" y="89.7" width="6.9" height="12.2" fill="#f7f6f3" stroke="#cfc6bb" stroke-width="0.5"/><rect x="10.6" y="101.6" width="5.8" height="2.5" fill="#c2b5a4"/><rect x="9.0" y="105.6" width="16.0" height="21.2" fill="#efebe5" stroke="#c3b9ad" stroke-width="0.5"/><rect x="12.8" y="110.8" width="7.5" height="7.6" fill="#f7f6f3" stroke="#cfc6bb" stroke-width="0.5"/><rect x="15.6" y="122.8" width="4.7" height="2.5" fill="#c2b5a4"/><rect x="9.0" y="126.8" width="16.0" height="21.2" fill="#efebe5" stroke="#c3b9ad" stroke-width="0.5"/><rect x="11.9" y="132.1" width="6.2" height="8.2" fill="#f7f6f3" stroke="#cfc6bb" stroke-width="0.5"/><rect x="21.0" y="136.9" width="2.5" height="7.3" fill="#b9ac9b"/><rect x="25.0" y="42.0" width="16.0" height="21.2" fill="#efebe5" stroke="#c3b9ad" stroke-width="0.5"/><rect x="26.9" y="44.6" width="7.7" height="9.0" fill="#f7f6f3" stroke="#cfc6bb" stroke-width="0.5"/><rect x="26.0" y="48.0" width="2.5" height="9.6" fill="#b9ac9b"/><rect x="25.0" y="63.2" width="16.0" height="21.2" fill="#efebe5" stroke="#c3b9ad" stroke-width="0.5"/><rect x="27.8" y="66.6" width="9.0" height="12.2" fill="#f7f6f3" stroke="#cfc6bb" stroke-width="0.5"/><rect x="26.0" y="73.5" width="2.5" height="7.5" fill="#b9ac9b"/><rect x="25.0" y="84.4" width="16.0" height="21.2" fill="#efebe5" stroke="#c3b9ad" stroke-width="0.5"/><rect x="27.3" y="88.5" width="7.6" height="10.6" fill="#f7f6f3" stroke="#cfc6bb" stroke-width="0.5"/><rect x="26.0" y="90.4" width="2.5" height="6.6" fill="#b9ac9b"/><rect x="25.0" y="105.6" width="16.0" height="21.2" fill="#efebe5" stroke="#c3b9ad" stroke-width="0.5"/><rect x="28.8" y="109.5" width="8.4" height="7.8" fill="#f7f6f3" stroke="#cfc6bb" stroke-width="0.5"/><rect x="37.0" y="115.4" width="2.5" height="9.3" fill="#b9ac9b"/><rect x="27.7" y="122.8" width="6.0" height="2.5" fill="#c2b5a4"/><rect x="25.0" y="126.8" width="16.0" height="21.2" fill="#efebe5" stroke="#c3b9ad" stroke-width="0.5"/><rect x="27.9" y="132.7" width="9.3" height="12.3" fill="#f7f6f3" stroke="#cfc6bb" stroke-width="0.5"/><rect x="26.0" y="129.6" width="2.5" height="8.1" fill="#b9ac9b"/><rect x="57" y="42" width="11" height="106" fill="#f2efea"/><line x1="57" y1="42" x2="57" y2="148" stroke="#c3b9ad" stroke-width="0.5"/><line x1="68" y1="42" x2="68" y2="148" stroke="#c3b9ad" stroke-width="0.5"/><rect x="41" y="44" width="16" height="30" fill="#d8d2ca" stroke="#a99f93" stroke-width="0.8"/><line x1="43" y1="49.0" x2="55" y2="49.0" stroke="#b8aea2" stroke-width="0.5"/><line x1="43" y1="54.0" x2="55" y2="54.0" stroke="#b8aea2" stroke-width="0.5"/><line x1="43" y1="59.0" x2="55" y2="59.0" stroke="#b8aea2" stroke-width="0.5"/><line x1="43" y1="64.0" x2="55" y2="64.0" stroke="#b8aea2" stroke-width="0.5"/><line x1="43" y1="69.0" x2="55" y2="69.0" stroke="#b8aea2" stroke-width="0.5"/><rect x="41" y="119" width="16" height="28" fill="#d8d2ca" stroke="#a99f93" stroke-width="0.8"/><line x1="43" y1="123.7" x2="55" y2="123.7" stroke="#b8aea2" stroke-width="0.5"/><line x1="43" y1="128.3" x2="55" y2="128.3" stroke="#b8aea2" stroke-width="0.5"/><line x1="43" y1="133.0" x2="55" y2="133.0" stroke="#b8aea2" stroke-width="0.5"/><line x1="43" y1="137.7" x2="55" y2="137.7" stroke="#b8aea2" stroke-width="0.5"/><line x1="43" y1="142.3" x2="55" y2="142.3" stroke="#b8aea2" stroke-width="0.5"/><rect x="42" y="84" width="9" height="9" fill="#d2ccc4" stroke="#a39a8f" stroke-width="0.6"/><rect x="42" y="94" width="9" height="9" fill="#d2ccc4" stroke="#a39a8f" stroke-width="0.6"/><rect x="42" y="104" width="9" height="9" fill="#d2ccc4" stroke="#a39a8f" stroke-width="0.6"/><circle cx="3" cy="54" r="2.2" fill="#4f7a35"/><circle cx="3" cy="110" r="2.2" fill="#4f7a35"/><circle cx="106" cy="38" r="2.2" fill="#4f7a35"/><circle cx="106" cy="120" r="2.2" fill="#4f7a35"/><circle cx="106" cy="140" r="2.2" fill="#4f7a35"/><circle cx="40" cy="180" r="2.2" fill="#4f7a35"/><circle cx="60" cy="181" r="2.2" fill="#4f7a35"/><circle cx="23" cy="3" r="2.2" fill="#4f7a35"/><path d="M9,48 H41 V73.5 H52.8 V81 H41 V113 H52.8 V120.5 H41 V146 H9 Z" fill="#5f98a2"/><rect x="12" y="52" width="14" height="12" fill="#7fb3bc" stroke="#4f858e" stroke-width="0.9"/><rect x="12" y="66" width="12" height="10" fill="#7fb3bc" stroke="#4f858e" stroke-width="0.9"/><rect x="26" y="56" width="6" height="14" fill="#7fb3bc" stroke="#4f858e" stroke-width="0.9"/><rect x="12" y="80" width="10" height="9" fill="#7fb3bc" stroke="#4f858e" stroke-width="0.9"/><rect x="28" y="84" width="10" height="10" fill="#7fb3bc" stroke="#4f858e" stroke-width="0.9"/><rect x="12" y="100" width="14" height="12" fill="#7fb3bc" stroke="#4f858e" stroke-width="0.9"/><rect x="12" y="114" width="12" height="10" fill="#7fb3bc" stroke="#4f858e" stroke-width="0.9"/><rect x="26" y="104" width="6" height="14" fill="#7fb3bc" stroke="#4f858e" stroke-width="0.9"/><rect x="12" y="128" width="10" height="9" fill="#7fb3bc" stroke="#4f858e" stroke-width="0.9"/><rect x="28" y="130" width="10" height="10" fill="#7fb3bc" stroke="#4f858e" stroke-width="0.9"/><line x1="25" y1="48" x2="25" y2="70" stroke="#3f7780" stroke-width="1.6"/><line x1="9" y1="70" x2="30" y2="70" stroke="#3f7780" stroke-width="1.6"/><line x1="30" y1="70" x2="30" y2="90" stroke="#3f7780" stroke-width="1.6"/><line x1="12" y1="96" x2="41" y2="96" stroke="#3f7780" stroke-width="1.6"/><line x1="25" y1="100" x2="25" y2="120" stroke="#3f7780" stroke-width="1.6"/><line x1="9" y1="122" x2="30" y2="122" stroke="#3f7780" stroke-width="1.6"/><line x1="30" y1="122" x2="30" y2="140" stroke="#3f7780" stroke-width="1.6"/><line x1="36" y1="52" x2="36" y2="146" stroke="#3f7780" stroke-width="1.6"/></g><path d="M9,0 L13.5,0 Q16,0 17.5,2.4000000000000004 L20.5,4.800000000000001 Q22,6 24.5,6 L33.5,6 Q36,6 37.5,4.800000000000001 L40.5,2.4000000000000004 Q42,0 44.5,0 L102.5,0 Q111.5,0 111.5,9 L111.5,108.5 Q111.5,111 108.3,112.5 L105.1,117.5 Q103.5,119 103.5,121.5 L103.5,126.5 Q103.5,129 105.1,130.5 L108.3,135.5 Q111.5,137 111.5,139.5 L111.5,178.5 Q111.5,187.5 102.5,187.5 L67.5,187.5 Q65,187.5 63.5,184.3 L58.5,181.1 Q57,179.5 54.5,179.5 L36.5,179.5 Q34,179.5 32.5,181.1 L27.5,184.3 Q26,187.5 23.5,187.5 L9,187.5 Q0,187.5 0,178.5 L0,114.5 Q0,112 3.4000000000000004,110.5 L6.800000000000001,105.0 Q8.5,103.5 8.5,101.0 L8.5,91.0 Q8.5,88.5 6.800000000000001,87.0 L3.4000000000000004,81.5 Q0,80 0,77.5 L0,9 Q0,0 9,0 Z" fill="none" stroke="#555" stroke-width="1.5"/><rect x="59.6" y="37.3" width="4" height="4" fill="#2c7a89"/><rect x="58.8" y="41.8" width="4" height="4" fill="#2c7a89"/><rect x="52.8" y="74.1" width="4" height="4" fill="#2c7a89"/><rect x="61.7" y="75.8" width="4" height="4" fill="#2c7a89"/><rect x="53.7" y="113.5" width="4" height="4" fill="#2c7a89"/><rect x="61.7" y="138.6" width="4" height="4" fill="#2c7a89"/><rect x="58.8" y="143.1" width="4" height="4" fill="#2c7a89"/></g><g transform="translate(1131.5,467.5)"><clipPath id="kc5"><path d="M9,0 L41.5,0 Q44,0 45.5,2.2 L48.0,4.4 Q49.5,5.5 52.0,5.5 L53.0,5.5 Q55.5,5.5 57.0,4.4 L59.5,2.2 Q61,0 63.5,0 L102.5,0 Q111.5,0 111.5,9 L111.5,33.5 Q111.5,36 109.1,37.5 L106.7,40.5 Q105.5,42 105.5,44.5 L105.5,77.5 Q105.5,80 106.7,81.5 L109.1,84.5 Q111.5,86 111.5,88.5 L111.5,111.5 Q111.5,114 109.1,115.5 L106.7,118.5 Q105.5,120 105.5,122.5 L105.5,141.5 Q105.5,144 106.7,145.5 L109.1,148.5 Q111.5,150 111.5,152.5 L111.5,178.5 Q111.5,187.5 102.5,187.5 L81.5,187.5 Q79,187.5 77.5,184.7 L73.5,181.9 Q72,180.5 69.5,180.5 L69.5,180.5 Q67,180.5 65.5,181.9 L61.5,184.7 Q60,187.5 57.5,187.5 L9,187.5 Q0,187.5 0,178.5 L0,152.5 Q0,150 2.8000000000000003,148.5 L5.6000000000000005,144.5 Q7,143 7,140.5 L7,109.5 Q7,107 5.6000000000000005,105.5 L2.8000000000000003,101.5 Q0,100 0,97.5 L0,9 Q0,0 9,0 Z"/></clipPath><g clip-path="url(#kc5)"><rect x="0" y="0" width="111.5" height="187.5" fill="#ebe7e1"/><rect x="0" y="0" width="111.5" height="187.5" fill="#ece8e2"/><polygon points="0,4 9,12 9,44 0,52" fill="#c9c8c5"/><polygon points="0,96 9,104 9,140 0,148" fill="#c9c8c5"/><polygon points="0,150 9,158 9,178 0,186" fill="#c9c8c5"/><polygon points="102.5,58 111.5,50 111.5,118 102.5,110" fill="#c9c8c5"/><polygon points="102.5,150 111.5,142 111.5,186 102.5,178" fill="#c9c8c5"/><polygon points="10,0 40,0 34,7 16,7" fill="#c9c8c5"/><polygon points="72,0 100,0 94,7 78,7" fill="#c9c8c5"/><polygon points="14,187.5 42,187.5 36,181 20,181" fill="#c9c8c5"/><polygon points="70,187.5 98,187.5 92,181 76,181" fill="#c9c8c5"/><rect x="9.0" y="7.0" width="18.8" height="17.5" fill="#efebe5" stroke="#c3b9ad" stroke-width="0.5"/><rect x="12.8" y="10.6" width="10.9" height="8.2" fill="#f7f6f3" stroke="#cfc6bb" stroke-width="0.5"/><rect x="10.0" y="9.4" width="2.5" height="6.4" fill="#b9ac9b"/><rect x="9.0" y="24.5" width="18.8" height="17.5" fill="#efebe5" stroke="#c3b9ad" stroke-width="0.5"/><rect x="14.5" y="26.4" width="8.0" height="6.5" fill="#f7f6f3" stroke="#cfc6bb" stroke-width="0.5"/><rect x="27.8" y="7.0" width="18.8" height="17.5" fill="#efebe5" stroke="#c3b9ad" stroke-width="0.5"/><rect x="29.5" y="12.2" width="11.1" height="9.0" fill="#f7f6f3" stroke="#cfc6bb" stroke-width="0.5"/><rect x="28.8" y="12.8" width="2.5" height="8.0" fill="#b9ac9b"/><rect x="29.1" y="20.5" width="8.7" height="2.5" fill="#c2b5a4"/><rect x="27.8" y="24.5" width="18.8" height="17.5" fill="#efebe5" stroke="#c3b9ad" stroke-width="0.5"/><rect x="32.3" y="28.9" width="8.1" height="8.7" fill="#f7f6f3" stroke="#cfc6bb" stroke-width="0.5"/><rect x="28.8" y="30.5" width="2.5" height="6.4" fill="#b9ac9b"/><rect x="46.6" y="7.0" width="18.8" height="17.5" fill="#efebe5" stroke="#c3b9ad" stroke-width="0.5"/><rect x="50.4" y="9.5" width="11.3" height="10.5" fill="#f7f6f3" stroke="#cfc6bb" stroke-width="0.5"/><rect x="46.6" y="24.5" width="18.8" height="17.5" fill="#efebe5" stroke="#c3b9ad" stroke-width="0.5"/><rect x="49.7" y="26.9" width="7.9" height="6.4" fill="#f7f6f3" stroke="#cfc6bb" stroke-width="0.5"/><rect x="61.4" y="26.3" width="2.5" height="5.4" fill="#b9ac9b"/><rect x="47.7" y="38.0" width="7.7" height="2.5" fill="#c2b5a4"/><rect x="65.4" y="7.0" width="18.8" height="17.5" fill="#efebe5" stroke="#c3b9ad" stroke-width="0.5"/><rect x="68.0" y="12.0" width="6.8" height="7.8" fill="#f7f6f3" stroke="#cfc6bb" stroke-width="0.5"/><rect x="80.2" y="8.6" width="2.5" height="7.0" fill="#b9ac9b"/><rect x="65.4" y="24.5" width="18.8" height="17.5" fill="#efebe5" stroke="#c3b9ad" stroke-width="0.5"/><rect x="68.3" y="26.3" width="8.1" height="10.3" fill="#f7f6f3" stroke="#cfc6bb" stroke-width="0.5"/><rect x="66.4" y="26.5" width="2.5" height="7.4" fill="#b9ac9b"/><rect x="70.3" y="38.0" width="6.6" height="2.5" fill="#c2b5a4"/><rect x="84.2" y="7.0" width="18.8" height="17.5" fill="#efebe5" stroke="#c3b9ad" stroke-width="0.5"/><rect x="89.2" y="9.2" width="9.0" height="10.4" fill="#f7f6f3" stroke="#cfc6bb" stroke-width="0.5"/><rect x="99.0" y="13.0" width="2.5" height="4.6" fill="#b9ac9b"/><rect x="87.0" y="20.5" width="5.5" height="2.5" fill="#c2b5a4"/><rect x="84.2" y="24.5" width="18.8" height="17.5" fill="#efebe5" stroke="#c3b9ad" stroke-width="0.5"/><rect x="90.6" y="29.0" width="8.0" height="10.0" fill="#f7f6f3" stroke="#cfc6bb" stroke-width="0.5"/><rect x="99.0" y="33.2" width="2.5" height="6.9" fill="#b9ac9b"/><rect x="9.0" y="148.0" width="18.8" height="16.5" fill="#efebe5" stroke="#c3b9ad" stroke-width="0.5"/><rect x="10.7" y="150.0" width="8.7" height="5.8" fill="#f7f6f3" stroke="#cfc6bb" stroke-width="0.5"/><rect x="23.8" y="151.8" width="2.5" height="4.3" fill="#b9ac9b"/><rect x="15.3" y="160.5" width="4.1" height="2.5" fill="#c2b5a4"/><rect x="9.0" y="164.5" width="18.8" height="16.5" fill="#efebe5" stroke="#c3b9ad" stroke-width="0.5"/><rect x="12.4" y="168.1" width="7.2" height="8.2" fill="#f7f6f3" stroke="#cfc6bb" stroke-width="0.5"/><rect x="13.2" y="177.0" width="7.4" height="2.5" fill="#c2b5a4"/><rect x="27.8" y="148.0" width="18.8" height="16.5" fill="#efebe5" stroke="#c3b9ad" stroke-width="0.5"/><rect x="30.9" y="150.3" width="9.4" height="8.8" fill="#f7f6f3" stroke="#cfc6bb" stroke-width="0.5"/><rect x="28.8" y="154.0" width="2.5" height="5.6" fill="#b9ac9b"/><rect x="29.5" y="160.5" width="4.3" height="2.5" fill="#c2b5a4"/><rect x="27.8" y="164.5" width="18.8" height="16.5" fill="#efebe5" stroke="#c3b9ad" stroke-width="0.5"/><rect x="29.9" y="167.8" width="7.8" height="8.8" fill="#f7f6f3" stroke="#cfc6bb" stroke-width="0.5"/><rect x="42.6" y="171.5" width="2.5" height="6.5" fill="#b9ac9b"/><rect x="30.3" y="177.0" width="7.9" height="2.5" fill="#c2b5a4"/><rect x="46.6" y="148.0" width="18.8" height="16.5" fill="#efebe5" stroke="#c3b9ad" stroke-width="0.5"/><rect x="48.4" y="150.3" width="9.2" height="9.3" fill="#f7f6f3" stroke="#cfc6bb" stroke-width="0.5"/><rect x="61.4" y="150.5" width="2.5" height="7.9" fill="#b9ac9b"/><rect x="46.6" y="164.5" width="18.8" height="16.5" fill="#efebe5" stroke="#c3b9ad" stroke-width="0.5"/><rect x="48.5" y="167.4" width="7.8" height="6.0" fill="#f7f6f3" stroke="#cfc6bb" stroke-width="0.5"/><rect x="47.6" y="166.2" width="2.5" height="4.6" fill="#b9ac9b"/><rect x="50.4" y="177.0" width="8.0" height="2.5" fill="#c2b5a4"/><rect x="65.4" y="148.0" width="18.8" height="16.5" fill="#efebe5" stroke="#c3b9ad" stroke-width="0.5"/><rect x="69.6" y="152.8" width="9.4" height="9.6" fill="#f7f6f3" stroke="#cfc6bb" stroke-width="0.5"/><rect x="80.2" y="154.1" width="2.5" height="8.1" fill="#b9ac9b"/><rect x="71.7" y="160.5" width="6.6" height="2.5" fill="#c2b5a4"/><rect x="65.4" y="164.5" width="18.8" height="16.5" fill="#efebe5" stroke="#c3b9ad" stroke-width="0.5"/><rect x="70.6" y="167.1" width="11.3" height="6.1" fill="#f7f6f3" stroke="#cfc6bb" stroke-width="0.5"/><rect x="66.4" y="172.0" width="2.5" height="7.1" fill="#b9ac9b"/><rect x="84.2" y="148.0" width="18.8" height="16.5" fill="#efebe5" stroke="#c3b9ad" stroke-width="0.5"/><rect x="89.7" y="152.7" width="8.2" height="8.6" fill="#f7f6f3" stroke="#cfc6bb" stroke-width="0.5"/><rect x="84.2" y="164.5" width="18.8" height="16.5" fill="#efebe5" stroke="#c3b9ad" stroke-width="0.5"/><rect x="87.8" y="168.7" width="10.6" height="8.1" fill="#f7f6f3" stroke="#cfc6bb" stroke-width="0.5"/><rect x="99.0" y="168.2" width="2.5" height="4.1" fill="#b9ac9b"/><rect x="86.0" y="177.0" width="4.6" height="2.5" fill="#c2b5a4"/><rect x="68.0" y="42.0" width="17.5" height="21.2" fill="#efebe5" stroke="#c3b9ad" stroke-width="0.5"/><rect x="70.7" y="45.5" width="7.6" height="12.4" fill="#f7f6f3" stroke="#cfc6bb" stroke-width="0.5"/><rect x="81.5" y="47.2" width="2.5" height="9.5" fill="#b9ac9b"/><rect x="74.8" y="59.2" width="4.1" height="2.5" fill="#c2b5a4"/><rect x="68.0" y="63.2" width="17.5" height="21.2" fill="#efebe5" stroke="#c3b9ad" stroke-width="0.5"/><rect x="72.3" y="67.0" width="7.1" height="11.1" fill="#f7f6f3" stroke="#cfc6bb" stroke-width="0.5"/><rect x="81.5" y="66.7" width="2.5" height="4.1" fill="#b9ac9b"/><rect x="74.3" y="80.4" width="5.0" height="2.5" fill="#c2b5a4"/><rect x="68.0" y="84.4" width="17.5" height="21.2" fill="#efebe5" stroke="#c3b9ad" stroke-width="0.5"/><rect x="70.3" y="90.3" width="9.0" height="9.8" fill="#f7f6f3" stroke="#cfc6bb" stroke-width="0.5"/><rect x="74.2" y="101.6" width="4.9" height="2.5" fill="#c2b5a4"/><rect x="68.0" y="105.6" width="17.5" height="21.2" fill="#efebe5" stroke="#c3b9ad" stroke-width="0.5"/><rect x="71.5" y="111.0" width="10.1" height="12.1" fill="#f7f6f3" stroke="#cfc6bb" stroke-width="0.5"/><rect x="81.5" y="108.6" width="2.5" height="4.9" fill="#b9ac9b"/><rect x="75.9" y="122.8" width="4.2" height="2.5" fill="#c2b5a4"/><rect x="68.0" y="126.8" width="17.5" height="21.2" fill="#efebe5" stroke="#c3b9ad" stroke-width="0.5"/><rect x="69.8" y="133.1" width="9.7" height="8.0" fill="#f7f6f3" stroke="#cfc6bb" stroke-width="0.5"/><rect x="69.0" y="135.8" width="2.5" height="6.5" fill="#b9ac9b"/><rect x="85.5" y="42.0" width="17.5" height="21.2" fill="#efebe5" stroke="#c3b9ad" stroke-width="0.5"/><rect x="90.1" y="47.0" width="9.8" height="10.7" fill="#f7f6f3" stroke="#cfc6bb" stroke-width="0.5"/><rect x="86.5" y="45.7" width="2.5" height="8.0" fill="#b9ac9b"/><rect x="85.5" y="63.2" width="17.5" height="21.2" fill="#efebe5" stroke="#c3b9ad" stroke-width="0.5"/><rect x="88.3" y="66.4" width="9.0" height="10.4" fill="#f7f6f3" stroke="#cfc6bb" stroke-width="0.5"/><rect x="99.0" y="68.6" width="2.5" height="4.2" fill="#b9ac9b"/><rect x="85.5" y="84.4" width="17.5" height="21.2" fill="#efebe5" stroke="#c3b9ad" stroke-width="0.5"/><rect x="88.1" y="86.6" width="6.3" height="10.8" fill="#f7f6f3" stroke="#cfc6bb" stroke-width="0.5"/><rect x="99.0" y="94.6" width="2.5" height="8.5" fill="#b9ac9b"/><rect x="90.2" y="101.6" width="4.8" height="2.5" fill="#c2b5a4"/><rect x="85.5" y="105.6" width="17.5" height="21.2" fill="#efebe5" stroke="#c3b9ad" stroke-width="0.5"/><rect x="87.0" y="109.4" width="9.2" height="8.4" fill="#f7f6f3" stroke="#cfc6bb" stroke-width="0.5"/><rect x="99.0" y="111.8" width="2.5" height="10.2" fill="#b9ac9b"/><rect x="85.5" y="126.8" width="17.5" height="21.2" fill="#efebe5" stroke="#c3b9ad" stroke-width="0.5"/><rect x="91.6" y="129.1" width="9.8" height="11.1" fill="#f7f6f3" stroke="#cfc6bb" stroke-width="0.5"/><rect x="99.0" y="136.8" width="2.5" height="8.8" fill="#b9ac9b"/><rect x="90.0" y="144.0" width="7.0" height="2.5" fill="#c2b5a4"/><rect x="9.0" y="42.0" width="16.0" height="21.2" fill="#efebe5" stroke="#c3b9ad" stroke-width="0.5"/><rect x="14.2" y="45.3" width="7.9" height="12.1" fill="#f7f6f3" stroke="#cfc6bb" stroke-width="0.5"/><rect x="21.0" y="47.5" width="2.5" height="8.3" fill="#b9ac9b"/><rect x="15.1" y="59.2" width="7.3" height="2.5" fill="#c2b5a4"/><rect x="9.0" y="63.2" width="16.0" height="21.2" fill="#efebe5" stroke="#c3b9ad" stroke-width="0.5"/><rect x="13.1" y="68.2" width="6.5" height="12.2" fill="#f7f6f3" stroke="#cfc6bb" stroke-width="0.5"/><rect x="9.0" y="84.4" width="16.0" height="21.2" fill="#efebe5" stroke="#c3b9ad" stroke-width="0.5"/><rect x="12.7" y="89.7" width="6.9" height="12.2" fill="#f7f6f3" stroke="#cfc6bb" stroke-width="0.5"/><rect x="10.6" y="101.6" width="5.8" height="2.5" fill="#c2b5a4"/><rect x="9.0" y="105.6" width="16.0" height="21.2" fill="#efebe5" stroke="#c3b9ad" stroke-width="0.5"/><rect x="12.8" y="110.8" width="7.5" height="7.6" fill="#f7f6f3" stroke="#cfc6bb" stroke-width="0.5"/><rect x="15.6" y="122.8" width="4.7" height="2.5" fill="#c2b5a4"/><rect x="9.0" y="126.8" width="16.0" height="21.2" fill="#efebe5" stroke="#c3b9ad" stroke-width="0.5"/><rect x="11.9" y="132.1" width="6.2" height="8.2" fill="#f7f6f3" stroke="#cfc6bb" stroke-width="0.5"/><rect x="21.0" y="136.9" width="2.5" height="7.3" fill="#b9ac9b"/><rect x="25.0" y="42.0" width="16.0" height="21.2" fill="#efebe5" stroke="#c3b9ad" stroke-width="0.5"/><rect x="26.9" y="44.6" width="7.7" height="9.0" fill="#f7f6f3" stroke="#cfc6bb" stroke-width="0.5"/><rect x="26.0" y="48.0" width="2.5" height="9.6" fill="#b9ac9b"/><rect x="25.0" y="63.2" width="16.0" height="21.2" fill="#efebe5" stroke="#c3b9ad" stroke-width="0.5"/><rect x="27.8" y="66.6" width="9.0" height="12.2" fill="#f7f6f3" stroke="#cfc6bb" stroke-width="0.5"/><rect x="26.0" y="73.5" width="2.5" height="7.5" fill="#b9ac9b"/><rect x="25.0" y="84.4" width="16.0" height="21.2" fill="#efebe5" stroke="#c3b9ad" stroke-width="0.5"/><rect x="27.3" y="88.5" width="7.6" height="10.6" fill="#f7f6f3" stroke="#cfc6bb" stroke-width="0.5"/><rect x="26.0" y="90.4" width="2.5" height="6.6" fill="#b9ac9b"/><rect x="25.0" y="105.6" width="16.0" height="21.2" fill="#efebe5" stroke="#c3b9ad" stroke-width="0.5"/><rect x="28.8" y="109.5" width="8.4" height="7.8" fill="#f7f6f3" stroke="#cfc6bb" stroke-width="0.5"/><rect x="37.0" y="115.4" width="2.5" height="9.3" fill="#b9ac9b"/><rect x="27.7" y="122.8" width="6.0" height="2.5" fill="#c2b5a4"/><rect x="25.0" y="126.8" width="16.0" height="21.2" fill="#efebe5" stroke="#c3b9ad" stroke-width="0.5"/><rect x="27.9" y="132.7" width="9.3" height="12.3" fill="#f7f6f3" stroke="#cfc6bb" stroke-width="0.5"/><rect x="26.0" y="129.6" width="2.5" height="8.1" fill="#b9ac9b"/><rect x="57" y="42" width="11" height="106" fill="#f2efea"/><line x1="57" y1="42" x2="57" y2="148" stroke="#c3b9ad" stroke-width="0.5"/><line x1="68" y1="42" x2="68" y2="148" stroke="#c3b9ad" stroke-width="0.5"/><rect x="41" y="44" width="16" height="30" fill="#d8d2ca" stroke="#a99f93" stroke-width="0.8"/><line x1="43" y1="49.0" x2="55" y2="49.0" stroke="#b8aea2" stroke-width="0.5"/><line x1="43" y1="54.0" x2="55" y2="54.0" stroke="#b8aea2" stroke-width="0.5"/><line x1="43" y1="59.0" x2="55" y2="59.0" stroke="#b8aea2" stroke-width="0.5"/><line x1="43" y1="64.0" x2="55" y2="64.0" stroke="#b8aea2" stroke-width="0.5"/><line x1="43" y1="69.0" x2="55" y2="69.0" stroke="#b8aea2" stroke-width="0.5"/><rect x="41" y="119" width="16" height="28" fill="#d8d2ca" stroke="#a99f93" stroke-width="0.8"/><line x1="43" y1="123.7" x2="55" y2="123.7" stroke="#b8aea2" stroke-width="0.5"/><line x1="43" y1="128.3" x2="55" y2="128.3" stroke="#b8aea2" stroke-width="0.5"/><line x1="43" y1="133.0" x2="55" y2="133.0" stroke="#b8aea2" stroke-width="0.5"/><line x1="43" y1="137.7" x2="55" y2="137.7" stroke="#b8aea2" stroke-width="0.5"/><line x1="43" y1="142.3" x2="55" y2="142.3" stroke="#b8aea2" stroke-width="0.5"/><rect x="42" y="84" width="9" height="9" fill="#d2ccc4" stroke="#a39a8f" stroke-width="0.6"/><rect x="42" y="94" width="9" height="9" fill="#d2ccc4" stroke="#a39a8f" stroke-width="0.6"/><rect x="42" y="104" width="9" height="9" fill="#d2ccc4" stroke="#a39a8f" stroke-width="0.6"/><circle cx="3" cy="54" r="2.2" fill="#4f7a35"/><circle cx="3" cy="110" r="2.2" fill="#4f7a35"/><circle cx="106" cy="38" r="2.2" fill="#4f7a35"/><circle cx="106" cy="120" r="2.2" fill="#4f7a35"/><circle cx="106" cy="140" r="2.2" fill="#4f7a35"/><circle cx="40" cy="180" r="2.2" fill="#4f7a35"/><circle cx="60" cy="181" r="2.2" fill="#4f7a35"/><circle cx="23" cy="3" r="2.2" fill="#4f7a35"/><path d="M9,48 H41 V73.5 H52.8 V81 H41 V113 H52.8 V120.5 H41 V146 H9 Z" fill="#5f98a2"/><rect x="12" y="52" width="14" height="12" fill="#7fb3bc" stroke="#4f858e" stroke-width="0.9"/><rect x="12" y="66" width="12" height="10" fill="#7fb3bc" stroke="#4f858e" stroke-width="0.9"/><rect x="26" y="56" width="6" height="14" fill="#7fb3bc" stroke="#4f858e" stroke-width="0.9"/><rect x="12" y="80" width="10" height="9" fill="#7fb3bc" stroke="#4f858e" stroke-width="0.9"/><rect x="28" y="84" width="10" height="10" fill="#7fb3bc" stroke="#4f858e" stroke-width="0.9"/><rect x="12" y="100" width="14" height="12" fill="#7fb3bc" stroke="#4f858e" stroke-width="0.9"/><rect x="12" y="114" width="12" height="10" fill="#7fb3bc" stroke="#4f858e" stroke-width="0.9"/><rect x="26" y="104" width="6" height="14" fill="#7fb3bc" stroke="#4f858e" stroke-width="0.9"/><rect x="12" y="128" width="10" height="9" fill="#7fb3bc" stroke="#4f858e" stroke-width="0.9"/><rect x="28" y="130" width="10" height="10" fill="#7fb3bc" stroke="#4f858e" stroke-width="0.9"/><line x1="25" y1="48" x2="25" y2="70" stroke="#3f7780" stroke-width="1.6"/><line x1="9" y1="70" x2="30" y2="70" stroke="#3f7780" stroke-width="1.6"/><line x1="30" y1="70" x2="30" y2="90" stroke="#3f7780" stroke-width="1.6"/><line x1="12" y1="96" x2="41" y2="96" stroke="#3f7780" stroke-width="1.6"/><line x1="25" y1="100" x2="25" y2="120" stroke="#3f7780" stroke-width="1.6"/><line x1="9" y1="122" x2="30" y2="122" stroke="#3f7780" stroke-width="1.6"/><line x1="30" y1="122" x2="30" y2="140" stroke="#3f7780" stroke-width="1.6"/><line x1="36" y1="52" x2="36" y2="146" stroke="#3f7780" stroke-width="1.6"/></g><path d="M9,0 L41.5,0 Q44,0 45.5,2.2 L48.0,4.4 Q49.5,5.5 52.0,5.5 L53.0,5.5 Q55.5,5.5 57.0,4.4 L59.5,2.2 Q61,0 63.5,0 L102.5,0 Q111.5,0 111.5,9 L111.5,33.5 Q111.5,36 109.1,37.5 L106.7,40.5 Q105.5,42 105.5,44.5 L105.5,77.5 Q105.5,80 106.7,81.5 L109.1,84.5 Q111.5,86 111.5,88.5 L111.5,111.5 Q111.5,114 109.1,115.5 L106.7,118.5 Q105.5,120 105.5,122.5 L105.5,141.5 Q105.5,144 106.7,145.5 L109.1,148.5 Q111.5,150 111.5,152.5 L111.5,178.5 Q111.5,187.5 102.5,187.5 L81.5,187.5 Q79,187.5 77.5,184.7 L73.5,181.9 Q72,180.5 69.5,180.5 L69.5,180.5 Q67,180.5 65.5,181.9 L61.5,184.7 Q60,187.5 57.5,187.5 L9,187.5 Q0,187.5 0,178.5 L0,152.5 Q0,150 2.8000000000000003,148.5 L5.6000000000000005,144.5 Q7,143 7,140.5 L7,109.5 Q7,107 5.6000000000000005,105.5 L2.8000000000000003,101.5 Q0,100 0,97.5 L0,9 Q0,0 9,0 Z" fill="none" stroke="#555" stroke-width="1.5"/><rect x="59.6" y="37.3" width="4" height="4" fill="#2c7a89"/><rect x="58.8" y="41.8" width="4" height="4" fill="#2c7a89"/><rect x="52.8" y="74.1" width="4" height="4" fill="#2c7a89"/><rect x="61.7" y="75.8" width="4" height="4" fill="#2c7a89"/><rect x="53.7" y="113.5" width="4" height="4" fill="#2c7a89"/><rect x="61.7" y="138.6" width="4" height="4" fill="#2c7a89"/><rect x="58.8" y="143.1" width="4" height="4" fill="#2c7a89"/></g></svg>
<div class="kl" style="left:985.55px;top:234.90px;transform:scaleX(0.89)">2<sup>nd</sup>, 4<sup>th</sup>, 6<sup>th</sup> Floor</div>
<div class="kl" style="left:1117.55px;top:234.90px;transform:scaleX(0.876)">3<sup>rd</sup>, 5<sup>th</sup>, 7<sup>th</sup> Floor</div>
<div class="kl" style="left:985.55px;top:446.90px;transform:scaleX(0.87)">8<sup>th</sup> and 10<sup>th</sup> Floor</div>
<div class="kl" style="left:1117.75px;top:446.90px;transform:scaleX(0.885)">9<sup>th</sup> Floor</div>
<div class="kl" style="left:985.65px;top:659.00px;transform:scaleX(0.81)">11<sup>th</sup> Floor</div>
<div class="kl" style="left:1117.60px;top:659.00px;transform:scaleX(0.83)">12<sup>th</sup> Floor</div></body></html>
